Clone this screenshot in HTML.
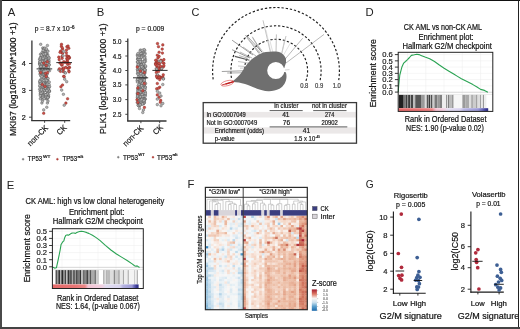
<!DOCTYPE html>
<html><head><meta charset="utf-8"><style>
html,body{margin:0;padding:0;background:#fff;}
svg{display:block;will-change:transform;}
text{font-family:"Liberation Sans", sans-serif;}
</style></head><body>
<svg width="520" height="329" viewBox="0 0 520 329">
<rect x="0" y="0" width="520" height="329" fill="#fff"/>
<text x="7.8" y="15.7" font-size="11.3" fill="#222">A</text>
<text x="96.8" y="15.8" font-size="11.3" fill="#222">B</text>
<text x="191.4" y="15.9" font-size="11.3" fill="#222" textLength="7.9" lengthAdjust="spacingAndGlyphs">C</text>
<text x="365.5" y="15.5" font-size="11.3" fill="#222">D</text>
<text x="6.7" y="188.6" font-size="11.3" fill="#222">E</text>
<text x="187.4" y="188.2" font-size="11.3" fill="#222">F</text>
<text x="365.7" y="188.2" font-size="11.3" fill="#222" textLength="7.9" lengthAdjust="spacingAndGlyphs">G</text>
<line x1="31.9" y1="40.5" x2="31.9" y2="120.8" stroke="#333" stroke-width="1.3" />
<line x1="31.2" y1="120.6" x2="70.2" y2="120.6" stroke="#333" stroke-width="1.3" />
<line x1="29" y1="63.5" x2="31.9" y2="63.5" stroke="#333" stroke-width="0.9" />
<text x="25.8" y="66.0" font-size="7.2" fill="#111" stroke="#111" stroke-width="0.2" text-anchor="end" >4</text>
<line x1="29" y1="90.4" x2="31.9" y2="90.4" stroke="#333" stroke-width="0.9" />
<text x="25.8" y="92.9" font-size="7.2" fill="#111" stroke="#111" stroke-width="0.2" text-anchor="end" >3</text>
<line x1="29" y1="117.2" x2="31.9" y2="117.2" stroke="#333" stroke-width="0.9" />
<text x="25.8" y="119.7" font-size="7.2" fill="#111" stroke="#111" stroke-width="0.2" text-anchor="end" >2</text>
<line x1="44.6" y1="120.6" x2="44.6" y2="122.8" stroke="#333" stroke-width="0.9" />
<line x1="64.7" y1="120.6" x2="64.7" y2="122.8" stroke="#333" stroke-width="0.9" />
<text transform="translate(16.2,79.2) rotate(-90)" font-size="9.6" fill="#111" stroke="#111" stroke-width="0.2" text-anchor="middle" textLength="113.7" lengthAdjust="spacingAndGlyphs">MKI67 (log10RPKM*1000 +1)</text>
<text x="34.8" y="31.1" font-size="6.8" fill="#222" stroke="#222" stroke-width="0.2" text-anchor="start" textLength="34.8" lengthAdjust="spacingAndGlyphs" >p = 8.7 x 10</text>
<text x="70.2" y="28.9" font-size="4.6" fill="#222" stroke="#222" stroke-width="0.2" text-anchor="start" textLength="4.5" lengthAdjust="spacingAndGlyphs" >-6</text>
<circle cx="46.40" cy="98.89" r="1.3" fill="#b4b4b4" stroke="#4a4a4a" stroke-width="0.4"/>
<circle cx="40.02" cy="67.43" r="1.3" fill="#b4b4b4" stroke="#4a4a4a" stroke-width="0.4"/>
<circle cx="45.90" cy="82.23" r="1.3" fill="#b4b4b4" stroke="#4a4a4a" stroke-width="0.4"/>
<circle cx="41.14" cy="94.82" r="1.3" fill="#b4b4b4" stroke="#4a4a4a" stroke-width="0.4"/>
<circle cx="41.64" cy="57.43" r="1.3" fill="#b4b4b4" stroke="#4a4a4a" stroke-width="0.4"/>
<circle cx="49.55" cy="70.75" r="1.3" fill="#b4b4b4" stroke="#4a4a4a" stroke-width="0.4"/>
<circle cx="47.40" cy="45.50" r="1.3" fill="#b4b4b4" stroke="#4a4a4a" stroke-width="0.4"/>
<circle cx="40.29" cy="79.93" r="1.3" fill="#b4b4b4" stroke="#4a4a4a" stroke-width="0.4"/>
<circle cx="44.03" cy="83.45" r="1.3" fill="#b4b4b4" stroke="#4a4a4a" stroke-width="0.4"/>
<circle cx="49.39" cy="91.41" r="1.3" fill="#b4b4b4" stroke="#4a4a4a" stroke-width="0.4"/>
<circle cx="46.36" cy="84.43" r="1.3" fill="#b4b4b4" stroke="#4a4a4a" stroke-width="0.4"/>
<circle cx="44.36" cy="58.63" r="1.3" fill="#b4b4b4" stroke="#4a4a4a" stroke-width="0.4"/>
<circle cx="39.88" cy="86.52" r="1.3" fill="#b4b4b4" stroke="#4a4a4a" stroke-width="0.4"/>
<circle cx="46.50" cy="60.59" r="1.3" fill="#b4b4b4" stroke="#4a4a4a" stroke-width="0.4"/>
<circle cx="42.81" cy="47.93" r="1.3" fill="#b4b4b4" stroke="#4a4a4a" stroke-width="0.4"/>
<circle cx="40.29" cy="63.35" r="1.3" fill="#b4b4b4" stroke="#4a4a4a" stroke-width="0.4"/>
<circle cx="40.25" cy="93.95" r="1.3" fill="#b4b4b4" stroke="#4a4a4a" stroke-width="0.4"/>
<circle cx="48.22" cy="96.32" r="1.3" fill="#b4b4b4" stroke="#4a4a4a" stroke-width="0.4"/>
<circle cx="47.91" cy="59.72" r="1.3" fill="#b4b4b4" stroke="#4a4a4a" stroke-width="0.4"/>
<circle cx="41.05" cy="71.00" r="1.3" fill="#b4b4b4" stroke="#4a4a4a" stroke-width="0.4"/>
<circle cx="40.53" cy="54.23" r="1.3" fill="#b4b4b4" stroke="#4a4a4a" stroke-width="0.4"/>
<circle cx="41.29" cy="81.60" r="1.3" fill="#b4b4b4" stroke="#4a4a4a" stroke-width="0.4"/>
<circle cx="39.80" cy="81.58" r="1.3" fill="#b4b4b4" stroke="#4a4a4a" stroke-width="0.4"/>
<circle cx="47.40" cy="103.00" r="1.3" fill="#b4b4b4" stroke="#4a4a4a" stroke-width="0.4"/>
<circle cx="46.77" cy="93.96" r="1.3" fill="#b4b4b4" stroke="#4a4a4a" stroke-width="0.4"/>
<circle cx="43.90" cy="64.64" r="1.3" fill="#b4b4b4" stroke="#4a4a4a" stroke-width="0.4"/>
<circle cx="44.97" cy="51.60" r="1.3" fill="#b4b4b4" stroke="#4a4a4a" stroke-width="0.4"/>
<circle cx="45.96" cy="87.73" r="1.3" fill="#b4b4b4" stroke="#4a4a4a" stroke-width="0.4"/>
<circle cx="39.68" cy="89.37" r="1.3" fill="#b4b4b4" stroke="#4a4a4a" stroke-width="0.4"/>
<circle cx="43.45" cy="63.88" r="1.3" fill="#b4b4b4" stroke="#4a4a4a" stroke-width="0.4"/>
<circle cx="42.04" cy="86.55" r="1.3" fill="#b4b4b4" stroke="#4a4a4a" stroke-width="0.4"/>
<circle cx="41.74" cy="91.05" r="1.3" fill="#b4b4b4" stroke="#4a4a4a" stroke-width="0.4"/>
<circle cx="47.24" cy="55.92" r="1.3" fill="#b4b4b4" stroke="#4a4a4a" stroke-width="0.4"/>
<circle cx="41.90" cy="103.00" r="1.3" fill="#b4b4b4" stroke="#4a4a4a" stroke-width="0.4"/>
<circle cx="40.12" cy="91.50" r="1.3" fill="#b4b4b4" stroke="#4a4a4a" stroke-width="0.4"/>
<circle cx="43.49" cy="74.23" r="1.3" fill="#b4b4b4" stroke="#4a4a4a" stroke-width="0.4"/>
<circle cx="41.76" cy="75.04" r="1.3" fill="#b4b4b4" stroke="#4a4a4a" stroke-width="0.4"/>
<circle cx="40.54" cy="57.36" r="1.3" fill="#b4b4b4" stroke="#4a4a4a" stroke-width="0.4"/>
<circle cx="46.60" cy="62.35" r="1.3" fill="#b4b4b4" stroke="#4a4a4a" stroke-width="0.4"/>
<circle cx="45.16" cy="81.01" r="1.3" fill="#b4b4b4" stroke="#4a4a4a" stroke-width="0.4"/>
<circle cx="46.43" cy="85.16" r="1.3" fill="#b4b4b4" stroke="#4a4a4a" stroke-width="0.4"/>
<circle cx="41.60" cy="84.33" r="1.3" fill="#b4b4b4" stroke="#4a4a4a" stroke-width="0.4"/>
<circle cx="47.37" cy="90.43" r="1.3" fill="#b4b4b4" stroke="#4a4a4a" stroke-width="0.4"/>
<circle cx="42.07" cy="72.96" r="1.3" fill="#b4b4b4" stroke="#4a4a4a" stroke-width="0.4"/>
<circle cx="43.36" cy="75.58" r="1.3" fill="#b4b4b4" stroke="#4a4a4a" stroke-width="0.4"/>
<circle cx="44.58" cy="62.52" r="1.3" fill="#b4b4b4" stroke="#4a4a4a" stroke-width="0.4"/>
<circle cx="42.93" cy="93.61" r="1.3" fill="#b4b4b4" stroke="#4a4a4a" stroke-width="0.4"/>
<circle cx="44.22" cy="87.15" r="1.3" fill="#b4b4b4" stroke="#4a4a4a" stroke-width="0.4"/>
<circle cx="43.39" cy="65.76" r="1.3" fill="#b4b4b4" stroke="#4a4a4a" stroke-width="0.4"/>
<circle cx="41.14" cy="97.91" r="1.3" fill="#b4b4b4" stroke="#4a4a4a" stroke-width="0.4"/>
<circle cx="42.50" cy="101.10" r="1.3" fill="#b4b4b4" stroke="#4a4a4a" stroke-width="0.4"/>
<circle cx="44.52" cy="75.07" r="1.3" fill="#b4b4b4" stroke="#4a4a4a" stroke-width="0.4"/>
<circle cx="47.36" cy="78.52" r="1.3" fill="#b4b4b4" stroke="#4a4a4a" stroke-width="0.4"/>
<circle cx="44.58" cy="51.12" r="1.3" fill="#b4b4b4" stroke="#4a4a4a" stroke-width="0.4"/>
<circle cx="41.50" cy="93.56" r="1.3" fill="#b4b4b4" stroke="#4a4a4a" stroke-width="0.4"/>
<circle cx="39.97" cy="61.60" r="1.3" fill="#b4b4b4" stroke="#4a4a4a" stroke-width="0.4"/>
<circle cx="40.70" cy="44.30" r="1.3" fill="#b4b4b4" stroke="#4a4a4a" stroke-width="0.4"/>
<circle cx="45.73" cy="89.53" r="1.3" fill="#b4b4b4" stroke="#4a4a4a" stroke-width="0.4"/>
<circle cx="43.00" cy="94.14" r="1.3" fill="#b4b4b4" stroke="#4a4a4a" stroke-width="0.4"/>
<circle cx="39.81" cy="83.12" r="1.3" fill="#b4b4b4" stroke="#4a4a4a" stroke-width="0.4"/>
<circle cx="49.19" cy="64.60" r="1.3" fill="#b4b4b4" stroke="#4a4a4a" stroke-width="0.4"/>
<circle cx="48.73" cy="61.58" r="1.3" fill="#b4b4b4" stroke="#4a4a4a" stroke-width="0.4"/>
<circle cx="42.98" cy="89.81" r="1.3" fill="#b4b4b4" stroke="#4a4a4a" stroke-width="0.4"/>
<circle cx="44.04" cy="80.35" r="1.3" fill="#b4b4b4" stroke="#4a4a4a" stroke-width="0.4"/>
<circle cx="46.46" cy="63.02" r="1.3" fill="#b4b4b4" stroke="#4a4a4a" stroke-width="0.4"/>
<circle cx="44.72" cy="90.16" r="1.3" fill="#b4b4b4" stroke="#4a4a4a" stroke-width="0.4"/>
<circle cx="40.71" cy="82.29" r="1.3" fill="#b4b4b4" stroke="#4a4a4a" stroke-width="0.4"/>
<circle cx="39.96" cy="74.10" r="1.3" fill="#b4b4b4" stroke="#4a4a4a" stroke-width="0.4"/>
<circle cx="48.05" cy="64.69" r="1.3" fill="#b4b4b4" stroke="#4a4a4a" stroke-width="0.4"/>
<circle cx="47.70" cy="54.58" r="1.3" fill="#b4b4b4" stroke="#4a4a4a" stroke-width="0.4"/>
<circle cx="45.10" cy="85.66" r="1.3" fill="#b4b4b4" stroke="#4a4a4a" stroke-width="0.4"/>
<circle cx="46.70" cy="61.01" r="1.3" fill="#b4b4b4" stroke="#4a4a4a" stroke-width="0.4"/>
<circle cx="39.64" cy="71.11" r="1.3" fill="#b4b4b4" stroke="#4a4a4a" stroke-width="0.4"/>
<circle cx="43.15" cy="95.17" r="1.3" fill="#b4b4b4" stroke="#4a4a4a" stroke-width="0.4"/>
<circle cx="44.17" cy="48.38" r="1.3" fill="#b4b4b4" stroke="#4a4a4a" stroke-width="0.4"/>
<circle cx="43.25" cy="71.84" r="1.3" fill="#b4b4b4" stroke="#4a4a4a" stroke-width="0.4"/>
<circle cx="48.48" cy="96.74" r="1.3" fill="#b4b4b4" stroke="#4a4a4a" stroke-width="0.4"/>
<circle cx="44.33" cy="94.17" r="1.3" fill="#b4b4b4" stroke="#4a4a4a" stroke-width="0.4"/>
<circle cx="43.84" cy="64.04" r="1.3" fill="#b4b4b4" stroke="#4a4a4a" stroke-width="0.4"/>
<circle cx="42.70" cy="92.95" r="1.3" fill="#b4b4b4" stroke="#4a4a4a" stroke-width="0.4"/>
<circle cx="42.78" cy="69.34" r="1.3" fill="#b4b4b4" stroke="#4a4a4a" stroke-width="0.4"/>
<circle cx="41.85" cy="71.47" r="1.3" fill="#b4b4b4" stroke="#4a4a4a" stroke-width="0.4"/>
<circle cx="41.48" cy="65.53" r="1.3" fill="#b4b4b4" stroke="#4a4a4a" stroke-width="0.4"/>
<circle cx="44.54" cy="67.92" r="1.3" fill="#b4b4b4" stroke="#4a4a4a" stroke-width="0.4"/>
<circle cx="49.38" cy="90.88" r="1.3" fill="#b4b4b4" stroke="#4a4a4a" stroke-width="0.4"/>
<circle cx="43.01" cy="60.54" r="1.3" fill="#b4b4b4" stroke="#4a4a4a" stroke-width="0.4"/>
<circle cx="41.87" cy="62.06" r="1.3" fill="#b4b4b4" stroke="#4a4a4a" stroke-width="0.4"/>
<circle cx="43.35" cy="87.56" r="1.3" fill="#b4b4b4" stroke="#4a4a4a" stroke-width="0.4"/>
<circle cx="40.72" cy="63.17" r="1.3" fill="#b4b4b4" stroke="#4a4a4a" stroke-width="0.4"/>
<circle cx="48.32" cy="89.34" r="1.3" fill="#b4b4b4" stroke="#4a4a4a" stroke-width="0.4"/>
<circle cx="48.83" cy="62.25" r="1.3" fill="#b4b4b4" stroke="#4a4a4a" stroke-width="0.4"/>
<circle cx="41.15" cy="69.95" r="1.3" fill="#b4b4b4" stroke="#4a4a4a" stroke-width="0.4"/>
<circle cx="47.34" cy="90.04" r="1.3" fill="#b4b4b4" stroke="#4a4a4a" stroke-width="0.4"/>
<circle cx="46.80" cy="88.71" r="1.3" fill="#b4b4b4" stroke="#4a4a4a" stroke-width="0.4"/>
<circle cx="43.26" cy="82.24" r="1.3" fill="#b4b4b4" stroke="#4a4a4a" stroke-width="0.4"/>
<circle cx="41.01" cy="73.56" r="1.3" fill="#b4b4b4" stroke="#4a4a4a" stroke-width="0.4"/>
<circle cx="42.63" cy="53.42" r="1.3" fill="#b4b4b4" stroke="#4a4a4a" stroke-width="0.4"/>
<circle cx="48.34" cy="85.70" r="1.3" fill="#b4b4b4" stroke="#4a4a4a" stroke-width="0.4"/>
<circle cx="42.68" cy="59.87" r="1.3" fill="#b4b4b4" stroke="#4a4a4a" stroke-width="0.4"/>
<circle cx="45.09" cy="76.14" r="1.3" fill="#b4b4b4" stroke="#4a4a4a" stroke-width="0.4"/>
<circle cx="42.63" cy="56.66" r="1.3" fill="#b4b4b4" stroke="#4a4a4a" stroke-width="0.4"/>
<circle cx="44.86" cy="85.17" r="1.3" fill="#b4b4b4" stroke="#4a4a4a" stroke-width="0.4"/>
<circle cx="41.77" cy="64.63" r="1.3" fill="#b4b4b4" stroke="#4a4a4a" stroke-width="0.4"/>
<circle cx="47.23" cy="73.90" r="1.3" fill="#b4b4b4" stroke="#4a4a4a" stroke-width="0.4"/>
<circle cx="45.54" cy="65.88" r="1.3" fill="#b4b4b4" stroke="#4a4a4a" stroke-width="0.4"/>
<circle cx="43.80" cy="66.33" r="1.3" fill="#b4b4b4" stroke="#4a4a4a" stroke-width="0.4"/>
<circle cx="43.03" cy="78.39" r="1.3" fill="#b4b4b4" stroke="#4a4a4a" stroke-width="0.4"/>
<circle cx="42.33" cy="81.79" r="1.3" fill="#b4b4b4" stroke="#4a4a4a" stroke-width="0.4"/>
<circle cx="39.63" cy="63.86" r="1.3" fill="#b4b4b4" stroke="#4a4a4a" stroke-width="0.4"/>
<circle cx="43.91" cy="83.13" r="1.3" fill="#b4b4b4" stroke="#4a4a4a" stroke-width="0.4"/>
<circle cx="42.03" cy="56.91" r="1.3" fill="#b4b4b4" stroke="#4a4a4a" stroke-width="0.4"/>
<circle cx="47.16" cy="80.93" r="1.3" fill="#b4b4b4" stroke="#4a4a4a" stroke-width="0.4"/>
<circle cx="47.11" cy="88.46" r="1.3" fill="#b4b4b4" stroke="#4a4a4a" stroke-width="0.4"/>
<circle cx="48.25" cy="70.21" r="1.3" fill="#b4b4b4" stroke="#4a4a4a" stroke-width="0.4"/>
<circle cx="42.98" cy="56.19" r="1.3" fill="#b4b4b4" stroke="#4a4a4a" stroke-width="0.4"/>
<circle cx="47.82" cy="89.42" r="1.3" fill="#b4b4b4" stroke="#4a4a4a" stroke-width="0.4"/>
<circle cx="45.80" cy="80.90" r="1.3" fill="#b4b4b4" stroke="#4a4a4a" stroke-width="0.4"/>
<circle cx="42.65" cy="75.74" r="1.3" fill="#b4b4b4" stroke="#4a4a4a" stroke-width="0.4"/>
<circle cx="47.55" cy="91.56" r="1.3" fill="#b4b4b4" stroke="#4a4a4a" stroke-width="0.4"/>
<circle cx="41.30" cy="61.31" r="1.3" fill="#b4b4b4" stroke="#4a4a4a" stroke-width="0.4"/>
<circle cx="44.80" cy="90.63" r="1.3" fill="#b4b4b4" stroke="#4a4a4a" stroke-width="0.4"/>
<circle cx="47.63" cy="79.98" r="1.3" fill="#b4b4b4" stroke="#4a4a4a" stroke-width="0.4"/>
<circle cx="40.19" cy="65.41" r="1.3" fill="#b4b4b4" stroke="#4a4a4a" stroke-width="0.4"/>
<circle cx="45.68" cy="52.26" r="1.3" fill="#b4b4b4" stroke="#4a4a4a" stroke-width="0.4"/>
<circle cx="46.41" cy="75.77" r="1.3" fill="#b4b4b4" stroke="#4a4a4a" stroke-width="0.4"/>
<circle cx="43.24" cy="78.59" r="1.3" fill="#b4b4b4" stroke="#4a4a4a" stroke-width="0.4"/>
<circle cx="42.89" cy="95.02" r="1.3" fill="#b4b4b4" stroke="#4a4a4a" stroke-width="0.4"/>
<circle cx="43.65" cy="58.32" r="1.3" fill="#b4b4b4" stroke="#4a4a4a" stroke-width="0.4"/>
<circle cx="46.38" cy="76.54" r="1.3" fill="#b4b4b4" stroke="#4a4a4a" stroke-width="0.4"/>
<circle cx="46.75" cy="56.90" r="1.3" fill="#b4b4b4" stroke="#4a4a4a" stroke-width="0.4"/>
<circle cx="42.39" cy="90.65" r="1.3" fill="#b4b4b4" stroke="#4a4a4a" stroke-width="0.4"/>
<circle cx="43.28" cy="82.87" r="1.3" fill="#b4b4b4" stroke="#4a4a4a" stroke-width="0.4"/>
<circle cx="43.00" cy="53.17" r="1.3" fill="#b4b4b4" stroke="#4a4a4a" stroke-width="0.4"/>
<circle cx="48.11" cy="60.45" r="1.3" fill="#b4b4b4" stroke="#4a4a4a" stroke-width="0.4"/>
<circle cx="45.61" cy="57.53" r="1.3" fill="#b4b4b4" stroke="#4a4a4a" stroke-width="0.4"/>
<circle cx="42.73" cy="81.76" r="1.3" fill="#b4b4b4" stroke="#4a4a4a" stroke-width="0.4"/>
<circle cx="42.56" cy="84.39" r="1.3" fill="#b4b4b4" stroke="#4a4a4a" stroke-width="0.4"/>
<circle cx="49.27" cy="86.79" r="1.3" fill="#b4b4b4" stroke="#4a4a4a" stroke-width="0.4"/>
<circle cx="49.53" cy="86.62" r="1.3" fill="#b4b4b4" stroke="#4a4a4a" stroke-width="0.4"/>
<circle cx="40.95" cy="91.92" r="1.3" fill="#b4b4b4" stroke="#4a4a4a" stroke-width="0.4"/>
<circle cx="43.84" cy="95.24" r="1.3" fill="#b4b4b4" stroke="#4a4a4a" stroke-width="0.4"/>
<circle cx="43.39" cy="49.38" r="1.3" fill="#b4b4b4" stroke="#4a4a4a" stroke-width="0.4"/>
<circle cx="43.68" cy="77.77" r="1.3" fill="#b4b4b4" stroke="#4a4a4a" stroke-width="0.4"/>
<circle cx="46.47" cy="94.39" r="1.3" fill="#b4b4b4" stroke="#4a4a4a" stroke-width="0.4"/>
<circle cx="45.88" cy="84.78" r="1.3" fill="#b4b4b4" stroke="#4a4a4a" stroke-width="0.4"/>
<circle cx="44.85" cy="86.48" r="1.3" fill="#b4b4b4" stroke="#4a4a4a" stroke-width="0.4"/>
<circle cx="45.47" cy="63.18" r="1.3" fill="#b4b4b4" stroke="#4a4a4a" stroke-width="0.4"/>
<circle cx="42.73" cy="53.29" r="1.3" fill="#b4b4b4" stroke="#4a4a4a" stroke-width="0.4"/>
<circle cx="47.08" cy="78.32" r="1.3" fill="#b4b4b4" stroke="#4a4a4a" stroke-width="0.4"/>
<circle cx="48.91" cy="60.43" r="1.3" fill="#b4b4b4" stroke="#4a4a4a" stroke-width="0.4"/>
<circle cx="43.22" cy="90.49" r="1.3" fill="#b4b4b4" stroke="#4a4a4a" stroke-width="0.4"/>
<circle cx="43.97" cy="74.48" r="1.3" fill="#b4b4b4" stroke="#4a4a4a" stroke-width="0.4"/>
<circle cx="43.93" cy="66.99" r="1.3" fill="#b4b4b4" stroke="#4a4a4a" stroke-width="0.4"/>
<circle cx="48.09" cy="78.49" r="1.3" fill="#b4b4b4" stroke="#4a4a4a" stroke-width="0.4"/>
<circle cx="44.43" cy="90.37" r="1.3" fill="#b4b4b4" stroke="#4a4a4a" stroke-width="0.4"/>
<circle cx="42.61" cy="98.85" r="1.3" fill="#b4b4b4" stroke="#4a4a4a" stroke-width="0.4"/>
<circle cx="44.88" cy="86.87" r="1.3" fill="#b4b4b4" stroke="#4a4a4a" stroke-width="0.4"/>
<circle cx="47.64" cy="58.55" r="1.3" fill="#b4b4b4" stroke="#4a4a4a" stroke-width="0.4"/>
<circle cx="44.40" cy="84.81" r="1.3" fill="#b4b4b4" stroke="#4a4a4a" stroke-width="0.4"/>
<circle cx="44.77" cy="73.36" r="1.3" fill="#b4b4b4" stroke="#4a4a4a" stroke-width="0.4"/>
<circle cx="48.63" cy="88.77" r="1.3" fill="#b4b4b4" stroke="#4a4a4a" stroke-width="0.4"/>
<circle cx="41.85" cy="78.39" r="1.3" fill="#b4b4b4" stroke="#4a4a4a" stroke-width="0.4"/>
<circle cx="42.25" cy="75.52" r="1.3" fill="#b4b4b4" stroke="#4a4a4a" stroke-width="0.4"/>
<circle cx="39.64" cy="59.30" r="1.3" fill="#b4b4b4" stroke="#4a4a4a" stroke-width="0.4"/>
<circle cx="47.69" cy="97.36" r="1.3" fill="#b4b4b4" stroke="#4a4a4a" stroke-width="0.4"/>
<circle cx="43.23" cy="79.41" r="1.3" fill="#b4b4b4" stroke="#4a4a4a" stroke-width="0.4"/>
<circle cx="47.53" cy="67.94" r="1.3" fill="#b4b4b4" stroke="#4a4a4a" stroke-width="0.4"/>
<circle cx="46.02" cy="68.42" r="1.3" fill="#b4b4b4" stroke="#4a4a4a" stroke-width="0.4"/>
<circle cx="43.34" cy="97.08" r="1.3" fill="#b4b4b4" stroke="#4a4a4a" stroke-width="0.4"/>
<circle cx="42.79" cy="95.65" r="1.3" fill="#b4b4b4" stroke="#4a4a4a" stroke-width="0.4"/>
<circle cx="46.04" cy="80.31" r="1.3" fill="#b4b4b4" stroke="#4a4a4a" stroke-width="0.4"/>
<circle cx="42.84" cy="96.07" r="1.3" fill="#b4b4b4" stroke="#4a4a4a" stroke-width="0.4"/>
<circle cx="45.40" cy="88.48" r="1.3" fill="#b4b4b4" stroke="#4a4a4a" stroke-width="0.4"/>
<circle cx="41.44" cy="60.64" r="1.3" fill="#b4b4b4" stroke="#4a4a4a" stroke-width="0.4"/>
<circle cx="48.89" cy="57.49" r="1.3" fill="#b4b4b4" stroke="#4a4a4a" stroke-width="0.4"/>
<circle cx="46.11" cy="63.60" r="1.3" fill="#b4b4b4" stroke="#4a4a4a" stroke-width="0.4"/>
<circle cx="45.03" cy="97.23" r="1.3" fill="#b4b4b4" stroke="#4a4a4a" stroke-width="0.4"/>
<circle cx="41.73" cy="68.91" r="1.3" fill="#b4b4b4" stroke="#4a4a4a" stroke-width="0.4"/>
<circle cx="43.55" cy="51.27" r="1.3" fill="#b4b4b4" stroke="#4a4a4a" stroke-width="0.4"/>
<circle cx="48.85" cy="91.80" r="1.3" fill="#b4b4b4" stroke="#4a4a4a" stroke-width="0.4"/>
<circle cx="42.47" cy="55.46" r="1.3" fill="#b4b4b4" stroke="#4a4a4a" stroke-width="0.4"/>
<circle cx="40.64" cy="60.28" r="1.3" fill="#b4b4b4" stroke="#4a4a4a" stroke-width="0.4"/>
<circle cx="40.18" cy="59.49" r="1.3" fill="#b4b4b4" stroke="#4a4a4a" stroke-width="0.4"/>
<circle cx="43.04" cy="97.26" r="1.3" fill="#b4b4b4" stroke="#4a4a4a" stroke-width="0.4"/>
<circle cx="39.68" cy="64.05" r="1.3" fill="#b4b4b4" stroke="#4a4a4a" stroke-width="0.4"/>
<circle cx="40.37" cy="98.81" r="1.3" fill="#b4b4b4" stroke="#4a4a4a" stroke-width="0.4"/>
<circle cx="44.06" cy="66.61" r="1.3" fill="#b4b4b4" stroke="#4a4a4a" stroke-width="0.4"/>
<circle cx="46.46" cy="98.24" r="1.3" fill="#b4b4b4" stroke="#4a4a4a" stroke-width="0.4"/>
<circle cx="42.43" cy="92.07" r="1.3" fill="#b4b4b4" stroke="#4a4a4a" stroke-width="0.4"/>
<circle cx="48.88" cy="58.74" r="1.3" fill="#b4b4b4" stroke="#4a4a4a" stroke-width="0.4"/>
<circle cx="44.93" cy="69.20" r="1.3" fill="#b4b4b4" stroke="#4a4a4a" stroke-width="0.4"/>
<circle cx="46.28" cy="87.89" r="1.3" fill="#b4b4b4" stroke="#4a4a4a" stroke-width="0.4"/>
<circle cx="43.79" cy="48.94" r="1.3" fill="#b4b4b4" stroke="#4a4a4a" stroke-width="0.4"/>
<circle cx="47.70" cy="98.16" r="1.3" fill="#b4b4b4" stroke="#4a4a4a" stroke-width="0.4"/>
<circle cx="44.74" cy="85.27" r="1.3" fill="#b4b4b4" stroke="#4a4a4a" stroke-width="0.4"/>
<circle cx="42.17" cy="79.88" r="1.3" fill="#b4b4b4" stroke="#4a4a4a" stroke-width="0.4"/>
<circle cx="48.08" cy="62.14" r="1.3" fill="#b4b4b4" stroke="#4a4a4a" stroke-width="0.4"/>
<circle cx="45.36" cy="79.75" r="1.3" fill="#b4b4b4" stroke="#4a4a4a" stroke-width="0.4"/>
<circle cx="48.53" cy="94.79" r="1.3" fill="#b4b4b4" stroke="#4a4a4a" stroke-width="0.4"/>
<circle cx="47.32" cy="84.25" r="1.3" fill="#b4b4b4" stroke="#4a4a4a" stroke-width="0.4"/>
<circle cx="47.40" cy="63.80" r="1.3" fill="#b4b4b4" stroke="#4a4a4a" stroke-width="0.4"/>
<circle cx="40.76" cy="75.89" r="1.3" fill="#b4b4b4" stroke="#4a4a4a" stroke-width="0.4"/>
<circle cx="44.16" cy="98.67" r="1.3" fill="#b4b4b4" stroke="#4a4a4a" stroke-width="0.4"/>
<circle cx="42.68" cy="56.55" r="1.3" fill="#b4b4b4" stroke="#4a4a4a" stroke-width="0.4"/>
<circle cx="40.08" cy="62.91" r="1.3" fill="#b4b4b4" stroke="#4a4a4a" stroke-width="0.4"/>
<circle cx="42.70" cy="54.43" r="1.3" fill="#b4b4b4" stroke="#4a4a4a" stroke-width="0.4"/>
<circle cx="46.25" cy="54.21" r="1.3" fill="#b4b4b4" stroke="#4a4a4a" stroke-width="0.4"/>
<circle cx="47.53" cy="88.97" r="1.3" fill="#b4b4b4" stroke="#4a4a4a" stroke-width="0.4"/>
<circle cx="49.24" cy="90.94" r="1.3" fill="#b4b4b4" stroke="#4a4a4a" stroke-width="0.4"/>
<circle cx="49.14" cy="84.52" r="1.3" fill="#b4b4b4" stroke="#4a4a4a" stroke-width="0.4"/>
<circle cx="47.86" cy="70.04" r="1.3" fill="#b4b4b4" stroke="#4a4a4a" stroke-width="0.4"/>
<circle cx="39.92" cy="62.21" r="1.3" fill="#b4b4b4" stroke="#4a4a4a" stroke-width="0.4"/>
<circle cx="47.28" cy="65.70" r="1.3" fill="#b4b4b4" stroke="#4a4a4a" stroke-width="0.4"/>
<circle cx="42.13" cy="85.73" r="1.3" fill="#b4b4b4" stroke="#4a4a4a" stroke-width="0.4"/>
<circle cx="42.12" cy="52.48" r="1.3" fill="#b4b4b4" stroke="#4a4a4a" stroke-width="0.4"/>
<circle cx="41.84" cy="76.63" r="1.3" fill="#b4b4b4" stroke="#4a4a4a" stroke-width="0.4"/>
<circle cx="46.08" cy="96.98" r="1.3" fill="#b4b4b4" stroke="#4a4a4a" stroke-width="0.4"/>
<circle cx="40.63" cy="67.10" r="1.3" fill="#b4b4b4" stroke="#4a4a4a" stroke-width="0.4"/>
<circle cx="47.93" cy="97.10" r="1.3" fill="#b4b4b4" stroke="#4a4a4a" stroke-width="0.4"/>
<circle cx="48.15" cy="89.41" r="1.3" fill="#b4b4b4" stroke="#4a4a4a" stroke-width="0.4"/>
<circle cx="43.86" cy="80.66" r="1.3" fill="#b4b4b4" stroke="#4a4a4a" stroke-width="0.4"/>
<circle cx="45.84" cy="59.98" r="1.3" fill="#b4b4b4" stroke="#4a4a4a" stroke-width="0.4"/>
<circle cx="47.20" cy="90.46" r="1.3" fill="#b4b4b4" stroke="#4a4a4a" stroke-width="0.4"/>
<circle cx="47.82" cy="97.56" r="1.3" fill="#b4b4b4" stroke="#4a4a4a" stroke-width="0.4"/>
<circle cx="41.38" cy="71.66" r="1.3" fill="#b4b4b4" stroke="#4a4a4a" stroke-width="0.4"/>
<circle cx="42.58" cy="69.24" r="1.3" fill="#b4b4b4" stroke="#4a4a4a" stroke-width="0.4"/>
<circle cx="48.88" cy="57.92" r="1.3" fill="#b4b4b4" stroke="#4a4a4a" stroke-width="0.4"/>
<circle cx="48.00" cy="101.10" r="1.3" fill="#b4b4b4" stroke="#4a4a4a" stroke-width="0.4"/>
<circle cx="39.79" cy="85.41" r="1.3" fill="#b4b4b4" stroke="#4a4a4a" stroke-width="0.4"/>
<circle cx="47.75" cy="55.93" r="1.3" fill="#b4b4b4" stroke="#4a4a4a" stroke-width="0.4"/>
<circle cx="47.53" cy="50.98" r="1.3" fill="#b4b4b4" stroke="#4a4a4a" stroke-width="0.4"/>
<circle cx="44.97" cy="48.14" r="1.3" fill="#b4b4b4" stroke="#4a4a4a" stroke-width="0.4"/>
<circle cx="45.41" cy="88.09" r="1.3" fill="#b4b4b4" stroke="#4a4a4a" stroke-width="0.4"/>
<circle cx="43.70" cy="109.90" r="1.3" fill="#b4b4b4" stroke="#4a4a4a" stroke-width="0.4"/>
<circle cx="42.58" cy="61.58" r="1.3" fill="#b4b4b4" stroke="#4a4a4a" stroke-width="0.4"/>
<circle cx="43.49" cy="83.18" r="1.3" fill="#b4b4b4" stroke="#4a4a4a" stroke-width="0.4"/>
<circle cx="46.80" cy="107.20" r="1.3" fill="#b4b4b4" stroke="#4a4a4a" stroke-width="0.4"/>
<circle cx="46.84" cy="90.60" r="1.3" fill="#b4b4b4" stroke="#4a4a4a" stroke-width="0.4"/>
<circle cx="43.12" cy="53.52" r="1.3" fill="#b4b4b4" stroke="#4a4a4a" stroke-width="0.4"/>
<circle cx="41.48" cy="55.26" r="1.3" fill="#b4b4b4" stroke="#4a4a4a" stroke-width="0.4"/>
<circle cx="43.52" cy="72.02" r="1.3" fill="#b4b4b4" stroke="#4a4a4a" stroke-width="0.4"/>
<circle cx="44.50" cy="56.99" r="1.3" fill="#b4b4b4" stroke="#4a4a4a" stroke-width="0.4"/>
<circle cx="40.83" cy="72.03" r="1.3" fill="#b4b4b4" stroke="#4a4a4a" stroke-width="0.4"/>
<circle cx="40.33" cy="95.61" r="1.3" fill="#b4b4b4" stroke="#4a4a4a" stroke-width="0.4"/>
<circle cx="41.47" cy="89.09" r="1.3" fill="#b4b4b4" stroke="#4a4a4a" stroke-width="0.4"/>
<circle cx="40.36" cy="57.95" r="1.3" fill="#b4b4b4" stroke="#4a4a4a" stroke-width="0.4"/>
<circle cx="46.03" cy="53.91" r="1.3" fill="#b4b4b4" stroke="#4a4a4a" stroke-width="0.4"/>
<circle cx="42.87" cy="89.76" r="1.3" fill="#b4b4b4" stroke="#4a4a4a" stroke-width="0.4"/>
<circle cx="41.33" cy="89.94" r="1.3" fill="#b4b4b4" stroke="#4a4a4a" stroke-width="0.4"/>
<circle cx="40.87" cy="83.14" r="1.3" fill="#b4b4b4" stroke="#4a4a4a" stroke-width="0.4"/>
<circle cx="40.20" cy="61.66" r="1.3" fill="#b4b4b4" stroke="#4a4a4a" stroke-width="0.4"/>
<circle cx="45.68" cy="54.81" r="1.3" fill="#b4b4b4" stroke="#4a4a4a" stroke-width="0.4"/>
<circle cx="44.01" cy="71.33" r="1.3" fill="#b4b4b4" stroke="#4a4a4a" stroke-width="0.4"/>
<circle cx="49.23" cy="82.06" r="1.3" fill="#b4b4b4" stroke="#4a4a4a" stroke-width="0.4"/>
<circle cx="44.58" cy="54.58" r="1.3" fill="#b4b4b4" stroke="#4a4a4a" stroke-width="0.4"/>
<circle cx="39.94" cy="81.33" r="1.3" fill="#b4b4b4" stroke="#4a4a4a" stroke-width="0.4"/>
<circle cx="42.69" cy="57.35" r="1.3" fill="#b4b4b4" stroke="#4a4a4a" stroke-width="0.4"/>
<circle cx="43.12" cy="50.44" r="1.3" fill="#b4b4b4" stroke="#4a4a4a" stroke-width="0.4"/>
<circle cx="41.34" cy="65.91" r="1.3" fill="#b4b4b4" stroke="#4a4a4a" stroke-width="0.4"/>
<circle cx="43.83" cy="54.24" r="1.3" fill="#b4b4b4" stroke="#4a4a4a" stroke-width="0.4"/>
<circle cx="47.39" cy="94.01" r="1.3" fill="#b4b4b4" stroke="#4a4a4a" stroke-width="0.4"/>
<circle cx="40.89" cy="66.56" r="1.3" fill="#b4b4b4" stroke="#4a4a4a" stroke-width="0.4"/>
<circle cx="43.09" cy="58.33" r="1.3" fill="#b4b4b4" stroke="#4a4a4a" stroke-width="0.4"/>
<circle cx="45.85" cy="94.69" r="1.3" fill="#b4b4b4" stroke="#4a4a4a" stroke-width="0.4"/>
<circle cx="47.85" cy="51.19" r="1.3" fill="#b4b4b4" stroke="#4a4a4a" stroke-width="0.4"/>
<circle cx="46.38" cy="48.96" r="1.3" fill="#b4b4b4" stroke="#4a4a4a" stroke-width="0.4"/>
<circle cx="41.93" cy="63.68" r="1.3" fill="#b4b4b4" stroke="#4a4a4a" stroke-width="0.4"/>
<circle cx="49.11" cy="65.00" r="1.3" fill="#b4b4b4" stroke="#4a4a4a" stroke-width="0.4"/>
<circle cx="45.42" cy="53.81" r="1.3" fill="#b4b4b4" stroke="#4a4a4a" stroke-width="0.4"/>
<circle cx="41.09" cy="93.30" r="1.3" fill="#b4b4b4" stroke="#4a4a4a" stroke-width="0.4"/>
<circle cx="46.53" cy="80.53" r="1.3" fill="#b4b4b4" stroke="#4a4a4a" stroke-width="0.4"/>
<circle cx="48.61" cy="67.23" r="1.3" fill="#b4b4b4" stroke="#4a4a4a" stroke-width="0.4"/>
<circle cx="43.70" cy="63.10" r="1.3" fill="#cc5048" stroke="#7c2620" stroke-width="0.4"/>
<circle cx="47.40" cy="61.70" r="1.3" fill="#cc5048" stroke="#7c2620" stroke-width="0.4"/>
<circle cx="46.20" cy="65.50" r="1.3" fill="#cc5048" stroke="#7c2620" stroke-width="0.4"/>
<circle cx="40.70" cy="72.60" r="1.3" fill="#cc5048" stroke="#7c2620" stroke-width="0.4"/>
<circle cx="45.60" cy="73.50" r="1.3" fill="#cc5048" stroke="#7c2620" stroke-width="0.4"/>
<circle cx="47.40" cy="72.60" r="1.3" fill="#cc5048" stroke="#7c2620" stroke-width="0.4"/>
<circle cx="46.20" cy="76.50" r="1.3" fill="#cc5048" stroke="#7c2620" stroke-width="0.4"/>
<circle cx="45.00" cy="86.50" r="1.3" fill="#cc5048" stroke="#7c2620" stroke-width="0.4"/>
<circle cx="43.70" cy="113.30" r="1.3" fill="#cc5048" stroke="#7c2620" stroke-width="0.4"/>
<circle cx="42.30" cy="84.50" r="1.3" fill="#cc5048" stroke="#7c2620" stroke-width="0.4"/>
<circle cx="61.50" cy="44.30" r="1.3" fill="#cc5048" stroke="#7c2620" stroke-width="0.4"/>
<circle cx="62.08" cy="52.85" r="1.3" fill="#cc5048" stroke="#7c2620" stroke-width="0.4"/>
<circle cx="62.07" cy="56.37" r="1.3" fill="#cc5048" stroke="#7c2620" stroke-width="0.4"/>
<circle cx="61.30" cy="46.32" r="1.3" fill="#cc5048" stroke="#7c2620" stroke-width="0.4"/>
<circle cx="62.52" cy="53.14" r="1.3" fill="#cc5048" stroke="#7c2620" stroke-width="0.4"/>
<circle cx="60.69" cy="51.16" r="1.3" fill="#cc5048" stroke="#7c2620" stroke-width="0.4"/>
<circle cx="60.04" cy="52.31" r="1.3" fill="#cc5048" stroke="#7c2620" stroke-width="0.4"/>
<circle cx="62.57" cy="49.07" r="1.3" fill="#cc5048" stroke="#7c2620" stroke-width="0.4"/>
<circle cx="62.23" cy="47.76" r="1.3" fill="#cc5048" stroke="#7c2620" stroke-width="0.4"/>
<circle cx="66.38" cy="52.79" r="1.3" fill="#cc5048" stroke="#7c2620" stroke-width="0.4"/>
<circle cx="66.63" cy="55.59" r="1.3" fill="#cc5048" stroke="#7c2620" stroke-width="0.4"/>
<circle cx="68.62" cy="56.81" r="1.3" fill="#cc5048" stroke="#7c2620" stroke-width="0.4"/>
<circle cx="67.62" cy="56.58" r="1.3" fill="#cc5048" stroke="#7c2620" stroke-width="0.4"/>
<circle cx="68.82" cy="48.25" r="1.3" fill="#cc5048" stroke="#7c2620" stroke-width="0.4"/>
<circle cx="68.68" cy="56.63" r="1.3" fill="#cc5048" stroke="#7c2620" stroke-width="0.4"/>
<circle cx="66.50" cy="49.97" r="1.3" fill="#cc5048" stroke="#7c2620" stroke-width="0.4"/>
<circle cx="66.90" cy="46.72" r="1.3" fill="#cc5048" stroke="#7c2620" stroke-width="0.4"/>
<circle cx="68.03" cy="46.04" r="1.3" fill="#cc5048" stroke="#7c2620" stroke-width="0.4"/>
<circle cx="67.47" cy="61.65" r="1.3" fill="#cc5048" stroke="#7c2620" stroke-width="0.4"/>
<circle cx="63.69" cy="61.74" r="1.3" fill="#cc5048" stroke="#7c2620" stroke-width="0.4"/>
<circle cx="69.22" cy="57.86" r="1.3" fill="#cc5048" stroke="#7c2620" stroke-width="0.4"/>
<circle cx="67.76" cy="68.25" r="1.3" fill="#cc5048" stroke="#7c2620" stroke-width="0.4"/>
<circle cx="62.40" cy="68.82" r="1.3" fill="#cc5048" stroke="#7c2620" stroke-width="0.4"/>
<circle cx="58.82" cy="57.14" r="1.3" fill="#cc5048" stroke="#7c2620" stroke-width="0.4"/>
<circle cx="60.50" cy="71.33" r="1.3" fill="#cc5048" stroke="#7c2620" stroke-width="0.4"/>
<circle cx="68.85" cy="70.94" r="1.3" fill="#cc5048" stroke="#7c2620" stroke-width="0.4"/>
<circle cx="64.18" cy="62.32" r="1.3" fill="#cc5048" stroke="#7c2620" stroke-width="0.4"/>
<circle cx="66.68" cy="58.62" r="1.3" fill="#cc5048" stroke="#7c2620" stroke-width="0.4"/>
<circle cx="58.71" cy="69.90" r="1.3" fill="#b4b4b4" stroke="#4a4a4a" stroke-width="0.4"/>
<circle cx="62.12" cy="58.37" r="1.3" fill="#cc5048" stroke="#7c2620" stroke-width="0.4"/>
<circle cx="62.11" cy="70.77" r="1.3" fill="#b4b4b4" stroke="#4a4a4a" stroke-width="0.4"/>
<circle cx="61.80" cy="65.18" r="1.3" fill="#cc5048" stroke="#7c2620" stroke-width="0.4"/>
<circle cx="59.18" cy="59.66" r="1.3" fill="#cc5048" stroke="#7c2620" stroke-width="0.4"/>
<circle cx="69.46" cy="67.34" r="1.3" fill="#cc5048" stroke="#7c2620" stroke-width="0.4"/>
<circle cx="69.35" cy="57.73" r="1.3" fill="#cc5048" stroke="#7c2620" stroke-width="0.4"/>
<circle cx="60.96" cy="63.09" r="1.3" fill="#cc5048" stroke="#7c2620" stroke-width="0.4"/>
<circle cx="63.40" cy="69.39" r="1.3" fill="#cc5048" stroke="#7c2620" stroke-width="0.4"/>
<circle cx="68.56" cy="57.84" r="1.3" fill="#cc5048" stroke="#7c2620" stroke-width="0.4"/>
<circle cx="67.69" cy="64.40" r="1.3" fill="#cc5048" stroke="#7c2620" stroke-width="0.4"/>
<circle cx="68.94" cy="67.97" r="1.3" fill="#cc5048" stroke="#7c2620" stroke-width="0.4"/>
<circle cx="59.49" cy="68.82" r="1.3" fill="#cc5048" stroke="#7c2620" stroke-width="0.4"/>
<circle cx="67.76" cy="59.24" r="1.3" fill="#cc5048" stroke="#7c2620" stroke-width="0.4"/>
<circle cx="69.49" cy="63.80" r="1.3" fill="#cc5048" stroke="#7c2620" stroke-width="0.4"/>
<circle cx="63.38" cy="71.64" r="1.3" fill="#cc5048" stroke="#7c2620" stroke-width="0.4"/>
<circle cx="63.67" cy="67.94" r="1.3" fill="#cc5048" stroke="#7c2620" stroke-width="0.4"/>
<circle cx="59.94" cy="63.06" r="1.3" fill="#cc5048" stroke="#7c2620" stroke-width="0.4"/>
<circle cx="69.05" cy="71.83" r="1.3" fill="#cc5048" stroke="#7c2620" stroke-width="0.4"/>
<circle cx="62.09" cy="64.49" r="1.3" fill="#cc5048" stroke="#7c2620" stroke-width="0.4"/>
<circle cx="67.06" cy="61.08" r="1.3" fill="#cc5048" stroke="#7c2620" stroke-width="0.4"/>
<circle cx="67.10" cy="62.42" r="1.3" fill="#cc5048" stroke="#7c2620" stroke-width="0.4"/>
<circle cx="65.74" cy="67.42" r="1.3" fill="#cc5048" stroke="#7c2620" stroke-width="0.4"/>
<circle cx="66.19" cy="62.45" r="1.3" fill="#cc5048" stroke="#7c2620" stroke-width="0.4"/>
<circle cx="63.70" cy="51.60" r="1.3" fill="#b4b4b4" stroke="#4a4a4a" stroke-width="0.4"/>
<circle cx="63.10" cy="55.80" r="1.3" fill="#b4b4b4" stroke="#4a4a4a" stroke-width="0.4"/>
<circle cx="65.00" cy="72.60" r="1.3" fill="#b4b4b4" stroke="#4a4a4a" stroke-width="0.4"/>
<circle cx="63.70" cy="76.30" r="1.3" fill="#cc5048" stroke="#7c2620" stroke-width="0.4"/>
<circle cx="65.50" cy="73.00" r="1.3" fill="#b4b4b4" stroke="#4a4a4a" stroke-width="0.4"/>
<circle cx="64.20" cy="76.70" r="1.3" fill="#cc5048" stroke="#7c2620" stroke-width="0.4"/>
<circle cx="64.70" cy="79.20" r="1.3" fill="#b4b4b4" stroke="#4a4a4a" stroke-width="0.4"/>
<circle cx="66.70" cy="81.70" r="1.3" fill="#b4b4b4" stroke="#4a4a4a" stroke-width="0.4"/>
<circle cx="62.50" cy="85.00" r="1.3" fill="#cc5048" stroke="#7c2620" stroke-width="0.4"/>
<circle cx="60.90" cy="86.80" r="1.3" fill="#cc5048" stroke="#7c2620" stroke-width="0.4"/>
<circle cx="61.70" cy="90.10" r="1.3" fill="#b4b4b4" stroke="#4a4a4a" stroke-width="0.4"/>
<circle cx="63.40" cy="94.30" r="1.3" fill="#b4b4b4" stroke="#4a4a4a" stroke-width="0.4"/>
<circle cx="67.60" cy="98.80" r="1.3" fill="#cc5048" stroke="#7c2620" stroke-width="0.4"/>
<circle cx="65.90" cy="103.10" r="1.3" fill="#cc5048" stroke="#7c2620" stroke-width="0.4"/>
<circle cx="64.20" cy="105.20" r="1.3" fill="#b4b4b4" stroke="#4a4a4a" stroke-width="0.4"/>
<line x1="36.6" y1="68.9" x2="52.2" y2="68.9" stroke="#1a1a1a" stroke-width="0.9" />
<line x1="56.3" y1="62.6" x2="72.0" y2="62.6" stroke="#1a1a1a" stroke-width="0.9" />
<text transform="translate(48.6,128.4) rotate(-45)" font-size="8" fill="#111" stroke="#111" stroke-width="0.2" text-anchor="end" textLength="25.5" lengthAdjust="spacingAndGlyphs">non-CK</text>
<text transform="translate(67.2,128.2) rotate(-45)" font-size="8" fill="#111" stroke="#111" stroke-width="0.2" text-anchor="end" textLength="10.5" lengthAdjust="spacingAndGlyphs">CK</text>
<circle cx="23.10" cy="159.20" r="0.95" fill="#8a8a8a" stroke="#666" stroke-width="0.3"/>
<text x="27.7" y="160.7" font-size="7.4" fill="#111" stroke="#111" stroke-width="0.2" text-anchor="start" textLength="14.5" lengthAdjust="spacingAndGlyphs" >TP53</text>
<text x="42.9" y="157.5" font-size="4.3" fill="#111" stroke="#111" stroke-width="0.2" text-anchor="start" textLength="7.4" lengthAdjust="spacingAndGlyphs" >WT</text>
<circle cx="57.40" cy="159.20" r="0.95" fill="#c04038" stroke="#902a24" stroke-width="0.3"/>
<text x="62.4" y="160.7" font-size="7.4" fill="#111" stroke="#111" stroke-width="0.2" text-anchor="start" textLength="14.8" lengthAdjust="spacingAndGlyphs" >TP53</text>
<text x="77.6" y="157.5" font-size="4.3" fill="#111" stroke="#111" stroke-width="0.2" text-anchor="start" textLength="5.7" lengthAdjust="spacingAndGlyphs" >alt</text>
<line x1="127.8" y1="38.5" x2="127.8" y2="121.2" stroke="#333" stroke-width="1.3" />
<line x1="127.2" y1="121.0" x2="166.5" y2="121.0" stroke="#333" stroke-width="1.3" />
<line x1="125.3" y1="41.4" x2="127.8" y2="41.4" stroke="#333" stroke-width="0.9" />
<text x="121.4" y="43.9" font-size="7.2" fill="#111" stroke="#111" stroke-width="0.2" text-anchor="end" textLength="8.6" lengthAdjust="spacingAndGlyphs" >5.0</text>
<line x1="125.3" y1="56.0" x2="127.8" y2="56.0" stroke="#333" stroke-width="0.9" />
<text x="121.4" y="58.5" font-size="7.2" fill="#111" stroke="#111" stroke-width="0.2" text-anchor="end" textLength="8.6" lengthAdjust="spacingAndGlyphs" >4.5</text>
<line x1="125.3" y1="70.5" x2="127.8" y2="70.5" stroke="#333" stroke-width="0.9" />
<text x="121.4" y="73.0" font-size="7.2" fill="#111" stroke="#111" stroke-width="0.2" text-anchor="end" textLength="8.6" lengthAdjust="spacingAndGlyphs" >4.0</text>
<line x1="125.3" y1="84.9" x2="127.8" y2="84.9" stroke="#333" stroke-width="0.9" />
<text x="121.4" y="87.4" font-size="7.2" fill="#111" stroke="#111" stroke-width="0.2" text-anchor="end" textLength="8.6" lengthAdjust="spacingAndGlyphs" >3.5</text>
<line x1="125.3" y1="99.6" x2="127.8" y2="99.6" stroke="#333" stroke-width="0.9" />
<text x="121.4" y="102.1" font-size="7.2" fill="#111" stroke="#111" stroke-width="0.2" text-anchor="end" textLength="8.6" lengthAdjust="spacingAndGlyphs" >3.0</text>
<line x1="125.3" y1="114.3" x2="127.8" y2="114.3" stroke="#333" stroke-width="0.9" />
<text x="121.4" y="116.8" font-size="7.2" fill="#111" stroke="#111" stroke-width="0.2" text-anchor="end" textLength="8.6" lengthAdjust="spacingAndGlyphs" >2.5</text>
<line x1="140.9" y1="121" x2="140.9" y2="123.2" stroke="#333" stroke-width="0.9" />
<line x1="159.7" y1="121" x2="159.7" y2="123.2" stroke="#333" stroke-width="0.9" />
<text transform="translate(106.2,78.7) rotate(-90)" font-size="9.9" fill="#111" stroke="#111" stroke-width="0.2" text-anchor="middle" textLength="110.5" lengthAdjust="spacingAndGlyphs">PLK1 (log10RPKM*1000 +1)</text>
<text x="136.0" y="30.9" font-size="6.8" fill="#222" stroke="#222" stroke-width="0.2" text-anchor="start" textLength="28.2" lengthAdjust="spacingAndGlyphs" >p = 0.009</text>
<circle cx="139.76" cy="66.45" r="1.3" fill="#b4b4b4" stroke="#4a4a4a" stroke-width="0.4"/>
<circle cx="141.26" cy="62.23" r="1.3" fill="#b4b4b4" stroke="#4a4a4a" stroke-width="0.4"/>
<circle cx="137.30" cy="93.27" r="1.3" fill="#b4b4b4" stroke="#4a4a4a" stroke-width="0.4"/>
<circle cx="139.43" cy="69.60" r="1.3" fill="#b4b4b4" stroke="#4a4a4a" stroke-width="0.4"/>
<circle cx="144.87" cy="92.39" r="1.3" fill="#b4b4b4" stroke="#4a4a4a" stroke-width="0.4"/>
<circle cx="137.93" cy="54.78" r="1.3" fill="#b4b4b4" stroke="#4a4a4a" stroke-width="0.4"/>
<circle cx="140.66" cy="87.83" r="1.3" fill="#b4b4b4" stroke="#4a4a4a" stroke-width="0.4"/>
<circle cx="138.04" cy="97.83" r="1.3" fill="#b4b4b4" stroke="#4a4a4a" stroke-width="0.4"/>
<circle cx="143.50" cy="99.05" r="1.3" fill="#b4b4b4" stroke="#4a4a4a" stroke-width="0.4"/>
<circle cx="137.34" cy="97.29" r="1.3" fill="#b4b4b4" stroke="#4a4a4a" stroke-width="0.4"/>
<circle cx="138.45" cy="76.09" r="1.3" fill="#b4b4b4" stroke="#4a4a4a" stroke-width="0.4"/>
<circle cx="142.69" cy="65.39" r="1.3" fill="#b4b4b4" stroke="#4a4a4a" stroke-width="0.4"/>
<circle cx="142.86" cy="50.56" r="1.3" fill="#b4b4b4" stroke="#4a4a4a" stroke-width="0.4"/>
<circle cx="138.18" cy="71.33" r="1.3" fill="#b4b4b4" stroke="#4a4a4a" stroke-width="0.4"/>
<circle cx="138.81" cy="95.73" r="1.3" fill="#b4b4b4" stroke="#4a4a4a" stroke-width="0.4"/>
<circle cx="144.70" cy="86.87" r="1.3" fill="#b4b4b4" stroke="#4a4a4a" stroke-width="0.4"/>
<circle cx="138.76" cy="58.59" r="1.3" fill="#b4b4b4" stroke="#4a4a4a" stroke-width="0.4"/>
<circle cx="144.48" cy="84.49" r="1.3" fill="#b4b4b4" stroke="#4a4a4a" stroke-width="0.4"/>
<circle cx="142.33" cy="87.36" r="1.3" fill="#b4b4b4" stroke="#4a4a4a" stroke-width="0.4"/>
<circle cx="140.03" cy="63.15" r="1.3" fill="#b4b4b4" stroke="#4a4a4a" stroke-width="0.4"/>
<circle cx="139.37" cy="92.69" r="1.3" fill="#b4b4b4" stroke="#4a4a4a" stroke-width="0.4"/>
<circle cx="137.78" cy="59.07" r="1.3" fill="#b4b4b4" stroke="#4a4a4a" stroke-width="0.4"/>
<circle cx="138.58" cy="101.17" r="1.3" fill="#b4b4b4" stroke="#4a4a4a" stroke-width="0.4"/>
<circle cx="145.09" cy="53.36" r="1.3" fill="#b4b4b4" stroke="#4a4a4a" stroke-width="0.4"/>
<circle cx="144.19" cy="82.25" r="1.3" fill="#b4b4b4" stroke="#4a4a4a" stroke-width="0.4"/>
<circle cx="139.81" cy="90.29" r="1.3" fill="#b4b4b4" stroke="#4a4a4a" stroke-width="0.4"/>
<circle cx="140.19" cy="80.07" r="1.3" fill="#b4b4b4" stroke="#4a4a4a" stroke-width="0.4"/>
<circle cx="143.07" cy="103.51" r="1.3" fill="#b4b4b4" stroke="#4a4a4a" stroke-width="0.4"/>
<circle cx="140.03" cy="57.17" r="1.3" fill="#b4b4b4" stroke="#4a4a4a" stroke-width="0.4"/>
<circle cx="138.67" cy="95.67" r="1.3" fill="#b4b4b4" stroke="#4a4a4a" stroke-width="0.4"/>
<circle cx="141.06" cy="77.08" r="1.3" fill="#b4b4b4" stroke="#4a4a4a" stroke-width="0.4"/>
<circle cx="143.40" cy="82.16" r="1.3" fill="#b4b4b4" stroke="#4a4a4a" stroke-width="0.4"/>
<circle cx="139.49" cy="65.86" r="1.3" fill="#b4b4b4" stroke="#4a4a4a" stroke-width="0.4"/>
<circle cx="144.67" cy="69.71" r="1.3" fill="#b4b4b4" stroke="#4a4a4a" stroke-width="0.4"/>
<circle cx="143.55" cy="103.42" r="1.3" fill="#b4b4b4" stroke="#4a4a4a" stroke-width="0.4"/>
<circle cx="139.73" cy="86.69" r="1.3" fill="#b4b4b4" stroke="#4a4a4a" stroke-width="0.4"/>
<circle cx="143.73" cy="77.66" r="1.3" fill="#b4b4b4" stroke="#4a4a4a" stroke-width="0.4"/>
<circle cx="138.88" cy="81.22" r="1.3" fill="#b4b4b4" stroke="#4a4a4a" stroke-width="0.4"/>
<circle cx="144.00" cy="62.38" r="1.3" fill="#b4b4b4" stroke="#4a4a4a" stroke-width="0.4"/>
<circle cx="140.68" cy="58.31" r="1.3" fill="#b4b4b4" stroke="#4a4a4a" stroke-width="0.4"/>
<circle cx="139.04" cy="61.39" r="1.3" fill="#b4b4b4" stroke="#4a4a4a" stroke-width="0.4"/>
<circle cx="139.60" cy="85.97" r="1.3" fill="#b4b4b4" stroke="#4a4a4a" stroke-width="0.4"/>
<circle cx="144.13" cy="92.00" r="1.3" fill="#b4b4b4" stroke="#4a4a4a" stroke-width="0.4"/>
<circle cx="140.77" cy="103.97" r="1.3" fill="#b4b4b4" stroke="#4a4a4a" stroke-width="0.4"/>
<circle cx="144.76" cy="94.80" r="1.3" fill="#b4b4b4" stroke="#4a4a4a" stroke-width="0.4"/>
<circle cx="144.50" cy="90.80" r="1.3" fill="#b4b4b4" stroke="#4a4a4a" stroke-width="0.4"/>
<circle cx="138.18" cy="104.88" r="1.3" fill="#b4b4b4" stroke="#4a4a4a" stroke-width="0.4"/>
<circle cx="143.57" cy="81.98" r="1.3" fill="#b4b4b4" stroke="#4a4a4a" stroke-width="0.4"/>
<circle cx="144.61" cy="78.78" r="1.3" fill="#b4b4b4" stroke="#4a4a4a" stroke-width="0.4"/>
<circle cx="139.82" cy="84.21" r="1.3" fill="#b4b4b4" stroke="#4a4a4a" stroke-width="0.4"/>
<circle cx="138.76" cy="74.35" r="1.3" fill="#b4b4b4" stroke="#4a4a4a" stroke-width="0.4"/>
<circle cx="143.84" cy="84.11" r="1.3" fill="#b4b4b4" stroke="#4a4a4a" stroke-width="0.4"/>
<circle cx="138.99" cy="68.08" r="1.3" fill="#b4b4b4" stroke="#4a4a4a" stroke-width="0.4"/>
<circle cx="143.51" cy="98.34" r="1.3" fill="#b4b4b4" stroke="#4a4a4a" stroke-width="0.4"/>
<circle cx="141.77" cy="81.63" r="1.3" fill="#b4b4b4" stroke="#4a4a4a" stroke-width="0.4"/>
<circle cx="141.78" cy="95.40" r="1.3" fill="#b4b4b4" stroke="#4a4a4a" stroke-width="0.4"/>
<circle cx="141.08" cy="56.77" r="1.3" fill="#b4b4b4" stroke="#4a4a4a" stroke-width="0.4"/>
<circle cx="138.23" cy="92.74" r="1.3" fill="#b4b4b4" stroke="#4a4a4a" stroke-width="0.4"/>
<circle cx="145.37" cy="59.38" r="1.3" fill="#b4b4b4" stroke="#4a4a4a" stroke-width="0.4"/>
<circle cx="137.59" cy="94.93" r="1.3" fill="#b4b4b4" stroke="#4a4a4a" stroke-width="0.4"/>
<circle cx="139.17" cy="86.22" r="1.3" fill="#b4b4b4" stroke="#4a4a4a" stroke-width="0.4"/>
<circle cx="144.24" cy="66.94" r="1.3" fill="#b4b4b4" stroke="#4a4a4a" stroke-width="0.4"/>
<circle cx="139.74" cy="92.34" r="1.3" fill="#b4b4b4" stroke="#4a4a4a" stroke-width="0.4"/>
<circle cx="137.67" cy="59.21" r="1.3" fill="#b4b4b4" stroke="#4a4a4a" stroke-width="0.4"/>
<circle cx="145.33" cy="98.96" r="1.3" fill="#b4b4b4" stroke="#4a4a4a" stroke-width="0.4"/>
<circle cx="142.88" cy="55.17" r="1.3" fill="#b4b4b4" stroke="#4a4a4a" stroke-width="0.4"/>
<circle cx="145.23" cy="87.19" r="1.3" fill="#b4b4b4" stroke="#4a4a4a" stroke-width="0.4"/>
<circle cx="145.10" cy="71.38" r="1.3" fill="#b4b4b4" stroke="#4a4a4a" stroke-width="0.4"/>
<circle cx="141.36" cy="61.65" r="1.3" fill="#b4b4b4" stroke="#4a4a4a" stroke-width="0.4"/>
<circle cx="142.47" cy="93.29" r="1.3" fill="#b4b4b4" stroke="#4a4a4a" stroke-width="0.4"/>
<circle cx="138.34" cy="58.14" r="1.3" fill="#b4b4b4" stroke="#4a4a4a" stroke-width="0.4"/>
<circle cx="143.80" cy="81.57" r="1.3" fill="#b4b4b4" stroke="#4a4a4a" stroke-width="0.4"/>
<circle cx="140.06" cy="99.26" r="1.3" fill="#b4b4b4" stroke="#4a4a4a" stroke-width="0.4"/>
<circle cx="144.77" cy="50.40" r="1.3" fill="#b4b4b4" stroke="#4a4a4a" stroke-width="0.4"/>
<circle cx="141.75" cy="53.79" r="1.3" fill="#b4b4b4" stroke="#4a4a4a" stroke-width="0.4"/>
<circle cx="145.15" cy="95.30" r="1.3" fill="#b4b4b4" stroke="#4a4a4a" stroke-width="0.4"/>
<circle cx="139.26" cy="101.57" r="1.3" fill="#b4b4b4" stroke="#4a4a4a" stroke-width="0.4"/>
<circle cx="137.68" cy="69.78" r="1.3" fill="#b4b4b4" stroke="#4a4a4a" stroke-width="0.4"/>
<circle cx="144.85" cy="77.66" r="1.3" fill="#b4b4b4" stroke="#4a4a4a" stroke-width="0.4"/>
<circle cx="142.66" cy="96.66" r="1.3" fill="#b4b4b4" stroke="#4a4a4a" stroke-width="0.4"/>
<circle cx="145.02" cy="88.95" r="1.3" fill="#b4b4b4" stroke="#4a4a4a" stroke-width="0.4"/>
<circle cx="144.49" cy="69.95" r="1.3" fill="#b4b4b4" stroke="#4a4a4a" stroke-width="0.4"/>
<circle cx="138.12" cy="62.83" r="1.3" fill="#b4b4b4" stroke="#4a4a4a" stroke-width="0.4"/>
<circle cx="142.48" cy="72.61" r="1.3" fill="#b4b4b4" stroke="#4a4a4a" stroke-width="0.4"/>
<circle cx="139.52" cy="104.16" r="1.3" fill="#b4b4b4" stroke="#4a4a4a" stroke-width="0.4"/>
<circle cx="145.22" cy="77.21" r="1.3" fill="#b4b4b4" stroke="#4a4a4a" stroke-width="0.4"/>
<circle cx="143.40" cy="110.00" r="1.3" fill="#b4b4b4" stroke="#4a4a4a" stroke-width="0.4"/>
<circle cx="137.37" cy="55.10" r="1.3" fill="#b4b4b4" stroke="#4a4a4a" stroke-width="0.4"/>
<circle cx="142.32" cy="51.82" r="1.3" fill="#b4b4b4" stroke="#4a4a4a" stroke-width="0.4"/>
<circle cx="138.65" cy="91.61" r="1.3" fill="#b4b4b4" stroke="#4a4a4a" stroke-width="0.4"/>
<circle cx="140.00" cy="75.88" r="1.3" fill="#b4b4b4" stroke="#4a4a4a" stroke-width="0.4"/>
<circle cx="140.40" cy="94.01" r="1.3" fill="#b4b4b4" stroke="#4a4a4a" stroke-width="0.4"/>
<circle cx="141.09" cy="91.66" r="1.3" fill="#b4b4b4" stroke="#4a4a4a" stroke-width="0.4"/>
<circle cx="145.50" cy="66.74" r="1.3" fill="#b4b4b4" stroke="#4a4a4a" stroke-width="0.4"/>
<circle cx="137.52" cy="69.37" r="1.3" fill="#b4b4b4" stroke="#4a4a4a" stroke-width="0.4"/>
<circle cx="143.22" cy="101.58" r="1.3" fill="#b4b4b4" stroke="#4a4a4a" stroke-width="0.4"/>
<circle cx="143.56" cy="64.15" r="1.3" fill="#b4b4b4" stroke="#4a4a4a" stroke-width="0.4"/>
<circle cx="140.77" cy="62.29" r="1.3" fill="#b4b4b4" stroke="#4a4a4a" stroke-width="0.4"/>
<circle cx="144.30" cy="102.38" r="1.3" fill="#b4b4b4" stroke="#4a4a4a" stroke-width="0.4"/>
<circle cx="141.80" cy="69.78" r="1.3" fill="#b4b4b4" stroke="#4a4a4a" stroke-width="0.4"/>
<circle cx="143.42" cy="99.44" r="1.3" fill="#b4b4b4" stroke="#4a4a4a" stroke-width="0.4"/>
<circle cx="143.78" cy="101.62" r="1.3" fill="#b4b4b4" stroke="#4a4a4a" stroke-width="0.4"/>
<circle cx="137.72" cy="65.89" r="1.3" fill="#b4b4b4" stroke="#4a4a4a" stroke-width="0.4"/>
<circle cx="137.87" cy="79.12" r="1.3" fill="#b4b4b4" stroke="#4a4a4a" stroke-width="0.4"/>
<circle cx="141.23" cy="99.78" r="1.3" fill="#b4b4b4" stroke="#4a4a4a" stroke-width="0.4"/>
<circle cx="140.98" cy="79.27" r="1.3" fill="#b4b4b4" stroke="#4a4a4a" stroke-width="0.4"/>
<circle cx="138.93" cy="72.66" r="1.3" fill="#b4b4b4" stroke="#4a4a4a" stroke-width="0.4"/>
<circle cx="144.98" cy="56.79" r="1.3" fill="#b4b4b4" stroke="#4a4a4a" stroke-width="0.4"/>
<circle cx="141.46" cy="79.16" r="1.3" fill="#b4b4b4" stroke="#4a4a4a" stroke-width="0.4"/>
<circle cx="140.54" cy="79.31" r="1.3" fill="#b4b4b4" stroke="#4a4a4a" stroke-width="0.4"/>
<circle cx="141.53" cy="95.12" r="1.3" fill="#b4b4b4" stroke="#4a4a4a" stroke-width="0.4"/>
<circle cx="144.00" cy="76.00" r="1.3" fill="#b4b4b4" stroke="#4a4a4a" stroke-width="0.4"/>
<circle cx="139.17" cy="86.88" r="1.3" fill="#b4b4b4" stroke="#4a4a4a" stroke-width="0.4"/>
<circle cx="141.31" cy="102.18" r="1.3" fill="#b4b4b4" stroke="#4a4a4a" stroke-width="0.4"/>
<circle cx="139.39" cy="79.87" r="1.3" fill="#b4b4b4" stroke="#4a4a4a" stroke-width="0.4"/>
<circle cx="137.90" cy="89.30" r="1.3" fill="#b4b4b4" stroke="#4a4a4a" stroke-width="0.4"/>
<circle cx="140.80" cy="58.14" r="1.3" fill="#b4b4b4" stroke="#4a4a4a" stroke-width="0.4"/>
<circle cx="144.89" cy="77.29" r="1.3" fill="#b4b4b4" stroke="#4a4a4a" stroke-width="0.4"/>
<circle cx="139.21" cy="100.08" r="1.3" fill="#b4b4b4" stroke="#4a4a4a" stroke-width="0.4"/>
<circle cx="139.50" cy="108.50" r="1.3" fill="#b4b4b4" stroke="#4a4a4a" stroke-width="0.4"/>
<circle cx="139.12" cy="94.95" r="1.3" fill="#b4b4b4" stroke="#4a4a4a" stroke-width="0.4"/>
<circle cx="137.21" cy="102.47" r="1.3" fill="#b4b4b4" stroke="#4a4a4a" stroke-width="0.4"/>
<circle cx="138.82" cy="63.75" r="1.3" fill="#b4b4b4" stroke="#4a4a4a" stroke-width="0.4"/>
<circle cx="145.08" cy="94.64" r="1.3" fill="#b4b4b4" stroke="#4a4a4a" stroke-width="0.4"/>
<circle cx="139.53" cy="68.02" r="1.3" fill="#b4b4b4" stroke="#4a4a4a" stroke-width="0.4"/>
<circle cx="139.69" cy="68.98" r="1.3" fill="#b4b4b4" stroke="#4a4a4a" stroke-width="0.4"/>
<circle cx="137.56" cy="73.23" r="1.3" fill="#b4b4b4" stroke="#4a4a4a" stroke-width="0.4"/>
<circle cx="142.10" cy="99.36" r="1.3" fill="#b4b4b4" stroke="#4a4a4a" stroke-width="0.4"/>
<circle cx="143.78" cy="74.78" r="1.3" fill="#b4b4b4" stroke="#4a4a4a" stroke-width="0.4"/>
<circle cx="138.78" cy="86.05" r="1.3" fill="#b4b4b4" stroke="#4a4a4a" stroke-width="0.4"/>
<circle cx="137.72" cy="90.98" r="1.3" fill="#b4b4b4" stroke="#4a4a4a" stroke-width="0.4"/>
<circle cx="139.63" cy="71.59" r="1.3" fill="#b4b4b4" stroke="#4a4a4a" stroke-width="0.4"/>
<circle cx="138.86" cy="105.32" r="1.3" fill="#b4b4b4" stroke="#4a4a4a" stroke-width="0.4"/>
<circle cx="145.33" cy="61.49" r="1.3" fill="#b4b4b4" stroke="#4a4a4a" stroke-width="0.4"/>
<circle cx="138.45" cy="105.43" r="1.3" fill="#b4b4b4" stroke="#4a4a4a" stroke-width="0.4"/>
<circle cx="138.08" cy="70.87" r="1.3" fill="#b4b4b4" stroke="#4a4a4a" stroke-width="0.4"/>
<circle cx="142.15" cy="77.58" r="1.3" fill="#b4b4b4" stroke="#4a4a4a" stroke-width="0.4"/>
<circle cx="140.81" cy="99.81" r="1.3" fill="#b4b4b4" stroke="#4a4a4a" stroke-width="0.4"/>
<circle cx="141.61" cy="83.89" r="1.3" fill="#b4b4b4" stroke="#4a4a4a" stroke-width="0.4"/>
<circle cx="138.54" cy="55.24" r="1.3" fill="#b4b4b4" stroke="#4a4a4a" stroke-width="0.4"/>
<circle cx="143.95" cy="74.05" r="1.3" fill="#b4b4b4" stroke="#4a4a4a" stroke-width="0.4"/>
<circle cx="137.22" cy="80.60" r="1.3" fill="#b4b4b4" stroke="#4a4a4a" stroke-width="0.4"/>
<circle cx="143.48" cy="99.26" r="1.3" fill="#b4b4b4" stroke="#4a4a4a" stroke-width="0.4"/>
<circle cx="138.39" cy="105.54" r="1.3" fill="#b4b4b4" stroke="#4a4a4a" stroke-width="0.4"/>
<circle cx="137.92" cy="53.62" r="1.3" fill="#b4b4b4" stroke="#4a4a4a" stroke-width="0.4"/>
<circle cx="140.37" cy="50.10" r="1.3" fill="#b4b4b4" stroke="#4a4a4a" stroke-width="0.4"/>
<circle cx="140.78" cy="92.00" r="1.3" fill="#b4b4b4" stroke="#4a4a4a" stroke-width="0.4"/>
<circle cx="144.27" cy="102.89" r="1.3" fill="#b4b4b4" stroke="#4a4a4a" stroke-width="0.4"/>
<circle cx="141.13" cy="100.66" r="1.3" fill="#b4b4b4" stroke="#4a4a4a" stroke-width="0.4"/>
<circle cx="145.20" cy="87.22" r="1.3" fill="#b4b4b4" stroke="#4a4a4a" stroke-width="0.4"/>
<circle cx="145.52" cy="65.91" r="1.3" fill="#b4b4b4" stroke="#4a4a4a" stroke-width="0.4"/>
<circle cx="140.24" cy="82.78" r="1.3" fill="#b4b4b4" stroke="#4a4a4a" stroke-width="0.4"/>
<circle cx="143.73" cy="95.94" r="1.3" fill="#b4b4b4" stroke="#4a4a4a" stroke-width="0.4"/>
<circle cx="145.07" cy="92.50" r="1.3" fill="#b4b4b4" stroke="#4a4a4a" stroke-width="0.4"/>
<circle cx="143.71" cy="62.63" r="1.3" fill="#b4b4b4" stroke="#4a4a4a" stroke-width="0.4"/>
<circle cx="140.22" cy="89.45" r="1.3" fill="#b4b4b4" stroke="#4a4a4a" stroke-width="0.4"/>
<circle cx="139.76" cy="80.81" r="1.3" fill="#b4b4b4" stroke="#4a4a4a" stroke-width="0.4"/>
<circle cx="143.99" cy="100.91" r="1.3" fill="#b4b4b4" stroke="#4a4a4a" stroke-width="0.4"/>
<circle cx="144.73" cy="99.59" r="1.3" fill="#b4b4b4" stroke="#4a4a4a" stroke-width="0.4"/>
<circle cx="138.45" cy="59.56" r="1.3" fill="#b4b4b4" stroke="#4a4a4a" stroke-width="0.4"/>
<circle cx="144.99" cy="91.68" r="1.3" fill="#b4b4b4" stroke="#4a4a4a" stroke-width="0.4"/>
<circle cx="144.96" cy="96.37" r="1.3" fill="#b4b4b4" stroke="#4a4a4a" stroke-width="0.4"/>
<circle cx="139.99" cy="59.80" r="1.3" fill="#b4b4b4" stroke="#4a4a4a" stroke-width="0.4"/>
<circle cx="139.77" cy="66.39" r="1.3" fill="#b4b4b4" stroke="#4a4a4a" stroke-width="0.4"/>
<circle cx="144.46" cy="60.29" r="1.3" fill="#b4b4b4" stroke="#4a4a4a" stroke-width="0.4"/>
<circle cx="139.96" cy="96.82" r="1.3" fill="#b4b4b4" stroke="#4a4a4a" stroke-width="0.4"/>
<circle cx="144.19" cy="81.43" r="1.3" fill="#b4b4b4" stroke="#4a4a4a" stroke-width="0.4"/>
<circle cx="142.59" cy="52.83" r="1.3" fill="#b4b4b4" stroke="#4a4a4a" stroke-width="0.4"/>
<circle cx="139.80" cy="87.59" r="1.3" fill="#b4b4b4" stroke="#4a4a4a" stroke-width="0.4"/>
<circle cx="144.54" cy="57.86" r="1.3" fill="#b4b4b4" stroke="#4a4a4a" stroke-width="0.4"/>
<circle cx="143.96" cy="99.41" r="1.3" fill="#b4b4b4" stroke="#4a4a4a" stroke-width="0.4"/>
<circle cx="140.27" cy="95.53" r="1.3" fill="#b4b4b4" stroke="#4a4a4a" stroke-width="0.4"/>
<circle cx="137.93" cy="98.22" r="1.3" fill="#b4b4b4" stroke="#4a4a4a" stroke-width="0.4"/>
<circle cx="141.38" cy="89.70" r="1.3" fill="#b4b4b4" stroke="#4a4a4a" stroke-width="0.4"/>
<circle cx="144.34" cy="80.11" r="1.3" fill="#b4b4b4" stroke="#4a4a4a" stroke-width="0.4"/>
<circle cx="139.81" cy="70.11" r="1.3" fill="#b4b4b4" stroke="#4a4a4a" stroke-width="0.4"/>
<circle cx="144.23" cy="99.57" r="1.3" fill="#b4b4b4" stroke="#4a4a4a" stroke-width="0.4"/>
<circle cx="137.74" cy="56.64" r="1.3" fill="#b4b4b4" stroke="#4a4a4a" stroke-width="0.4"/>
<circle cx="141.24" cy="56.72" r="1.3" fill="#b4b4b4" stroke="#4a4a4a" stroke-width="0.4"/>
<circle cx="140.97" cy="53.46" r="1.3" fill="#b4b4b4" stroke="#4a4a4a" stroke-width="0.4"/>
<circle cx="139.11" cy="91.23" r="1.3" fill="#b4b4b4" stroke="#4a4a4a" stroke-width="0.4"/>
<circle cx="138.13" cy="94.37" r="1.3" fill="#b4b4b4" stroke="#4a4a4a" stroke-width="0.4"/>
<circle cx="138.03" cy="74.17" r="1.3" fill="#b4b4b4" stroke="#4a4a4a" stroke-width="0.4"/>
<circle cx="141.18" cy="77.26" r="1.3" fill="#b4b4b4" stroke="#4a4a4a" stroke-width="0.4"/>
<circle cx="143.31" cy="93.63" r="1.3" fill="#b4b4b4" stroke="#4a4a4a" stroke-width="0.4"/>
<circle cx="142.49" cy="103.94" r="1.3" fill="#b4b4b4" stroke="#4a4a4a" stroke-width="0.4"/>
<circle cx="142.80" cy="112.50" r="1.3" fill="#b4b4b4" stroke="#4a4a4a" stroke-width="0.4"/>
<circle cx="138.18" cy="101.55" r="1.3" fill="#b4b4b4" stroke="#4a4a4a" stroke-width="0.4"/>
<circle cx="141.12" cy="51.75" r="1.3" fill="#b4b4b4" stroke="#4a4a4a" stroke-width="0.4"/>
<circle cx="144.15" cy="69.07" r="1.3" fill="#b4b4b4" stroke="#4a4a4a" stroke-width="0.4"/>
<circle cx="142.59" cy="61.71" r="1.3" fill="#b4b4b4" stroke="#4a4a4a" stroke-width="0.4"/>
<circle cx="138.78" cy="63.53" r="1.3" fill="#b4b4b4" stroke="#4a4a4a" stroke-width="0.4"/>
<circle cx="139.62" cy="96.81" r="1.3" fill="#b4b4b4" stroke="#4a4a4a" stroke-width="0.4"/>
<circle cx="140.56" cy="82.13" r="1.3" fill="#b4b4b4" stroke="#4a4a4a" stroke-width="0.4"/>
<circle cx="140.95" cy="53.38" r="1.3" fill="#b4b4b4" stroke="#4a4a4a" stroke-width="0.4"/>
<circle cx="143.38" cy="93.06" r="1.3" fill="#b4b4b4" stroke="#4a4a4a" stroke-width="0.4"/>
<circle cx="143.13" cy="103.40" r="1.3" fill="#b4b4b4" stroke="#4a4a4a" stroke-width="0.4"/>
<circle cx="140.27" cy="66.57" r="1.3" fill="#b4b4b4" stroke="#4a4a4a" stroke-width="0.4"/>
<circle cx="142.40" cy="98.71" r="1.3" fill="#b4b4b4" stroke="#4a4a4a" stroke-width="0.4"/>
<circle cx="144.74" cy="54.32" r="1.3" fill="#b4b4b4" stroke="#4a4a4a" stroke-width="0.4"/>
<circle cx="142.26" cy="70.80" r="1.3" fill="#b4b4b4" stroke="#4a4a4a" stroke-width="0.4"/>
<circle cx="143.33" cy="68.05" r="1.3" fill="#b4b4b4" stroke="#4a4a4a" stroke-width="0.4"/>
<circle cx="138.31" cy="94.37" r="1.3" fill="#b4b4b4" stroke="#4a4a4a" stroke-width="0.4"/>
<circle cx="143.29" cy="67.95" r="1.3" fill="#b4b4b4" stroke="#4a4a4a" stroke-width="0.4"/>
<circle cx="141.70" cy="56.36" r="1.3" fill="#b4b4b4" stroke="#4a4a4a" stroke-width="0.4"/>
<circle cx="137.40" cy="61.97" r="1.3" fill="#b4b4b4" stroke="#4a4a4a" stroke-width="0.4"/>
<circle cx="140.23" cy="86.14" r="1.3" fill="#b4b4b4" stroke="#4a4a4a" stroke-width="0.4"/>
<circle cx="140.01" cy="105.35" r="1.3" fill="#b4b4b4" stroke="#4a4a4a" stroke-width="0.4"/>
<circle cx="141.89" cy="96.30" r="1.3" fill="#b4b4b4" stroke="#4a4a4a" stroke-width="0.4"/>
<circle cx="140.16" cy="51.24" r="1.3" fill="#b4b4b4" stroke="#4a4a4a" stroke-width="0.4"/>
<circle cx="138.37" cy="63.92" r="1.3" fill="#b4b4b4" stroke="#4a4a4a" stroke-width="0.4"/>
<circle cx="141.23" cy="57.22" r="1.3" fill="#b4b4b4" stroke="#4a4a4a" stroke-width="0.4"/>
<circle cx="138.91" cy="57.35" r="1.3" fill="#b4b4b4" stroke="#4a4a4a" stroke-width="0.4"/>
<circle cx="142.15" cy="83.37" r="1.3" fill="#b4b4b4" stroke="#4a4a4a" stroke-width="0.4"/>
<circle cx="142.40" cy="103.96" r="1.3" fill="#b4b4b4" stroke="#4a4a4a" stroke-width="0.4"/>
<circle cx="143.91" cy="72.42" r="1.3" fill="#b4b4b4" stroke="#4a4a4a" stroke-width="0.4"/>
<circle cx="144.78" cy="89.31" r="1.3" fill="#b4b4b4" stroke="#4a4a4a" stroke-width="0.4"/>
<circle cx="145.27" cy="69.92" r="1.3" fill="#b4b4b4" stroke="#4a4a4a" stroke-width="0.4"/>
<circle cx="137.74" cy="61.94" r="1.3" fill="#b4b4b4" stroke="#4a4a4a" stroke-width="0.4"/>
<circle cx="142.71" cy="71.60" r="1.3" fill="#b4b4b4" stroke="#4a4a4a" stroke-width="0.4"/>
<circle cx="144.84" cy="72.82" r="1.3" fill="#b4b4b4" stroke="#4a4a4a" stroke-width="0.4"/>
<circle cx="137.90" cy="88.24" r="1.3" fill="#b4b4b4" stroke="#4a4a4a" stroke-width="0.4"/>
<circle cx="142.49" cy="65.96" r="1.3" fill="#b4b4b4" stroke="#4a4a4a" stroke-width="0.4"/>
<circle cx="137.42" cy="82.03" r="1.3" fill="#b4b4b4" stroke="#4a4a4a" stroke-width="0.4"/>
<circle cx="139.63" cy="86.16" r="1.3" fill="#b4b4b4" stroke="#4a4a4a" stroke-width="0.4"/>
<circle cx="143.16" cy="100.77" r="1.3" fill="#b4b4b4" stroke="#4a4a4a" stroke-width="0.4"/>
<circle cx="141.43" cy="85.71" r="1.3" fill="#b4b4b4" stroke="#4a4a4a" stroke-width="0.4"/>
<circle cx="144.52" cy="84.89" r="1.3" fill="#b4b4b4" stroke="#4a4a4a" stroke-width="0.4"/>
<circle cx="140.14" cy="104.85" r="1.3" fill="#b4b4b4" stroke="#4a4a4a" stroke-width="0.4"/>
<circle cx="142.51" cy="83.23" r="1.3" fill="#b4b4b4" stroke="#4a4a4a" stroke-width="0.4"/>
<circle cx="142.10" cy="67.33" r="1.3" fill="#b4b4b4" stroke="#4a4a4a" stroke-width="0.4"/>
<circle cx="137.64" cy="79.29" r="1.3" fill="#b4b4b4" stroke="#4a4a4a" stroke-width="0.4"/>
<circle cx="140.63" cy="96.81" r="1.3" fill="#b4b4b4" stroke="#4a4a4a" stroke-width="0.4"/>
<circle cx="144.56" cy="73.45" r="1.3" fill="#b4b4b4" stroke="#4a4a4a" stroke-width="0.4"/>
<circle cx="140.42" cy="61.69" r="1.3" fill="#b4b4b4" stroke="#4a4a4a" stroke-width="0.4"/>
<circle cx="143.37" cy="74.99" r="1.3" fill="#b4b4b4" stroke="#4a4a4a" stroke-width="0.4"/>
<circle cx="142.84" cy="50.96" r="1.3" fill="#b4b4b4" stroke="#4a4a4a" stroke-width="0.4"/>
<circle cx="138.20" cy="71.58" r="1.3" fill="#b4b4b4" stroke="#4a4a4a" stroke-width="0.4"/>
<circle cx="141.60" cy="99.44" r="1.3" fill="#b4b4b4" stroke="#4a4a4a" stroke-width="0.4"/>
<circle cx="142.74" cy="96.55" r="1.3" fill="#b4b4b4" stroke="#4a4a4a" stroke-width="0.4"/>
<circle cx="144.20" cy="84.45" r="1.3" fill="#b4b4b4" stroke="#4a4a4a" stroke-width="0.4"/>
<circle cx="144.78" cy="69.78" r="1.3" fill="#b4b4b4" stroke="#4a4a4a" stroke-width="0.4"/>
<circle cx="139.20" cy="86.54" r="1.3" fill="#b4b4b4" stroke="#4a4a4a" stroke-width="0.4"/>
<circle cx="138.16" cy="64.80" r="1.3" fill="#b4b4b4" stroke="#4a4a4a" stroke-width="0.4"/>
<circle cx="142.11" cy="94.57" r="1.3" fill="#b4b4b4" stroke="#4a4a4a" stroke-width="0.4"/>
<circle cx="142.68" cy="67.70" r="1.3" fill="#b4b4b4" stroke="#4a4a4a" stroke-width="0.4"/>
<circle cx="144.15" cy="49.60" r="1.3" fill="#b4b4b4" stroke="#4a4a4a" stroke-width="0.4"/>
<circle cx="138.21" cy="85.79" r="1.3" fill="#b4b4b4" stroke="#4a4a4a" stroke-width="0.4"/>
<circle cx="144.11" cy="76.87" r="1.3" fill="#b4b4b4" stroke="#4a4a4a" stroke-width="0.4"/>
<circle cx="143.93" cy="100.58" r="1.3" fill="#b4b4b4" stroke="#4a4a4a" stroke-width="0.4"/>
<circle cx="141.75" cy="66.77" r="1.3" fill="#b4b4b4" stroke="#4a4a4a" stroke-width="0.4"/>
<circle cx="140.94" cy="81.00" r="1.3" fill="#b4b4b4" stroke="#4a4a4a" stroke-width="0.4"/>
<circle cx="139.07" cy="84.54" r="1.3" fill="#b4b4b4" stroke="#4a4a4a" stroke-width="0.4"/>
<circle cx="145.56" cy="83.40" r="1.3" fill="#b4b4b4" stroke="#4a4a4a" stroke-width="0.4"/>
<circle cx="143.07" cy="74.87" r="1.3" fill="#b4b4b4" stroke="#4a4a4a" stroke-width="0.4"/>
<circle cx="142.11" cy="50.27" r="1.3" fill="#b4b4b4" stroke="#4a4a4a" stroke-width="0.4"/>
<circle cx="140.68" cy="73.69" r="1.3" fill="#b4b4b4" stroke="#4a4a4a" stroke-width="0.4"/>
<circle cx="137.55" cy="95.93" r="1.3" fill="#b4b4b4" stroke="#4a4a4a" stroke-width="0.4"/>
<circle cx="145.32" cy="93.32" r="1.3" fill="#b4b4b4" stroke="#4a4a4a" stroke-width="0.4"/>
<circle cx="144.40" cy="61.62" r="1.3" fill="#b4b4b4" stroke="#4a4a4a" stroke-width="0.4"/>
<circle cx="143.70" cy="63.92" r="1.3" fill="#b4b4b4" stroke="#4a4a4a" stroke-width="0.4"/>
<circle cx="139.02" cy="67.66" r="1.3" fill="#b4b4b4" stroke="#4a4a4a" stroke-width="0.4"/>
<circle cx="141.11" cy="76.28" r="1.3" fill="#b4b4b4" stroke="#4a4a4a" stroke-width="0.4"/>
<circle cx="137.30" cy="67.00" r="1.3" fill="#cc5048" stroke="#7c2620" stroke-width="0.4"/>
<circle cx="140.30" cy="71.00" r="1.3" fill="#cc5048" stroke="#7c2620" stroke-width="0.4"/>
<circle cx="144.40" cy="72.60" r="1.3" fill="#cc5048" stroke="#7c2620" stroke-width="0.4"/>
<circle cx="144.40" cy="83.50" r="1.3" fill="#cc5048" stroke="#7c2620" stroke-width="0.4"/>
<circle cx="137.90" cy="87.90" r="1.3" fill="#cc5048" stroke="#7c2620" stroke-width="0.4"/>
<circle cx="142.80" cy="90.80" r="1.3" fill="#cc5048" stroke="#7c2620" stroke-width="0.4"/>
<circle cx="137.90" cy="93.60" r="1.3" fill="#cc5048" stroke="#7c2620" stroke-width="0.4"/>
<circle cx="137.00" cy="99.70" r="1.3" fill="#cc5048" stroke="#7c2620" stroke-width="0.4"/>
<circle cx="137.90" cy="102.50" r="1.3" fill="#cc5048" stroke="#7c2620" stroke-width="0.4"/>
<circle cx="144.40" cy="107.40" r="1.3" fill="#cc5048" stroke="#7c2620" stroke-width="0.4"/>
<circle cx="157.50" cy="43.60" r="1.3" fill="#cc5048" stroke="#7c2620" stroke-width="0.4"/>
<circle cx="162.80" cy="44.90" r="1.3" fill="#cc5048" stroke="#7c2620" stroke-width="0.4"/>
<circle cx="158.50" cy="46.70" r="1.3" fill="#cc5048" stroke="#7c2620" stroke-width="0.4"/>
<circle cx="162.20" cy="49.10" r="1.3" fill="#cc5048" stroke="#7c2620" stroke-width="0.4"/>
<circle cx="159.10" cy="52.20" r="1.3" fill="#cc5048" stroke="#7c2620" stroke-width="0.4"/>
<circle cx="162.40" cy="53.10" r="1.3" fill="#cc5048" stroke="#7c2620" stroke-width="0.4"/>
<circle cx="157.30" cy="55.20" r="1.3" fill="#cc5048" stroke="#7c2620" stroke-width="0.4"/>
<circle cx="159.10" cy="56.40" r="1.3" fill="#cc5048" stroke="#7c2620" stroke-width="0.4"/>
<circle cx="157.90" cy="58.00" r="1.3" fill="#cc5048" stroke="#7c2620" stroke-width="0.4"/>
<circle cx="163.88" cy="63.31" r="1.3" fill="#cc5048" stroke="#7c2620" stroke-width="0.4"/>
<circle cx="156.33" cy="72.39" r="1.3" fill="#cc5048" stroke="#7c2620" stroke-width="0.4"/>
<circle cx="157.40" cy="77.98" r="1.3" fill="#cc5048" stroke="#7c2620" stroke-width="0.4"/>
<circle cx="159.50" cy="67.72" r="1.3" fill="#cc5048" stroke="#7c2620" stroke-width="0.4"/>
<circle cx="162.74" cy="62.65" r="1.3" fill="#cc5048" stroke="#7c2620" stroke-width="0.4"/>
<circle cx="155.77" cy="63.45" r="1.3" fill="#cc5048" stroke="#7c2620" stroke-width="0.4"/>
<circle cx="163.36" cy="66.75" r="1.3" fill="#cc5048" stroke="#7c2620" stroke-width="0.4"/>
<circle cx="157.82" cy="61.16" r="1.3" fill="#b4b4b4" stroke="#4a4a4a" stroke-width="0.4"/>
<circle cx="160.93" cy="60.20" r="1.3" fill="#cc5048" stroke="#7c2620" stroke-width="0.4"/>
<circle cx="158.51" cy="71.56" r="1.3" fill="#cc5048" stroke="#7c2620" stroke-width="0.4"/>
<circle cx="161.19" cy="68.45" r="1.3" fill="#b4b4b4" stroke="#4a4a4a" stroke-width="0.4"/>
<circle cx="156.82" cy="70.05" r="1.3" fill="#cc5048" stroke="#7c2620" stroke-width="0.4"/>
<circle cx="159.80" cy="76.97" r="1.3" fill="#cc5048" stroke="#7c2620" stroke-width="0.4"/>
<circle cx="160.58" cy="76.97" r="1.3" fill="#cc5048" stroke="#7c2620" stroke-width="0.4"/>
<circle cx="158.06" cy="75.74" r="1.3" fill="#cc5048" stroke="#7c2620" stroke-width="0.4"/>
<circle cx="156.76" cy="75.68" r="1.3" fill="#cc5048" stroke="#7c2620" stroke-width="0.4"/>
<circle cx="161.54" cy="60.85" r="1.3" fill="#cc5048" stroke="#7c2620" stroke-width="0.4"/>
<circle cx="162.85" cy="77.05" r="1.3" fill="#cc5048" stroke="#7c2620" stroke-width="0.4"/>
<circle cx="156.89" cy="62.76" r="1.3" fill="#cc5048" stroke="#7c2620" stroke-width="0.4"/>
<circle cx="156.21" cy="68.69" r="1.3" fill="#b4b4b4" stroke="#4a4a4a" stroke-width="0.4"/>
<circle cx="161.63" cy="68.64" r="1.3" fill="#cc5048" stroke="#7c2620" stroke-width="0.4"/>
<circle cx="155.70" cy="63.63" r="1.3" fill="#cc5048" stroke="#7c2620" stroke-width="0.4"/>
<circle cx="159.24" cy="64.07" r="1.3" fill="#cc5048" stroke="#7c2620" stroke-width="0.4"/>
<circle cx="163.27" cy="74.85" r="1.3" fill="#cc5048" stroke="#7c2620" stroke-width="0.4"/>
<circle cx="157.03" cy="66.53" r="1.3" fill="#cc5048" stroke="#7c2620" stroke-width="0.4"/>
<circle cx="157.34" cy="77.52" r="1.3" fill="#cc5048" stroke="#7c2620" stroke-width="0.4"/>
<circle cx="155.71" cy="64.70" r="1.3" fill="#cc5048" stroke="#7c2620" stroke-width="0.4"/>
<circle cx="157.06" cy="65.49" r="1.3" fill="#cc5048" stroke="#7c2620" stroke-width="0.4"/>
<circle cx="159.13" cy="63.40" r="1.3" fill="#cc5048" stroke="#7c2620" stroke-width="0.4"/>
<circle cx="160.66" cy="66.94" r="1.3" fill="#cc5048" stroke="#7c2620" stroke-width="0.4"/>
<circle cx="156.33" cy="60.81" r="1.3" fill="#cc5048" stroke="#7c2620" stroke-width="0.4"/>
<circle cx="158.70" cy="68.90" r="1.3" fill="#cc5048" stroke="#7c2620" stroke-width="0.4"/>
<circle cx="161.69" cy="68.59" r="1.3" fill="#b4b4b4" stroke="#4a4a4a" stroke-width="0.4"/>
<circle cx="155.75" cy="60.20" r="1.3" fill="#cc5048" stroke="#7c2620" stroke-width="0.4"/>
<circle cx="160.53" cy="66.34" r="1.3" fill="#cc5048" stroke="#7c2620" stroke-width="0.4"/>
<circle cx="163.90" cy="65.68" r="1.3" fill="#cc5048" stroke="#7c2620" stroke-width="0.4"/>
<circle cx="157.41" cy="74.88" r="1.3" fill="#b4b4b4" stroke="#4a4a4a" stroke-width="0.4"/>
<circle cx="163.90" cy="59.63" r="1.3" fill="#cc5048" stroke="#7c2620" stroke-width="0.4"/>
<circle cx="160.59" cy="77.82" r="1.3" fill="#cc5048" stroke="#7c2620" stroke-width="0.4"/>
<circle cx="159.40" cy="77.43" r="1.3" fill="#cc5048" stroke="#7c2620" stroke-width="0.4"/>
<circle cx="160.70" cy="61.30" r="1.3" fill="#b4b4b4" stroke="#4a4a4a" stroke-width="0.4"/>
<circle cx="156.70" cy="69.20" r="1.3" fill="#b4b4b4" stroke="#4a4a4a" stroke-width="0.4"/>
<circle cx="163.40" cy="78.70" r="1.3" fill="#b4b4b4" stroke="#4a4a4a" stroke-width="0.4"/>
<circle cx="156.70" cy="76.60" r="1.3" fill="#cc5048" stroke="#7c2620" stroke-width="0.4"/>
<circle cx="159.10" cy="77.20" r="1.3" fill="#cc5048" stroke="#7c2620" stroke-width="0.4"/>
<circle cx="159.70" cy="79.60" r="1.3" fill="#cc5048" stroke="#7c2620" stroke-width="0.4"/>
<circle cx="163.40" cy="79.00" r="1.3" fill="#b4b4b4" stroke="#4a4a4a" stroke-width="0.4"/>
<circle cx="157.30" cy="83.50" r="1.3" fill="#cc5048" stroke="#7c2620" stroke-width="0.4"/>
<circle cx="162.80" cy="84.50" r="1.3" fill="#b4b4b4" stroke="#4a4a4a" stroke-width="0.4"/>
<circle cx="159.70" cy="87.20" r="1.3" fill="#cc5048" stroke="#7c2620" stroke-width="0.4"/>
<circle cx="156.70" cy="88.80" r="1.3" fill="#cc5048" stroke="#7c2620" stroke-width="0.4"/>
<circle cx="158.50" cy="88.20" r="1.3" fill="#cc5048" stroke="#7c2620" stroke-width="0.4"/>
<circle cx="157.30" cy="91.20" r="1.3" fill="#b4b4b4" stroke="#4a4a4a" stroke-width="0.4"/>
<circle cx="159.70" cy="93.00" r="1.3" fill="#b4b4b4" stroke="#4a4a4a" stroke-width="0.4"/>
<circle cx="157.30" cy="94.90" r="1.3" fill="#cc5048" stroke="#7c2620" stroke-width="0.4"/>
<circle cx="159.10" cy="97.30" r="1.3" fill="#cc5048" stroke="#7c2620" stroke-width="0.4"/>
<circle cx="161.00" cy="96.00" r="1.3" fill="#b4b4b4" stroke="#4a4a4a" stroke-width="0.4"/>
<circle cx="157.30" cy="99.10" r="1.3" fill="#b4b4b4" stroke="#4a4a4a" stroke-width="0.4"/>
<circle cx="160.70" cy="100.30" r="1.3" fill="#cc5048" stroke="#7c2620" stroke-width="0.4"/>
<circle cx="160.30" cy="102.20" r="1.3" fill="#cc5048" stroke="#7c2620" stroke-width="0.4"/>
<circle cx="162.80" cy="103.40" r="1.3" fill="#b4b4b4" stroke="#4a4a4a" stroke-width="0.4"/>
<circle cx="157.30" cy="104.60" r="1.3" fill="#b4b4b4" stroke="#4a4a4a" stroke-width="0.4"/>
<circle cx="161.00" cy="105.80" r="1.3" fill="#b4b4b4" stroke="#4a4a4a" stroke-width="0.4"/>
<line x1="133.0" y1="77.8" x2="148.2" y2="77.8" stroke="#1a1a1a" stroke-width="0.9" />
<line x1="152.4" y1="70.4" x2="167.6" y2="70.4" stroke="#1a1a1a" stroke-width="0.9" />
<text transform="translate(144.0,128.6) rotate(-45)" font-size="8" fill="#111" stroke="#111" stroke-width="0.2" text-anchor="end" textLength="25.5" lengthAdjust="spacingAndGlyphs">non-CK</text>
<text transform="translate(163.5,127.9) rotate(-45)" font-size="8" fill="#111" stroke="#111" stroke-width="0.2" text-anchor="end" textLength="10.5" lengthAdjust="spacingAndGlyphs">CK</text>
<circle cx="118.30" cy="157.20" r="0.95" fill="#8a8a8a" stroke="#666" stroke-width="0.3"/>
<text x="122.9" y="159.5" font-size="7.4" fill="#111" stroke="#111" stroke-width="0.2" text-anchor="start" textLength="15.1" lengthAdjust="spacingAndGlyphs" >TP53</text>
<text x="138.3" y="156.3" font-size="4.3" fill="#111" stroke="#111" stroke-width="0.2" text-anchor="start" textLength="6.6" lengthAdjust="spacingAndGlyphs" >WT</text>
<circle cx="153.00" cy="157.20" r="0.95" fill="#c04038" stroke="#902a24" stroke-width="0.3"/>
<text x="157.0" y="159.5" font-size="7.4" fill="#111" stroke="#111" stroke-width="0.2" text-anchor="start" textLength="15.2" lengthAdjust="spacingAndGlyphs" >TP53</text>
<text x="172.4" y="156.3" font-size="4.3" fill="#111" stroke="#111" stroke-width="0.2" text-anchor="start" textLength="5.1" lengthAdjust="spacingAndGlyphs" >alt</text>
<path d="M306.00,80.82 A31.6,31.6 0 1 0 244.88,76.39" fill="none" stroke="#1e1e1e" stroke-width="1.15" stroke-dasharray="2.3 1.9"/>
<path d="M320.15,80.12 A45.1,45.1 0 1 0 231.59,78.73" fill="none" stroke="#1e1e1e" stroke-width="1.15" stroke-dasharray="2.3 1.9"/>
<path d="M338.72,80.16 A63.4,63.4 0 1 0 213.28,80.16" fill="none" stroke="#1e1e1e" stroke-width="1.15" stroke-dasharray="2.3 1.9"/>
<text x="304.3" y="87.6" font-size="6.3" fill="#444" stroke="#444" stroke-width="0.2" text-anchor="middle" textLength="8.2" lengthAdjust="spacingAndGlyphs" >0.8</text>
<text x="319.2" y="87.6" font-size="6.3" fill="#444" stroke="#444" stroke-width="0.2" text-anchor="middle" textLength="8.2" lengthAdjust="spacingAndGlyphs" >0.9</text>
<text x="336.8" y="87.6" font-size="6.3" fill="#444" stroke="#444" stroke-width="0.2" text-anchor="middle" textLength="8.2" lengthAdjust="spacingAndGlyphs" >1.0</text>
<line x1="263.0" y1="20.3" x2="270.6" y2="53.0" stroke="#b4b4b4" stroke-width="0.8" />
<line x1="276.4" y1="34.4" x2="276.0" y2="53.0" stroke="#b8b8b8" stroke-width="0.9" />
<line x1="286.0" y1="36.0" x2="281.4" y2="54.5" stroke="#bdbdbd" stroke-width="0.9" />
<line x1="284.3" y1="40.8" x2="282.0" y2="53.0" stroke="#c8c8c8" stroke-width="0.7" />
<line x1="302.7" y1="38.2" x2="284.4" y2="60.0" stroke="#8a8a8a" stroke-width="0.6" />
<line x1="324.0" y1="34.4" x2="286.0" y2="63.0" stroke="#8a8a8a" stroke-width="0.6" />
<line x1="245.6" y1="35.2" x2="259.0" y2="53.5" stroke="#707070" stroke-width="0.7" />
<line x1="247.1" y1="37.8" x2="260.0" y2="53.0" stroke="#c0c0c0" stroke-width="1.3" />
<line x1="252.3" y1="36.8" x2="262.1" y2="52.5" stroke="#858585" stroke-width="0.7" />
<line x1="252.8" y1="38.3" x2="260.5" y2="51.0" stroke="#aaaaaa" stroke-width="0.6" />
<line x1="232.1" y1="40.2" x2="253.0" y2="55.0" stroke="#6e6e6e" stroke-width="0.7" />
<line x1="232.1" y1="49.7" x2="250.0" y2="58.0" stroke="#6e6e6e" stroke-width="0.7" />
<line x1="234.8" y1="56.4" x2="249.5" y2="60.2" stroke="#5a5a5a" stroke-width="1.1" />
<line x1="239.0" y1="55.6" x2="248.0" y2="58.3" stroke="#a8a8a8" stroke-width="0.8" />
<line x1="221.8" y1="71.5" x2="244.0" y2="70.8" stroke="#7a7a7a" stroke-width="0.7" />
<line x1="227.2" y1="73.0" x2="243.0" y2="72.8" stroke="#8a8a8a" stroke-width="0.7" />
<line x1="238.0" y1="66.0" x2="246.0" y2="66.5" stroke="#c8c8c8" stroke-width="1.0" />
<line x1="240.0" y1="68.2" x2="245.0" y2="68.0" stroke="#d0d0d0" stroke-width="1.0" />
<line x1="266.0" y1="30.0" x2="271.0" y2="53.0" stroke="#cfcfcf" stroke-width="0.6" />
<line x1="270.0" y1="41.0" x2="273.0" y2="53.0" stroke="#c8c8c8" stroke-width="0.6" />
<line x1="291.0" y1="42.0" x2="283.0" y2="56.0" stroke="#d0d0d0" stroke-width="0.6" />
<line x1="257.0" y1="44.0" x2="264.0" y2="53.0" stroke="#bbbbbb" stroke-width="0.6" />
<line x1="248.4" y1="37.3" x2="262.0" y2="52.2" stroke="#6a6a6a" stroke-width="0.6" />
<line x1="243.0" y1="47.0" x2="256.0" y2="56.0" stroke="#b0b0b0" stroke-width="0.9" />
<line x1="240.0" y1="52.0" x2="252.0" y2="58.0" stroke="#9a9a9a" stroke-width="0.7" />
<line x1="238.0" y1="61.5" x2="248.0" y2="63.0" stroke="#c4c4c4" stroke-width="1.0" />
<path d="M232.9,81.1 C236,78.7 238.8,75.7 241.0,73.3 C243.4,69.9 245.8,65.7 248.0,63.1 C250.3,60.4 253.3,57.4 256.5,55.9 C259.5,54.1 262.5,52.6 265.8,52.0 C270,51.3 275,51.3 278,51.7 C281.5,52.4 284.3,54.6 285.9,58.4 L286.1,62.5 C285.5,64.5 284.6,66.5 284.3,68.3 L284.6,70.6 C286,72 286.6,74 286.5,77 C286.3,82 283.5,86.5 279.5,88.8 C276,90.6 272,91.3 268.5,91.2 C264,90.9 260,89.9 257,88.7 C252,86.8 248,85 245,84 C241,82.8 236.5,82.2 232.9,82.0 Z M275.8,61.9 A8.6,8.6 0 1 0 275.8,79.1 A8.6,8.6 0 1 0 275.8,61.9 Z" fill="#6f6f6f" fill-rule="evenodd"/>
<path d="M282.6,68.6 L287.6,67.2 L287.6,72.2 L283.0,72.0 Z" fill="#fff"/>
<line x1="285.0" y1="70.0" x2="289.5" y2="69.6" stroke="#c8c8c8" stroke-width="0.8" />
<line x1="222.0" y1="85.0" x2="233.4" y2="81.7" stroke="#c82424" stroke-width="0.9" />
<line x1="225.5" y1="84.1" x2="233.6" y2="81.7" stroke="#c01c1c" stroke-width="1.4" />
<ellipse cx="227.3" cy="83.2" rx="6.6" ry="2.5" transform="rotate(-14 227.3 83.2)" fill="none" stroke="#d84040" stroke-width="0.55"/>
<rect x="203.4" y="111.9" width="153" height="5.6" fill="#ebe8e8" />
<rect x="203.4" y="127.3" width="153" height="6.3" fill="#ebe8e8" />
<rect x="203.2" y="102.6" width="153.3" height="40.6" fill="none" stroke="#3a3a3a" stroke-width="1.3"/>
<text x="274.2" y="108.0" font-size="6.6" fill="#1a1a1a" stroke="#1a1a1a" stroke-width="0.2" text-anchor="start" textLength="24.3" lengthAdjust="spacingAndGlyphs" >in cluster</text>
<text x="311.9" y="108.0" font-size="6.6" fill="#1a1a1a" stroke="#1a1a1a" stroke-width="0.2" text-anchor="start" textLength="35.1" lengthAdjust="spacingAndGlyphs" >not in cluster</text>
<line x1="269.6" y1="110.6" x2="302.7" y2="110.6" stroke="#333" stroke-width="0.8" />
<line x1="313.2" y1="110.6" x2="346.5" y2="110.6" stroke="#333" stroke-width="0.8" />
<text x="206.4" y="116.7" font-size="6.6" fill="#1a1a1a" stroke="#1a1a1a" stroke-width="0.2" text-anchor="start" textLength="39.4" lengthAdjust="spacingAndGlyphs" >In GO:0007049</text>
<text x="285.8" y="116.7" font-size="6.6" fill="#1a1a1a" stroke="#1a1a1a" stroke-width="0.2" text-anchor="middle" >41</text>
<text x="329.6" y="116.7" font-size="6.6" fill="#1a1a1a" stroke="#1a1a1a" stroke-width="0.2" text-anchor="middle" textLength="9.2" lengthAdjust="spacingAndGlyphs" >274</text>
<text x="206.4" y="124.6" font-size="6.6" fill="#1a1a1a" stroke="#1a1a1a" stroke-width="0.2" text-anchor="start" textLength="50.8" lengthAdjust="spacingAndGlyphs" >Not in GO:0007049</text>
<text x="286.5" y="124.6" font-size="6.6" fill="#1a1a1a" stroke="#1a1a1a" stroke-width="0.2" text-anchor="middle" >76</text>
<text x="329.6" y="124.6" font-size="6.6" fill="#1a1a1a" stroke="#1a1a1a" stroke-width="0.2" text-anchor="middle" textLength="16.3" lengthAdjust="spacingAndGlyphs" >20902</text>
<line x1="269.6" y1="126.9" x2="347.3" y2="126.9" stroke="#333" stroke-width="0.8" />
<text x="214.7" y="132.9" font-size="6.6" fill="#1a1a1a" stroke="#1a1a1a" stroke-width="0.2" text-anchor="start" textLength="49.3" lengthAdjust="spacingAndGlyphs" >Enrichment (odds)</text>
<text x="306.5" y="132.9" font-size="6.6" fill="#1a1a1a" stroke="#1a1a1a" stroke-width="0.2" text-anchor="middle" >41</text>
<text x="214.7" y="140.7" font-size="6.6" fill="#1a1a1a" stroke="#1a1a1a" stroke-width="0.2" text-anchor="start" textLength="20.1" lengthAdjust="spacingAndGlyphs" >p-value</text>
<text x="294.2" y="140.9" font-size="6.6" fill="#1a1a1a" stroke="#1a1a1a" stroke-width="0.2" text-anchor="start" textLength="21.0" lengthAdjust="spacingAndGlyphs" >1.5 x 10</text>
<text x="315.4" y="137.6" font-size="3.9" fill="#1a1a1a" stroke="#1a1a1a" stroke-width="0.2" text-anchor="start" textLength="4.6" lengthAdjust="spacingAndGlyphs" >-45</text>
<line x1="407.5" y1="52.3" x2="407.5" y2="94.4" stroke="#ececec" stroke-width="0.5" />
<line x1="425.8" y1="52.3" x2="425.8" y2="94.4" stroke="#ececec" stroke-width="0.5" />
<line x1="444" y1="52.3" x2="444" y2="94.4" stroke="#ececec" stroke-width="0.5" />
<line x1="462.3" y1="52.3" x2="462.3" y2="94.4" stroke="#ececec" stroke-width="0.5" />
<line x1="480.6" y1="52.3" x2="480.6" y2="94.4" stroke="#ececec" stroke-width="0.5" />
<line x1="398.2" y1="54.6" x2="492.8" y2="54.6" stroke="#ececec" stroke-width="0.5" />
<line x1="398.2" y1="60.85" x2="492.8" y2="60.85" stroke="#ececec" stroke-width="0.5" />
<line x1="398.2" y1="67.1" x2="492.8" y2="67.1" stroke="#ececec" stroke-width="0.5" />
<line x1="398.2" y1="73.35" x2="492.8" y2="73.35" stroke="#ececec" stroke-width="0.5" />
<line x1="398.2" y1="79.6" x2="492.8" y2="79.6" stroke="#ececec" stroke-width="0.5" />
<line x1="398.2" y1="85.85" x2="492.8" y2="85.85" stroke="#ececec" stroke-width="0.5" />
<line x1="398.2" y1="92.1" x2="492.8" y2="92.1" stroke="#ececec" stroke-width="0.5" />
<line x1="398.2" y1="92.3" x2="492.8" y2="92.3" stroke="#c8c8c8" stroke-width="0.6" />
<line x1="398.2" y1="94.4" x2="492.8" y2="94.4" stroke="#d8d8d8" stroke-width="0.6" />
<rect x="398.88461538461536" y="94.9" width="4.807692307692321" height="13.099999999999994" fill="#202020" />
<rect x="403.6923076923077" y="94.9" width="1.9230769230769624" height="13.099999999999994" fill="#777" />
<rect x="405.61538461538464" y="94.9" width="1.9230769230769056" height="13.099999999999994" fill="#404040" />
<rect x="407.53846153846155" y="94.9" width="0.5769230769230944" height="13.099999999999994" fill="#888" />
<rect x="408.11538461538464" y="94.9" width="2.307692307692264" height="13.099999999999994" fill="#3a3a3a" />
<rect x="410.4230769230769" y="94.9" width="0.5769230769230944" height="13.099999999999994" fill="#999" />
<rect x="411.0" y="94.9" width="2.307692307692321" height="13.099999999999994" fill="#454545" />
<rect x="413.3076923076923" y="94.9" width="1.9230769230769056" height="13.099999999999994" fill="#bbb" />
<rect x="415.2307692307692" y="94.9" width="5.769230769230774" height="13.099999999999994" fill="#565656" />
<rect x="421.0" y="94.9" width="3.846153846153868" height="13.099999999999994" fill="#9a9a9a" />
<rect x="424.84615384615387" y="94.9" width="1.9230769230769056" height="13.099999999999994" fill="#ddd" />
<rect x="426.7692307692308" y="94.9" width="1.153846153846132" height="13.099999999999994" fill="#444" />
<rect x="427.9230769230769" y="94.9" width="0.7692307692307736" height="13.099999999999994" fill="#999" />
<rect x="428.6923076923077" y="94.9" width="1.5384615384615472" height="13.099999999999994" fill="#3a3a3a" />
<rect x="430.2307692307692" y="94.9" width="0.7692307692307736" height="13.099999999999994" fill="#aaa" />
<rect x="431.0" y="94.9" width="1.5384615384615472" height="13.099999999999994" fill="#505050" />
<rect x="432.53846153846155" y="94.9" width="1.9230769230769056" height="13.099999999999994" fill="#ccc" />
<rect x="434.46153846153845" y="94.9" width="2.8846153846154152" height="13.099999999999994" fill="#7a7a7a" />
<rect x="437.34615384615387" y="94.9" width="1.9230769230769056" height="13.099999999999994" fill="#999" />
<rect x="439.2692307692308" y="94.9" width="2.8846153846153584" height="13.099999999999994" fill="#808080" />
<rect x="442.15384615384613" y="94.9" width="3.846153846153868" height="13.099999999999994" fill="#eee" />
<rect x="446.38461538461536" y="94.9" width="0.7692307692307736" height="13.099999999999994" fill="#555" />
<rect x="447.9230769230769" y="94.9" width="0.9615384615384528" height="13.099999999999994" fill="#666" />
<rect x="448.88461538461536" y="94.9" width="2.8846153846154152" height="13.099999999999994" fill="#bbb" />
<rect x="451.7692307692308" y="94.9" width="1.9230769230769056" height="13.099999999999994" fill="#999" />
<rect x="453.6923076923077" y="94.9" width="8.653846153846132" height="13.099999999999994" fill="#f6f6f6" />
<rect x="462.3461538461538" y="94.9" width="3.2692307692308304" height="13.099999999999994" fill="#9a9a9a" />
<rect x="465.61538461538464" y="94.9" width="3.461538461538453" height="13.099999999999994" fill="#aaa" />
<rect x="469.0769230769231" y="94.9" width="2.307692307692264" height="13.099999999999994" fill="#ddd" />
<rect x="471.5769230769231" y="94.9" width="0.9615384615384528" height="13.099999999999994" fill="#666" />
<rect x="472.9230769230769" y="94.9" width="3.461538461538453" height="13.099999999999994" fill="#ccc" />
<rect x="476.38461538461536" y="94.9" width="0.9615384615384528" height="13.099999999999994" fill="#777" />
<rect x="477.7307692307692" y="94.9" width="2.5" height="13.099999999999994" fill="#ddd" />
<rect x="480.2307692307692" y="94.9" width="0.9615384615384528" height="13.099999999999994" fill="#888" />
<rect x="481.1923076923077" y="94.9" width="1.7307692307692264" height="13.099999999999994" fill="#e8e8e8" />
<rect x="482.9230769230769" y="94.9" width="1.1538461538461888" height="13.099999999999994" fill="#999" />
<rect x="484.0769230769231" y="94.9" width="2.307692307692264" height="13.099999999999994" fill="#eee" />
<defs><linearGradient id="cbD" x1="0" x2="1" y1="0" y2="0"><stop offset="0.0" stop-color="#e46a6a"/><stop offset="0.2422" stop-color="#e87474"/><stop offset="0.3756" stop-color="#ec8484"/><stop offset="0.42" stop-color="#f3bfd0"/><stop offset="0.5089" stop-color="#f0d0e0"/><stop offset="0.5533" stop-color="#e2dcf0"/><stop offset="0.6867" stop-color="#d8d2ee"/><stop offset="0.7311" stop-color="#b8b6e2"/><stop offset="0.8867" stop-color="#9a98d6"/><stop offset="0.9311" stop-color="#6c6cbc"/><stop offset="0.9756" stop-color="#3a3a96"/><stop offset="1.0" stop-color="#2a2a80"/></linearGradient></defs>
<rect x="398.2" y="108.2" width="90.0" height="3.200000000000003" fill="url(#cbD)" />
<polyline points="398.3,92.0 398.6,86.5 399.8,75 401.8,67.3 403.7,63.1 405.5,61.5 407.5,59.6 409.5,57.5 411.4,55.4 414.3,54.8 416.8,54.2 419,54.6 421,55.4 425,57 429.7,58.7 434.5,61.5 439,64.8 444.1,68.3 449,71.2 453.7,74 457.5,76.4 461.4,78.8 467,81.6 472.9,84.6 477,87 480.6,89.4 484.5,90.4 487.9,92.3" fill="none" stroke="#2aa353" stroke-width="1.1" stroke-linejoin="round"/>
<rect x="398.2" y="52.3" width="94.60000000000002" height="59.10000000000001" fill="none" stroke="#222" stroke-width="1"/>
<line x1="394.9" y1="54.6" x2="398.2" y2="54.6" stroke="#222" stroke-width="0.9" />
<text x="392.8" y="57.4" font-size="7.9" fill="#1a1a1a" stroke="#1a1a1a" stroke-width="0.2" text-anchor="end" textLength="10.6" lengthAdjust="spacingAndGlyphs" >0.6</text>
<line x1="394.9" y1="60.85" x2="398.2" y2="60.85" stroke="#222" stroke-width="0.9" />
<text x="392.8" y="63.65" font-size="7.9" fill="#1a1a1a" stroke="#1a1a1a" stroke-width="0.2" text-anchor="end" textLength="10.6" lengthAdjust="spacingAndGlyphs" >0.5</text>
<line x1="394.9" y1="67.1" x2="398.2" y2="67.1" stroke="#222" stroke-width="0.9" />
<text x="392.8" y="69.89999999999999" font-size="7.9" fill="#1a1a1a" stroke="#1a1a1a" stroke-width="0.2" text-anchor="end" textLength="10.6" lengthAdjust="spacingAndGlyphs" >0.4</text>
<line x1="394.9" y1="73.35" x2="398.2" y2="73.35" stroke="#222" stroke-width="0.9" />
<text x="392.8" y="76.14999999999999" font-size="7.9" fill="#1a1a1a" stroke="#1a1a1a" stroke-width="0.2" text-anchor="end" textLength="10.6" lengthAdjust="spacingAndGlyphs" >0.3</text>
<line x1="394.9" y1="79.6" x2="398.2" y2="79.6" stroke="#222" stroke-width="0.9" />
<text x="392.8" y="82.39999999999999" font-size="7.9" fill="#1a1a1a" stroke="#1a1a1a" stroke-width="0.2" text-anchor="end" textLength="10.6" lengthAdjust="spacingAndGlyphs" >0.2</text>
<line x1="394.9" y1="85.85" x2="398.2" y2="85.85" stroke="#222" stroke-width="0.9" />
<text x="392.8" y="88.64999999999999" font-size="7.9" fill="#1a1a1a" stroke="#1a1a1a" stroke-width="0.2" text-anchor="end" textLength="10.6" lengthAdjust="spacingAndGlyphs" >0.1</text>
<line x1="394.9" y1="92.1" x2="398.2" y2="92.1" stroke="#222" stroke-width="0.9" />
<text x="392.8" y="94.89999999999999" font-size="7.9" fill="#1a1a1a" stroke="#1a1a1a" stroke-width="0.2" text-anchor="end" textLength="10.6" lengthAdjust="spacingAndGlyphs" >0.0</text>
<text x="403.8" y="30.0" font-size="8.4" fill="#111" stroke="#111" stroke-width="0.2" text-anchor="start" textLength="78.1" lengthAdjust="spacingAndGlyphs" >CK AML vs non-CK AML</text>
<text x="418.4" y="39.7" font-size="8.4" fill="#111" stroke="#111" stroke-width="0.2" text-anchor="start" textLength="55.3" lengthAdjust="spacingAndGlyphs" >Enrichment plot:</text>
<text x="402.4" y="49.2" font-size="8.4" fill="#111" stroke="#111" stroke-width="0.2" text-anchor="start" textLength="89.5" lengthAdjust="spacingAndGlyphs" >Hallmark G2/M checkpoint</text>
<text transform="translate(376.4,73.25) rotate(-90)" font-size="9.8" fill="#111" stroke="#111" stroke-width="0.2" text-anchor="middle" textLength="68.5" lengthAdjust="spacingAndGlyphs">Enrichment score</text>
<text x="404.7" y="121.9" font-size="8.4" fill="#111" stroke="#111" stroke-width="0.2" text-anchor="start" textLength="81.8" lengthAdjust="spacingAndGlyphs" >Rank in Ordered Dataset</text>
<text x="406.1" y="130.9" font-size="8.4" fill="#111" stroke="#111" stroke-width="0.2" text-anchor="start" textLength="77.8" lengthAdjust="spacingAndGlyphs" >NES: 1.90 (p-value 0.02)</text>
<line x1="62" y1="228.7" x2="62" y2="269.6" stroke="#ececec" stroke-width="0.5" />
<line x1="80" y1="228.7" x2="80" y2="269.6" stroke="#ececec" stroke-width="0.5" />
<line x1="98" y1="228.7" x2="98" y2="269.6" stroke="#ececec" stroke-width="0.5" />
<line x1="116" y1="228.7" x2="116" y2="269.6" stroke="#ececec" stroke-width="0.5" />
<line x1="134" y1="228.7" x2="134" y2="269.6" stroke="#ececec" stroke-width="0.5" />
<line x1="52.4" y1="231.3" x2="143.3" y2="231.3" stroke="#ececec" stroke-width="0.5" />
<line x1="52.4" y1="238.4" x2="143.3" y2="238.4" stroke="#ececec" stroke-width="0.5" />
<line x1="52.4" y1="245.5" x2="143.3" y2="245.5" stroke="#ececec" stroke-width="0.5" />
<line x1="52.4" y1="252.60000000000002" x2="143.3" y2="252.60000000000002" stroke="#ececec" stroke-width="0.5" />
<line x1="52.4" y1="259.7" x2="143.3" y2="259.7" stroke="#ececec" stroke-width="0.5" />
<line x1="52.4" y1="266.8" x2="143.3" y2="266.8" stroke="#ececec" stroke-width="0.5" />
<line x1="52.4" y1="267.5" x2="143.3" y2="267.5" stroke="#c8c8c8" stroke-width="0.6" />
<line x1="52.4" y1="269.6" x2="143.3" y2="269.6" stroke="#d8d8d8" stroke-width="0.6" />
<rect x="55.53812073103194" y="270.1" width="1.4768321949418493" height="14.099999999999966" fill="#555" />
<rect x="57.01495292597379" y="270.1" width="1.2922281705741199" height="14.099999999999966" fill="#999" />
<rect x="58.30718109654791" y="270.1" width="1.846040243677308" height="14.099999999999966" fill="#333" />
<rect x="60.153221340225215" y="270.1" width="1.2922281705741199" height="14.099999999999966" fill="#aaa" />
<rect x="61.445449510799335" y="270.1" width="1.4768321949418493" height="14.099999999999966" fill="#111" />
<rect x="62.922281705741185" y="270.1" width="1.846040243677308" height="14.099999999999966" fill="#888" />
<rect x="64.76832194941849" y="270.1" width="1.4768321949418635" height="14.099999999999966" fill="#444" />
<rect x="66.24515414436036" y="270.1" width="1.2922281705741057" height="14.099999999999966" fill="#bbb" />
<rect x="67.53738231493446" y="270.1" width="1.4768321949418493" height="14.099999999999966" fill="#333" />
<rect x="69.01421450987631" y="270.1" width="1.2922281705741199" height="14.099999999999966" fill="#777" />
<rect x="70.30644268045043" y="270.1" width="1.4768321949418493" height="14.099999999999966" fill="#222" />
<rect x="71.78327487539228" y="270.1" width="1.2922281705741199" height="14.099999999999966" fill="#aaa" />
<rect x="73.0755030459664" y="270.1" width="1.8460402436773222" height="14.099999999999966" fill="#555" />
<rect x="74.92154328964372" y="270.1" width="1.2922281705741057" height="14.099999999999966" fill="#999" />
<rect x="76.21377146021783" y="270.1" width="1.4768321949418635" height="14.099999999999966" fill="#222" />
<rect x="77.69060365515969" y="270.1" width="1.846040243677308" height="14.099999999999966" fill="#777" />
<rect x="79.536643898837" y="270.1" width="1.4768321949418493" height="14.099999999999966" fill="#333" />
<rect x="81.01347609377885" y="270.1" width="2.215248292412781" height="14.099999999999966" fill="#bbb" />
<rect x="83.22872438619163" y="270.1" width="1.476832194941835" height="14.099999999999966" fill="#444" />
<rect x="84.70555658113346" y="270.1" width="1.8460402436773222" height="14.099999999999966" fill="#888" />
<rect x="86.55159682481079" y="270.1" width="1.2922281705741057" height="14.099999999999966" fill="#111" />
<rect x="87.84382499538489" y="270.1" width="1.8460402436773222" height="14.099999999999966" fill="#999" />
<rect x="89.68986523906221" y="270.1" width="1.846040243677308" height="14.099999999999966" fill="#555" />
<rect x="91.53590548273952" y="270.1" width="2.769060365515969" height="14.099999999999966" fill="#aaa" />
<rect x="94.30496584825549" y="270.1" width="1.846040243677308" height="14.099999999999966" fill="#777" />
<rect x="96.1510060919328" y="270.1" width="2.769060365515969" height="14.099999999999966" fill="#ccc" />
<rect x="103.53516706664206" y="270.1" width="0.9230201218386469" height="14.099999999999966" fill="#666" />
<rect x="104.45818718848071" y="270.1" width="1.8460402436773222" height="14.099999999999966" fill="#ddd" />
<rect x="106.30422743215803" y="270.1" width="1.2922281705741057" height="14.099999999999966" fill="#999" />
<rect x="107.59645560273214" y="270.1" width="2.3998523167805104" height="14.099999999999966" fill="#bbb" />
<rect x="109.99630791951265" y="270.1" width="3.692080487354616" height="14.099999999999966" fill="#ddd" />
<rect x="113.68838840686726" y="270.1" width="1.292228170574134" height="14.099999999999966" fill="#888" />
<rect x="114.9806165774414" y="270.1" width="3.3228724386191573" height="14.099999999999966" fill="#ccc" />
<rect x="118.30348901606055" y="270.1" width="1.4768321949418493" height="14.099999999999966" fill="#999" />
<rect x="119.7803212110024" y="270.1" width="3.138268414251428" height="14.099999999999966" fill="#e8e8e8" />
<rect x="122.91858962525383" y="270.1" width="1.2922281705741199" height="14.099999999999966" fill="#aaa" />
<rect x="124.21081779582795" y="270.1" width="3.3228724386191573" height="14.099999999999966" fill="#eee" />
<rect x="127.5336902344471" y="270.1" width="1.4768321949418635" height="14.099999999999966" fill="#bbb" />
<rect x="129.01052242938897" y="270.1" width="4.98430865792875" height="14.099999999999966" fill="#f4f4f4" />
<rect x="133.99483108731772" y="270.1" width="1.2922281705741057" height="14.099999999999966" fill="#ccc" />
<rect x="135.28705925789183" y="270.1" width="1.476832194941835" height="14.099999999999966" fill="#eee" />
<rect x="136.76389145283366" y="270.1" width="1.1076241462064047" height="14.099999999999966" fill="#aaa" />
<defs><linearGradient id="cbE" x1="0" x2="1" y1="0" y2="0"><stop offset="0.0" stop-color="#e46a6a"/><stop offset="0.2622" stop-color="#e87676"/><stop offset="0.3782" stop-color="#ec8888"/><stop offset="0.413" stop-color="#f2c4d4"/><stop offset="0.5754" stop-color="#f0d0e0"/><stop offset="0.6218" stop-color="#e0dcf0"/><stop offset="0.7842" stop-color="#d8d4ee"/><stop offset="0.819" stop-color="#b4b2e0"/><stop offset="0.9234" stop-color="#9c9ad6"/><stop offset="0.9466" stop-color="#6a6aba"/><stop offset="0.9756" stop-color="#3a3a96"/><stop offset="1.0" stop-color="#2a2a80"/></linearGradient></defs>
<rect x="52.4" y="284.4" width="86.19999999999999" height="4.100000000000023" fill="url(#cbE)" />
<polyline points="52.22,266.98 54.62,268.09 56.46,267.72 58.31,259.23 60.15,250.0 61.08,244.46 62.0,242.98 62.92,241.69 63.85,240.77 64.77,237.45 65.69,235.6 66.98,234.86 68.46,235.23 69.94,234.31 71.23,233.38 72.52,233.01 74.0,233.01 75.48,233.38 76.77,232.46 78.06,231.91 79.54,231.54 81.38,231.17 83.23,231.54 85.07,232.09 86.92,232.65 88.77,233.38 92.46,235.23 96.15,237.63 99.84,240.4 105.38,245.38 110.92,250.0 116.46,254.06 122.0,257.38 127.53,260.71 132.15,263.84 134.55,265.69 135.84,266.24 137.13,265.87 138.24,266.61 139.53,267.54" fill="none" stroke="#2aa353" stroke-width="1.1" stroke-linejoin="round"/>
<rect x="52.4" y="228.7" width="90.9" height="59.80000000000001" fill="none" stroke="#222" stroke-width="1"/>
<line x1="49.1" y1="231.3" x2="52.4" y2="231.3" stroke="#222" stroke-width="0.9" />
<text x="47.0" y="234.10000000000002" font-size="7.9" fill="#1a1a1a" stroke="#1a1a1a" stroke-width="0.2" text-anchor="end" textLength="10.6" lengthAdjust="spacingAndGlyphs" >0.5</text>
<line x1="49.1" y1="238.4" x2="52.4" y2="238.4" stroke="#222" stroke-width="0.9" />
<text x="47.0" y="241.20000000000002" font-size="7.9" fill="#1a1a1a" stroke="#1a1a1a" stroke-width="0.2" text-anchor="end" textLength="10.6" lengthAdjust="spacingAndGlyphs" >0.4</text>
<line x1="49.1" y1="245.5" x2="52.4" y2="245.5" stroke="#222" stroke-width="0.9" />
<text x="47.0" y="248.3" font-size="7.9" fill="#1a1a1a" stroke="#1a1a1a" stroke-width="0.2" text-anchor="end" textLength="10.6" lengthAdjust="spacingAndGlyphs" >0.3</text>
<line x1="49.1" y1="252.60000000000002" x2="52.4" y2="252.60000000000002" stroke="#222" stroke-width="0.9" />
<text x="47.0" y="255.40000000000003" font-size="7.9" fill="#1a1a1a" stroke="#1a1a1a" stroke-width="0.2" text-anchor="end" textLength="10.6" lengthAdjust="spacingAndGlyphs" >0.2</text>
<line x1="49.1" y1="259.7" x2="52.4" y2="259.7" stroke="#222" stroke-width="0.9" />
<text x="47.0" y="262.5" font-size="7.9" fill="#1a1a1a" stroke="#1a1a1a" stroke-width="0.2" text-anchor="end" textLength="10.6" lengthAdjust="spacingAndGlyphs" >0.1</text>
<line x1="49.1" y1="266.8" x2="52.4" y2="266.8" stroke="#222" stroke-width="0.9" />
<text x="47.0" y="269.6" font-size="7.9" fill="#1a1a1a" stroke="#1a1a1a" stroke-width="0.2" text-anchor="end" textLength="10.6" lengthAdjust="spacingAndGlyphs" >0.0</text>
<text x="25.5" y="203.7" font-size="8.4" fill="#111" stroke="#111" stroke-width="0.2" text-anchor="start" textLength="138.7" lengthAdjust="spacingAndGlyphs" >CK AML: high vs low clonal heterogeneity</text>
<text x="68.9" y="214.6" font-size="8.4" fill="#111" stroke="#111" stroke-width="0.2" text-anchor="start" textLength="55.7" lengthAdjust="spacingAndGlyphs" >Enrichment plot:</text>
<text x="52.8" y="224.3" font-size="8.4" fill="#111" stroke="#111" stroke-width="0.2" text-anchor="start" textLength="90.0" lengthAdjust="spacingAndGlyphs" >Hallmark G2/M checkpoint</text>
<text transform="translate(30.4,248.3) rotate(-90)" font-size="9.8" fill="#111" stroke="#111" stroke-width="0.2" text-anchor="middle" textLength="68.5" lengthAdjust="spacingAndGlyphs">Enrichment score</text>
<text x="56.9" y="300.5" font-size="8.4" fill="#111" stroke="#111" stroke-width="0.2" text-anchor="start" textLength="81.4" lengthAdjust="spacingAndGlyphs" >Rank in Ordered Dataset</text>
<text x="55.9" y="309.0" font-size="8.4" fill="#111" stroke="#111" stroke-width="0.2" text-anchor="start" textLength="83.9" lengthAdjust="spacingAndGlyphs" >NES: 1.64, (p-value 0.067)</text>
<rect x="205.60" y="215.60" width="2.99" height="2.65" fill="#f7f7f6"/>
<rect x="208.29" y="215.60" width="2.99" height="2.65" fill="#f2cfbe"/>
<rect x="210.97" y="215.60" width="2.99" height="2.65" fill="#f5f6f6"/>
<rect x="213.66" y="215.60" width="2.99" height="2.65" fill="#edbfa7"/>
<rect x="216.34" y="215.60" width="2.99" height="2.65" fill="#f7e0d4"/>
<rect x="219.03" y="215.60" width="2.99" height="2.65" fill="#f8ede6"/>
<rect x="221.71" y="215.60" width="2.99" height="2.65" fill="#e9b299"/>
<rect x="224.40" y="215.60" width="2.99" height="2.65" fill="#f4d6c6"/>
<rect x="227.09" y="215.60" width="2.99" height="2.65" fill="#f8f4f2"/>
<rect x="229.77" y="215.60" width="2.99" height="2.65" fill="#f8f1ec"/>
<rect x="232.46" y="215.60" width="2.99" height="2.65" fill="#f7e6dd"/>
<rect x="235.14" y="215.60" width="2.99" height="2.65" fill="#f3f5f6"/>
<rect x="237.83" y="215.60" width="2.99" height="2.65" fill="#f3f5f6"/>
<rect x="240.51" y="215.60" width="2.99" height="2.65" fill="#d1e4ef"/>
<rect x="243.20" y="215.60" width="2.96" height="2.65" fill="#b84141"/>
<rect x="245.86" y="215.60" width="2.96" height="2.65" fill="#f5f6f6"/>
<rect x="248.52" y="215.60" width="2.96" height="2.65" fill="#f1f4f6"/>
<rect x="251.17" y="215.60" width="2.96" height="2.65" fill="#abcee6"/>
<rect x="253.83" y="215.60" width="2.96" height="2.65" fill="#e3eef4"/>
<rect x="256.49" y="215.60" width="2.96" height="2.65" fill="#f8f0ec"/>
<rect x="259.15" y="215.60" width="2.96" height="2.65" fill="#f7e0d3"/>
<rect x="261.81" y="215.60" width="2.96" height="2.65" fill="#edf3f6"/>
<rect x="264.47" y="215.60" width="2.96" height="2.65" fill="#f2cfbd"/>
<rect x="267.12" y="215.60" width="2.96" height="2.65" fill="#da8d73"/>
<rect x="269.78" y="215.60" width="2.96" height="2.65" fill="#f8efea"/>
<rect x="272.44" y="215.60" width="2.96" height="2.65" fill="#f1cdbb"/>
<rect x="275.10" y="215.60" width="2.96" height="2.65" fill="#e9b299"/>
<rect x="277.76" y="215.60" width="2.96" height="2.65" fill="#f8eee9"/>
<rect x="280.42" y="215.60" width="2.96" height="2.65" fill="#e4a48a"/>
<rect x="283.07" y="215.60" width="2.96" height="2.65" fill="#f7e1d5"/>
<rect x="285.73" y="215.60" width="2.96" height="2.65" fill="#f8ece6"/>
<rect x="288.39" y="215.60" width="2.96" height="2.65" fill="#f4d8ca"/>
<rect x="291.05" y="215.60" width="2.96" height="2.65" fill="#efc7b3"/>
<rect x="293.71" y="215.60" width="2.96" height="2.65" fill="#f7e5db"/>
<rect x="296.37" y="215.60" width="2.96" height="2.65" fill="#ebb89f"/>
<rect x="299.02" y="215.60" width="2.96" height="2.65" fill="#e6ab91"/>
<rect x="301.68" y="215.60" width="2.96" height="2.65" fill="#da8c73"/>
<rect x="304.34" y="215.60" width="2.96" height="2.65" fill="#e8b198"/>
<rect x="205.60" y="217.95" width="2.99" height="2.65" fill="#f7ebe4"/>
<rect x="208.29" y="217.95" width="2.99" height="2.65" fill="#f8ece6"/>
<rect x="210.97" y="217.95" width="2.99" height="2.65" fill="#f2f5f6"/>
<rect x="213.66" y="217.95" width="2.99" height="2.65" fill="#efc5b0"/>
<rect x="216.34" y="217.95" width="2.99" height="2.65" fill="#f3d4c4"/>
<rect x="219.03" y="217.95" width="2.99" height="2.65" fill="#f7e1d5"/>
<rect x="221.71" y="217.95" width="2.99" height="2.65" fill="#f4d6c6"/>
<rect x="224.40" y="217.95" width="2.99" height="2.65" fill="#f7eae3"/>
<rect x="227.09" y="217.95" width="2.99" height="2.65" fill="#ecbda6"/>
<rect x="229.77" y="217.95" width="2.99" height="2.65" fill="#e8f0f5"/>
<rect x="232.46" y="217.95" width="2.99" height="2.65" fill="#e3edf4"/>
<rect x="235.14" y="217.95" width="2.99" height="2.65" fill="#f8ede8"/>
<rect x="237.83" y="217.95" width="2.99" height="2.65" fill="#c8dfed"/>
<rect x="240.51" y="217.95" width="2.99" height="2.65" fill="#e3edf4"/>
<rect x="243.20" y="217.95" width="2.96" height="2.65" fill="#f8ede7"/>
<rect x="245.86" y="217.95" width="2.96" height="2.65" fill="#f1f4f6"/>
<rect x="248.52" y="217.95" width="2.96" height="2.65" fill="#f2f5f6"/>
<rect x="251.17" y="217.95" width="2.96" height="2.65" fill="#f0f4f6"/>
<rect x="253.83" y="217.95" width="2.96" height="2.65" fill="#dceaf2"/>
<rect x="256.49" y="217.95" width="2.96" height="2.65" fill="#f8f5f3"/>
<rect x="259.15" y="217.95" width="2.96" height="2.65" fill="#f6f6f6"/>
<rect x="261.81" y="217.95" width="2.96" height="2.65" fill="#f1f4f6"/>
<rect x="264.47" y="217.95" width="2.96" height="2.65" fill="#f3d4c4"/>
<rect x="267.12" y="217.95" width="2.96" height="2.65" fill="#f1cfbd"/>
<rect x="269.78" y="217.95" width="2.96" height="2.65" fill="#f8f0eb"/>
<rect x="272.44" y="217.95" width="2.96" height="2.65" fill="#f7eae3"/>
<rect x="275.10" y="217.95" width="2.96" height="2.65" fill="#cae0ee"/>
<rect x="277.76" y="217.95" width="2.96" height="2.65" fill="#edbfa8"/>
<rect x="280.42" y="217.95" width="2.96" height="2.65" fill="#f3d3c2"/>
<rect x="283.07" y="217.95" width="2.96" height="2.65" fill="#e4a58b"/>
<rect x="285.73" y="217.95" width="2.96" height="2.65" fill="#efc6b1"/>
<rect x="288.39" y="217.95" width="2.96" height="2.65" fill="#edbfa8"/>
<rect x="291.05" y="217.95" width="2.96" height="2.65" fill="#eec4af"/>
<rect x="293.71" y="217.95" width="2.96" height="2.65" fill="#eab59c"/>
<rect x="296.37" y="217.95" width="2.96" height="2.65" fill="#eec4af"/>
<rect x="299.02" y="217.95" width="2.96" height="2.65" fill="#e2a085"/>
<rect x="301.68" y="217.95" width="2.96" height="2.65" fill="#e9b39a"/>
<rect x="304.34" y="217.95" width="2.96" height="2.65" fill="#d27962"/>
<rect x="205.60" y="220.30" width="2.99" height="2.65" fill="#f0f4f6"/>
<rect x="208.29" y="220.30" width="2.99" height="2.65" fill="#eec2ac"/>
<rect x="210.97" y="220.30" width="2.99" height="2.65" fill="#f7e9e1"/>
<rect x="213.66" y="220.30" width="2.99" height="2.65" fill="#edc1aa"/>
<rect x="216.34" y="220.30" width="2.99" height="2.65" fill="#f8efea"/>
<rect x="219.03" y="220.30" width="2.99" height="2.65" fill="#f5d9cb"/>
<rect x="221.71" y="220.30" width="2.99" height="2.65" fill="#e4eef4"/>
<rect x="224.40" y="220.30" width="2.99" height="2.65" fill="#ebb89f"/>
<rect x="227.09" y="220.30" width="2.99" height="2.65" fill="#f8f2ee"/>
<rect x="229.77" y="220.30" width="2.99" height="2.65" fill="#f3f5f6"/>
<rect x="232.46" y="220.30" width="2.99" height="2.65" fill="#f2d1c0"/>
<rect x="235.14" y="220.30" width="2.99" height="2.65" fill="#e6eff4"/>
<rect x="237.83" y="220.30" width="2.99" height="2.65" fill="#f8f4f1"/>
<rect x="240.51" y="220.30" width="2.99" height="2.65" fill="#e5eef4"/>
<rect x="243.20" y="220.30" width="2.96" height="2.65" fill="#e09a7f"/>
<rect x="245.86" y="220.30" width="2.96" height="2.65" fill="#f1f4f6"/>
<rect x="248.52" y="220.30" width="2.96" height="2.65" fill="#e5eef4"/>
<rect x="251.17" y="220.30" width="2.96" height="2.65" fill="#f8f5f3"/>
<rect x="253.83" y="220.30" width="2.96" height="2.65" fill="#f8f7f6"/>
<rect x="256.49" y="220.30" width="2.96" height="2.65" fill="#f0c9b6"/>
<rect x="259.15" y="220.30" width="2.96" height="2.65" fill="#ecf2f6"/>
<rect x="261.81" y="220.30" width="2.96" height="2.65" fill="#e7f0f5"/>
<rect x="264.47" y="220.30" width="2.96" height="2.65" fill="#f8ede7"/>
<rect x="267.12" y="220.30" width="2.96" height="2.65" fill="#f7ebe4"/>
<rect x="269.78" y="220.30" width="2.96" height="2.65" fill="#f6dfd3"/>
<rect x="272.44" y="220.30" width="2.96" height="2.65" fill="#e6aa90"/>
<rect x="275.10" y="220.30" width="2.96" height="2.65" fill="#eaf1f5"/>
<rect x="277.76" y="220.30" width="2.96" height="2.65" fill="#f7e4d9"/>
<rect x="280.42" y="220.30" width="2.96" height="2.65" fill="#f5dacb"/>
<rect x="283.07" y="220.30" width="2.96" height="2.65" fill="#f4d7c7"/>
<rect x="285.73" y="220.30" width="2.96" height="2.65" fill="#f6ded1"/>
<rect x="288.39" y="220.30" width="2.96" height="2.65" fill="#f7e3d9"/>
<rect x="291.05" y="220.30" width="2.96" height="2.65" fill="#efc6b2"/>
<rect x="293.71" y="220.30" width="2.96" height="2.65" fill="#edc0aa"/>
<rect x="296.37" y="220.30" width="2.96" height="2.65" fill="#f8f2ee"/>
<rect x="299.02" y="220.30" width="2.96" height="2.65" fill="#e9b49b"/>
<rect x="301.68" y="220.30" width="2.96" height="2.65" fill="#eab69c"/>
<rect x="304.34" y="220.30" width="2.96" height="2.65" fill="#e3a287"/>
<rect x="205.60" y="222.65" width="2.99" height="2.65" fill="#f2f5f6"/>
<rect x="208.29" y="222.65" width="2.99" height="2.65" fill="#f7e9e1"/>
<rect x="210.97" y="222.65" width="2.99" height="2.65" fill="#f5dcce"/>
<rect x="213.66" y="222.65" width="2.99" height="2.65" fill="#eec2ac"/>
<rect x="216.34" y="222.65" width="2.99" height="2.65" fill="#f6f6f6"/>
<rect x="219.03" y="222.65" width="2.99" height="2.65" fill="#f3f5f6"/>
<rect x="221.71" y="222.65" width="2.99" height="2.65" fill="#f0f4f6"/>
<rect x="224.40" y="222.65" width="2.99" height="2.65" fill="#ebb89f"/>
<rect x="227.09" y="222.65" width="2.99" height="2.65" fill="#f0f4f6"/>
<rect x="229.77" y="222.65" width="2.99" height="2.65" fill="#e3edf4"/>
<rect x="232.46" y="222.65" width="2.99" height="2.65" fill="#e3edf3"/>
<rect x="235.14" y="222.65" width="2.99" height="2.65" fill="#f7ece5"/>
<rect x="237.83" y="222.65" width="2.99" height="2.65" fill="#e2edf3"/>
<rect x="240.51" y="222.65" width="2.99" height="2.65" fill="#d0e3ef"/>
<rect x="243.20" y="222.65" width="2.96" height="2.65" fill="#f6dccf"/>
<rect x="245.86" y="222.65" width="2.96" height="2.65" fill="#ebf2f5"/>
<rect x="248.52" y="222.65" width="2.96" height="2.65" fill="#e2edf3"/>
<rect x="251.17" y="222.65" width="2.96" height="2.65" fill="#f7e8df"/>
<rect x="253.83" y="222.65" width="2.96" height="2.65" fill="#f7e9e2"/>
<rect x="256.49" y="222.65" width="2.96" height="2.65" fill="#eef3f6"/>
<rect x="259.15" y="222.65" width="2.96" height="2.65" fill="#eec4ae"/>
<rect x="261.81" y="222.65" width="2.96" height="2.65" fill="#ebf1f5"/>
<rect x="264.47" y="222.65" width="2.96" height="2.65" fill="#f7e0d4"/>
<rect x="267.12" y="222.65" width="2.96" height="2.65" fill="#f2d1c0"/>
<rect x="269.78" y="222.65" width="2.96" height="2.65" fill="#f0f4f6"/>
<rect x="272.44" y="222.65" width="2.96" height="2.65" fill="#ecbda5"/>
<rect x="275.10" y="222.65" width="2.96" height="2.65" fill="#f8f7f6"/>
<rect x="277.76" y="222.65" width="2.96" height="2.65" fill="#a7cce4"/>
<rect x="280.42" y="222.65" width="2.96" height="2.65" fill="#f2f5f6"/>
<rect x="283.07" y="222.65" width="2.96" height="2.65" fill="#f4d7c7"/>
<rect x="285.73" y="222.65" width="2.96" height="2.65" fill="#f7e8e0"/>
<rect x="288.39" y="222.65" width="2.96" height="2.65" fill="#e8b096"/>
<rect x="291.05" y="222.65" width="2.96" height="2.65" fill="#f8f0ec"/>
<rect x="293.71" y="222.65" width="2.96" height="2.65" fill="#f7e8e0"/>
<rect x="296.37" y="222.65" width="2.96" height="2.65" fill="#f7e6dc"/>
<rect x="299.02" y="222.65" width="2.96" height="2.65" fill="#e8af96"/>
<rect x="301.68" y="222.65" width="2.96" height="2.65" fill="#df987d"/>
<rect x="304.34" y="222.65" width="2.96" height="2.65" fill="#d98b71"/>
<rect x="205.60" y="225.00" width="2.99" height="2.65" fill="#ddeaf2"/>
<rect x="208.29" y="225.00" width="2.99" height="2.65" fill="#e0ecf3"/>
<rect x="210.97" y="225.00" width="2.99" height="2.65" fill="#f7e0d4"/>
<rect x="213.66" y="225.00" width="2.99" height="2.65" fill="#f2d0bf"/>
<rect x="216.34" y="225.00" width="2.99" height="2.65" fill="#f5dacb"/>
<rect x="219.03" y="225.00" width="2.99" height="2.65" fill="#dceaf2"/>
<rect x="221.71" y="225.00" width="2.99" height="2.65" fill="#f4f5f6"/>
<rect x="224.40" y="225.00" width="2.99" height="2.65" fill="#f6ded1"/>
<rect x="227.09" y="225.00" width="2.99" height="2.65" fill="#f8f6f5"/>
<rect x="229.77" y="225.00" width="2.99" height="2.65" fill="#e6eff4"/>
<rect x="232.46" y="225.00" width="2.99" height="2.65" fill="#f1f4f6"/>
<rect x="235.14" y="225.00" width="2.99" height="2.65" fill="#f8f0eb"/>
<rect x="237.83" y="225.00" width="2.99" height="2.65" fill="#d8e8f1"/>
<rect x="240.51" y="225.00" width="2.99" height="2.65" fill="#ddeaf2"/>
<rect x="243.20" y="225.00" width="2.96" height="2.65" fill="#f1cdba"/>
<rect x="245.86" y="225.00" width="2.96" height="2.65" fill="#f0cbb8"/>
<rect x="248.52" y="225.00" width="2.96" height="2.65" fill="#f7ebe5"/>
<rect x="251.17" y="225.00" width="2.96" height="2.65" fill="#ebb89f"/>
<rect x="253.83" y="225.00" width="2.96" height="2.65" fill="#f7e4d9"/>
<rect x="256.49" y="225.00" width="2.96" height="2.65" fill="#f7e3d8"/>
<rect x="259.15" y="225.00" width="2.96" height="2.65" fill="#eef3f6"/>
<rect x="261.81" y="225.00" width="2.96" height="2.65" fill="#f8ece6"/>
<rect x="264.47" y="225.00" width="2.96" height="2.65" fill="#f1f4f6"/>
<rect x="267.12" y="225.00" width="2.96" height="2.65" fill="#f0cbb8"/>
<rect x="269.78" y="225.00" width="2.96" height="2.65" fill="#f8efea"/>
<rect x="272.44" y="225.00" width="2.96" height="2.65" fill="#f5dacc"/>
<rect x="275.10" y="225.00" width="2.96" height="2.65" fill="#f4d6c7"/>
<rect x="277.76" y="225.00" width="2.96" height="2.65" fill="#f7e8e0"/>
<rect x="280.42" y="225.00" width="2.96" height="2.65" fill="#eab69d"/>
<rect x="283.07" y="225.00" width="2.96" height="2.65" fill="#f5f6f6"/>
<rect x="285.73" y="225.00" width="2.96" height="2.65" fill="#f5dbce"/>
<rect x="288.39" y="225.00" width="2.96" height="2.65" fill="#f5dacc"/>
<rect x="291.05" y="225.00" width="2.96" height="2.65" fill="#e4a48a"/>
<rect x="293.71" y="225.00" width="2.96" height="2.65" fill="#f6dfd2"/>
<rect x="296.37" y="225.00" width="2.96" height="2.65" fill="#e6eff4"/>
<rect x="299.02" y="225.00" width="2.96" height="2.65" fill="#e29f85"/>
<rect x="301.68" y="225.00" width="2.96" height="2.65" fill="#cf725c"/>
<rect x="304.34" y="225.00" width="2.96" height="2.65" fill="#ebb89f"/>
<rect x="205.60" y="227.35" width="2.99" height="2.65" fill="#e0ebf3"/>
<rect x="208.29" y="227.35" width="2.99" height="2.65" fill="#f2d0bf"/>
<rect x="210.97" y="227.35" width="2.99" height="2.65" fill="#f7e6dc"/>
<rect x="213.66" y="227.35" width="2.99" height="2.65" fill="#f8efea"/>
<rect x="216.34" y="227.35" width="2.99" height="2.65" fill="#f7eae2"/>
<rect x="219.03" y="227.35" width="2.99" height="2.65" fill="#f0f4f6"/>
<rect x="221.71" y="227.35" width="2.99" height="2.65" fill="#f6dfd2"/>
<rect x="224.40" y="227.35" width="2.99" height="2.65" fill="#f8ede6"/>
<rect x="227.09" y="227.35" width="2.99" height="2.65" fill="#f8f2ee"/>
<rect x="229.77" y="227.35" width="2.99" height="2.65" fill="#b7d5e9"/>
<rect x="232.46" y="227.35" width="2.99" height="2.65" fill="#e8f0f5"/>
<rect x="235.14" y="227.35" width="2.99" height="2.65" fill="#ddeaf2"/>
<rect x="237.83" y="227.35" width="2.99" height="2.65" fill="#f7f7f6"/>
<rect x="240.51" y="227.35" width="2.99" height="2.65" fill="#f4f6f6"/>
<rect x="243.20" y="227.35" width="2.96" height="2.65" fill="#f7eae3"/>
<rect x="245.86" y="227.35" width="2.96" height="2.65" fill="#f3d2c1"/>
<rect x="248.52" y="227.35" width="2.96" height="2.65" fill="#eef3f6"/>
<rect x="251.17" y="227.35" width="2.96" height="2.65" fill="#f4f5f6"/>
<rect x="253.83" y="227.35" width="2.96" height="2.65" fill="#f7e1d5"/>
<rect x="256.49" y="227.35" width="2.96" height="2.65" fill="#f7e6dd"/>
<rect x="259.15" y="227.35" width="2.96" height="2.65" fill="#f6f6f6"/>
<rect x="261.81" y="227.35" width="2.96" height="2.65" fill="#f7ebe4"/>
<rect x="264.47" y="227.35" width="2.96" height="2.65" fill="#f1f4f6"/>
<rect x="267.12" y="227.35" width="2.96" height="2.65" fill="#f6dccf"/>
<rect x="269.78" y="227.35" width="2.96" height="2.65" fill="#edbea7"/>
<rect x="272.44" y="227.35" width="2.96" height="2.65" fill="#f4d6c6"/>
<rect x="275.10" y="227.35" width="2.96" height="2.65" fill="#f6f6f6"/>
<rect x="277.76" y="227.35" width="2.96" height="2.65" fill="#efc5b0"/>
<rect x="280.42" y="227.35" width="2.96" height="2.65" fill="#f6ddd0"/>
<rect x="283.07" y="227.35" width="2.96" height="2.65" fill="#efc7b2"/>
<rect x="285.73" y="227.35" width="2.96" height="2.65" fill="#f2cfbd"/>
<rect x="288.39" y="227.35" width="2.96" height="2.65" fill="#e9b49b"/>
<rect x="291.05" y="227.35" width="2.96" height="2.65" fill="#edbfa8"/>
<rect x="293.71" y="227.35" width="2.96" height="2.65" fill="#eab59c"/>
<rect x="296.37" y="227.35" width="2.96" height="2.65" fill="#cc6c57"/>
<rect x="299.02" y="227.35" width="2.96" height="2.65" fill="#b3363c"/>
<rect x="301.68" y="227.35" width="2.96" height="2.65" fill="#df967b"/>
<rect x="304.34" y="227.35" width="2.96" height="2.65" fill="#ebb89f"/>
<rect x="205.60" y="229.70" width="2.99" height="2.65" fill="#f7e9e2"/>
<rect x="208.29" y="229.70" width="2.99" height="2.65" fill="#f0f4f6"/>
<rect x="210.97" y="229.70" width="2.99" height="2.65" fill="#f0f4f6"/>
<rect x="213.66" y="229.70" width="2.99" height="2.65" fill="#f8f2ee"/>
<rect x="216.34" y="229.70" width="2.99" height="2.65" fill="#e6ab92"/>
<rect x="219.03" y="229.70" width="2.99" height="2.65" fill="#f7e6dc"/>
<rect x="221.71" y="229.70" width="2.99" height="2.65" fill="#f8f4f1"/>
<rect x="224.40" y="229.70" width="2.99" height="2.65" fill="#f8f2ef"/>
<rect x="227.09" y="229.70" width="2.99" height="2.65" fill="#e9f0f5"/>
<rect x="229.77" y="229.70" width="2.99" height="2.65" fill="#eff4f6"/>
<rect x="232.46" y="229.70" width="2.99" height="2.65" fill="#f8f6f5"/>
<rect x="235.14" y="229.70" width="2.99" height="2.65" fill="#f7e5da"/>
<rect x="237.83" y="229.70" width="2.99" height="2.65" fill="#f8f2ee"/>
<rect x="240.51" y="229.70" width="2.99" height="2.65" fill="#edf3f6"/>
<rect x="243.20" y="229.70" width="2.96" height="2.65" fill="#f7e4d9"/>
<rect x="245.86" y="229.70" width="2.96" height="2.65" fill="#eff3f6"/>
<rect x="248.52" y="229.70" width="2.96" height="2.65" fill="#f8f6f4"/>
<rect x="251.17" y="229.70" width="2.96" height="2.65" fill="#e4eef4"/>
<rect x="253.83" y="229.70" width="2.96" height="2.65" fill="#d4e6f0"/>
<rect x="256.49" y="229.70" width="2.96" height="2.65" fill="#f1f4f6"/>
<rect x="259.15" y="229.70" width="2.96" height="2.65" fill="#f2d1c0"/>
<rect x="261.81" y="229.70" width="2.96" height="2.65" fill="#edf2f6"/>
<rect x="264.47" y="229.70" width="2.96" height="2.65" fill="#efc7b3"/>
<rect x="267.12" y="229.70" width="2.96" height="2.65" fill="#eff4f6"/>
<rect x="269.78" y="229.70" width="2.96" height="2.65" fill="#f4d8c9"/>
<rect x="272.44" y="229.70" width="2.96" height="2.65" fill="#f5d9cb"/>
<rect x="275.10" y="229.70" width="2.96" height="2.65" fill="#f7ebe5"/>
<rect x="277.76" y="229.70" width="2.96" height="2.65" fill="#f8f6f4"/>
<rect x="280.42" y="229.70" width="2.96" height="2.65" fill="#f5dacc"/>
<rect x="283.07" y="229.70" width="2.96" height="2.65" fill="#f8ede7"/>
<rect x="285.73" y="229.70" width="2.96" height="2.65" fill="#f8efe9"/>
<rect x="288.39" y="229.70" width="2.96" height="2.65" fill="#c7624f"/>
<rect x="291.05" y="229.70" width="2.96" height="2.65" fill="#ecbda5"/>
<rect x="293.71" y="229.70" width="2.96" height="2.65" fill="#e9b39a"/>
<rect x="296.37" y="229.70" width="2.96" height="2.65" fill="#f5dacb"/>
<rect x="299.02" y="229.70" width="2.96" height="2.65" fill="#cd6f59"/>
<rect x="301.68" y="229.70" width="2.96" height="2.65" fill="#b94241"/>
<rect x="304.34" y="229.70" width="2.96" height="2.65" fill="#e6aa90"/>
<rect x="205.60" y="232.05" width="2.99" height="2.65" fill="#f3f5f6"/>
<rect x="208.29" y="232.05" width="2.99" height="2.65" fill="#f8ece6"/>
<rect x="210.97" y="232.05" width="2.99" height="2.65" fill="#f3d4c4"/>
<rect x="213.66" y="232.05" width="2.99" height="2.65" fill="#f6dfd2"/>
<rect x="216.34" y="232.05" width="2.99" height="2.65" fill="#edbfa7"/>
<rect x="219.03" y="232.05" width="2.99" height="2.65" fill="#f4d6c6"/>
<rect x="221.71" y="232.05" width="2.99" height="2.65" fill="#f3d2c2"/>
<rect x="224.40" y="232.05" width="2.99" height="2.65" fill="#ebb9a0"/>
<rect x="227.09" y="232.05" width="2.99" height="2.65" fill="#f6f6f6"/>
<rect x="229.77" y="232.05" width="2.99" height="2.65" fill="#f8f7f6"/>
<rect x="232.46" y="232.05" width="2.99" height="2.65" fill="#f6dccf"/>
<rect x="235.14" y="232.05" width="2.99" height="2.65" fill="#f8f3f0"/>
<rect x="237.83" y="232.05" width="2.99" height="2.65" fill="#e3edf4"/>
<rect x="240.51" y="232.05" width="2.99" height="2.65" fill="#f7e6dd"/>
<rect x="243.20" y="232.05" width="2.96" height="2.65" fill="#edf2f6"/>
<rect x="245.86" y="232.05" width="2.96" height="2.65" fill="#f7e7de"/>
<rect x="248.52" y="232.05" width="2.96" height="2.65" fill="#e9f0f5"/>
<rect x="251.17" y="232.05" width="2.96" height="2.65" fill="#f1f4f6"/>
<rect x="253.83" y="232.05" width="2.96" height="2.65" fill="#f7e8e0"/>
<rect x="256.49" y="232.05" width="2.96" height="2.65" fill="#eab69d"/>
<rect x="259.15" y="232.05" width="2.96" height="2.65" fill="#f5dacc"/>
<rect x="261.81" y="232.05" width="2.96" height="2.65" fill="#f7f6f6"/>
<rect x="264.47" y="232.05" width="2.96" height="2.65" fill="#f4d7c8"/>
<rect x="267.12" y="232.05" width="2.96" height="2.65" fill="#f3d3c2"/>
<rect x="269.78" y="232.05" width="2.96" height="2.65" fill="#f7ebe4"/>
<rect x="272.44" y="232.05" width="2.96" height="2.65" fill="#e7ac93"/>
<rect x="275.10" y="232.05" width="2.96" height="2.65" fill="#f3d3c3"/>
<rect x="277.76" y="232.05" width="2.96" height="2.65" fill="#f7e1d4"/>
<rect x="280.42" y="232.05" width="2.96" height="2.65" fill="#eec4ae"/>
<rect x="283.07" y="232.05" width="2.96" height="2.65" fill="#f7e0d4"/>
<rect x="285.73" y="232.05" width="2.96" height="2.65" fill="#f5dcce"/>
<rect x="288.39" y="232.05" width="2.96" height="2.65" fill="#ecbda5"/>
<rect x="291.05" y="232.05" width="2.96" height="2.65" fill="#d7e7f1"/>
<rect x="293.71" y="232.05" width="2.96" height="2.65" fill="#f0c9b6"/>
<rect x="296.37" y="232.05" width="2.96" height="2.65" fill="#f1ccb9"/>
<rect x="299.02" y="232.05" width="2.96" height="2.65" fill="#c96753"/>
<rect x="301.68" y="232.05" width="2.96" height="2.65" fill="#e5a98f"/>
<rect x="304.34" y="232.05" width="2.96" height="2.65" fill="#e19e83"/>
<rect x="205.60" y="234.40" width="2.99" height="2.65" fill="#cde1ee"/>
<rect x="208.29" y="234.40" width="2.99" height="2.65" fill="#f0c9b5"/>
<rect x="210.97" y="234.40" width="2.99" height="2.65" fill="#f0cbb8"/>
<rect x="213.66" y="234.40" width="2.99" height="2.65" fill="#eec4af"/>
<rect x="216.34" y="234.40" width="2.99" height="2.65" fill="#f2d0bf"/>
<rect x="219.03" y="234.40" width="2.99" height="2.65" fill="#f7e0d4"/>
<rect x="221.71" y="234.40" width="2.99" height="2.65" fill="#f8f0eb"/>
<rect x="224.40" y="234.40" width="2.99" height="2.65" fill="#f7e9e1"/>
<rect x="227.09" y="234.40" width="2.99" height="2.65" fill="#f7e6dd"/>
<rect x="229.77" y="234.40" width="2.99" height="2.65" fill="#f4f5f6"/>
<rect x="232.46" y="234.40" width="2.99" height="2.65" fill="#e3edf3"/>
<rect x="235.14" y="234.40" width="2.99" height="2.65" fill="#deebf3"/>
<rect x="237.83" y="234.40" width="2.99" height="2.65" fill="#f5f6f6"/>
<rect x="240.51" y="234.40" width="2.99" height="2.65" fill="#e8f0f5"/>
<rect x="243.20" y="234.40" width="2.96" height="2.65" fill="#edbea7"/>
<rect x="245.86" y="234.40" width="2.96" height="2.65" fill="#f8f6f4"/>
<rect x="248.52" y="234.40" width="2.96" height="2.65" fill="#f8f7f6"/>
<rect x="251.17" y="234.40" width="2.96" height="2.65" fill="#e7eff4"/>
<rect x="253.83" y="234.40" width="2.96" height="2.65" fill="#f7eae3"/>
<rect x="256.49" y="234.40" width="2.96" height="2.65" fill="#f8f3f0"/>
<rect x="259.15" y="234.40" width="2.96" height="2.65" fill="#f8f7f6"/>
<rect x="261.81" y="234.40" width="2.96" height="2.65" fill="#f8ede7"/>
<rect x="264.47" y="234.40" width="2.96" height="2.65" fill="#f1ccb9"/>
<rect x="267.12" y="234.40" width="2.96" height="2.65" fill="#f7e2d7"/>
<rect x="269.78" y="234.40" width="2.96" height="2.65" fill="#f1f4f6"/>
<rect x="272.44" y="234.40" width="2.96" height="2.65" fill="#f8f7f6"/>
<rect x="275.10" y="234.40" width="2.96" height="2.65" fill="#f1ccb9"/>
<rect x="277.76" y="234.40" width="2.96" height="2.65" fill="#f1cdbb"/>
<rect x="280.42" y="234.40" width="2.96" height="2.65" fill="#f6f6f6"/>
<rect x="283.07" y="234.40" width="2.96" height="2.65" fill="#edc1aa"/>
<rect x="285.73" y="234.40" width="2.96" height="2.65" fill="#f7e8df"/>
<rect x="288.39" y="234.40" width="2.96" height="2.65" fill="#eab59c"/>
<rect x="291.05" y="234.40" width="2.96" height="2.65" fill="#f5d9ca"/>
<rect x="293.71" y="234.40" width="2.96" height="2.65" fill="#f4f6f6"/>
<rect x="296.37" y="234.40" width="2.96" height="2.65" fill="#e7eff4"/>
<rect x="299.02" y="234.40" width="2.96" height="2.65" fill="#bd4b45"/>
<rect x="301.68" y="234.40" width="2.96" height="2.65" fill="#ecbea6"/>
<rect x="304.34" y="234.40" width="2.96" height="2.65" fill="#d0755f"/>
<rect x="205.60" y="236.75" width="2.99" height="2.65" fill="#f8f5f2"/>
<rect x="208.29" y="236.75" width="2.99" height="2.65" fill="#f8f3f0"/>
<rect x="210.97" y="236.75" width="2.99" height="2.65" fill="#eef3f6"/>
<rect x="213.66" y="236.75" width="2.99" height="2.65" fill="#f4d8c9"/>
<rect x="216.34" y="236.75" width="2.99" height="2.65" fill="#f8f7f6"/>
<rect x="219.03" y="236.75" width="2.99" height="2.65" fill="#f0f4f6"/>
<rect x="221.71" y="236.75" width="2.99" height="2.65" fill="#f3f5f6"/>
<rect x="224.40" y="236.75" width="2.99" height="2.65" fill="#eef3f6"/>
<rect x="227.09" y="236.75" width="2.99" height="2.65" fill="#eff3f6"/>
<rect x="229.77" y="236.75" width="2.99" height="2.65" fill="#f7f7f6"/>
<rect x="232.46" y="236.75" width="2.99" height="2.65" fill="#f1f4f6"/>
<rect x="235.14" y="236.75" width="2.99" height="2.65" fill="#d0e3ef"/>
<rect x="237.83" y="236.75" width="2.99" height="2.65" fill="#e7eff4"/>
<rect x="240.51" y="236.75" width="2.99" height="2.65" fill="#f0f4f6"/>
<rect x="243.20" y="236.75" width="2.96" height="2.65" fill="#f5dacc"/>
<rect x="245.86" y="236.75" width="2.96" height="2.65" fill="#f5dacc"/>
<rect x="248.52" y="236.75" width="2.96" height="2.65" fill="#eab79e"/>
<rect x="251.17" y="236.75" width="2.96" height="2.65" fill="#f5f6f6"/>
<rect x="253.83" y="236.75" width="2.96" height="2.65" fill="#ecf2f6"/>
<rect x="256.49" y="236.75" width="2.96" height="2.65" fill="#f8f0eb"/>
<rect x="259.15" y="236.75" width="2.96" height="2.65" fill="#dfebf3"/>
<rect x="261.81" y="236.75" width="2.96" height="2.65" fill="#f7e5db"/>
<rect x="264.47" y="236.75" width="2.96" height="2.65" fill="#f2cfbd"/>
<rect x="267.12" y="236.75" width="2.96" height="2.65" fill="#f2cfbd"/>
<rect x="269.78" y="236.75" width="2.96" height="2.65" fill="#f2d1bf"/>
<rect x="272.44" y="236.75" width="2.96" height="2.65" fill="#e8b298"/>
<rect x="275.10" y="236.75" width="2.96" height="2.65" fill="#d07760"/>
<rect x="277.76" y="236.75" width="2.96" height="2.65" fill="#f3d5c5"/>
<rect x="280.42" y="236.75" width="2.96" height="2.65" fill="#efc7b3"/>
<rect x="283.07" y="236.75" width="2.96" height="2.65" fill="#efc6b1"/>
<rect x="285.73" y="236.75" width="2.96" height="2.65" fill="#ecbda6"/>
<rect x="288.39" y="236.75" width="2.96" height="2.65" fill="#efc6b1"/>
<rect x="291.05" y="236.75" width="2.96" height="2.65" fill="#f2d0bf"/>
<rect x="293.71" y="236.75" width="2.96" height="2.65" fill="#ecbca3"/>
<rect x="296.37" y="236.75" width="2.96" height="2.65" fill="#c0daeb"/>
<rect x="299.02" y="236.75" width="2.96" height="2.65" fill="#d47f68"/>
<rect x="301.68" y="236.75" width="2.96" height="2.65" fill="#e09b80"/>
<rect x="304.34" y="236.75" width="2.96" height="2.65" fill="#e4a78c"/>
<rect x="205.60" y="239.10" width="2.99" height="2.65" fill="#d5e6f0"/>
<rect x="208.29" y="239.10" width="2.99" height="2.65" fill="#ecf2f6"/>
<rect x="210.97" y="239.10" width="2.99" height="2.65" fill="#f8f1ed"/>
<rect x="213.66" y="239.10" width="2.99" height="2.65" fill="#f2d2c1"/>
<rect x="216.34" y="239.10" width="2.99" height="2.65" fill="#f3d4c4"/>
<rect x="219.03" y="239.10" width="2.99" height="2.65" fill="#f2f5f6"/>
<rect x="221.71" y="239.10" width="2.99" height="2.65" fill="#e5eff4"/>
<rect x="224.40" y="239.10" width="2.99" height="2.65" fill="#f7e9e0"/>
<rect x="227.09" y="239.10" width="2.99" height="2.65" fill="#dbe9f2"/>
<rect x="229.77" y="239.10" width="2.99" height="2.65" fill="#f8f6f4"/>
<rect x="232.46" y="239.10" width="2.99" height="2.65" fill="#bcd8ea"/>
<rect x="235.14" y="239.10" width="2.99" height="2.65" fill="#f8eee9"/>
<rect x="237.83" y="239.10" width="2.99" height="2.65" fill="#f2f5f6"/>
<rect x="240.51" y="239.10" width="2.99" height="2.65" fill="#f4f5f6"/>
<rect x="243.20" y="239.10" width="2.96" height="2.65" fill="#b84141"/>
<rect x="245.86" y="239.10" width="2.96" height="2.65" fill="#f8f6f4"/>
<rect x="248.52" y="239.10" width="2.96" height="2.65" fill="#f7e0d4"/>
<rect x="251.17" y="239.10" width="2.96" height="2.65" fill="#f8ede7"/>
<rect x="253.83" y="239.10" width="2.96" height="2.65" fill="#f7e5db"/>
<rect x="256.49" y="239.10" width="2.96" height="2.65" fill="#f5f6f6"/>
<rect x="259.15" y="239.10" width="2.96" height="2.65" fill="#eec2ac"/>
<rect x="261.81" y="239.10" width="2.96" height="2.65" fill="#f7f7f6"/>
<rect x="264.47" y="239.10" width="2.96" height="2.65" fill="#f3d2c1"/>
<rect x="267.12" y="239.10" width="2.96" height="2.65" fill="#f7e5db"/>
<rect x="269.78" y="239.10" width="2.96" height="2.65" fill="#f8ede8"/>
<rect x="272.44" y="239.10" width="2.96" height="2.65" fill="#f2d0bf"/>
<rect x="275.10" y="239.10" width="2.96" height="2.65" fill="#f7e0d4"/>
<rect x="277.76" y="239.10" width="2.96" height="2.65" fill="#efc6b2"/>
<rect x="280.42" y="239.10" width="2.96" height="2.65" fill="#e7af95"/>
<rect x="283.07" y="239.10" width="2.96" height="2.65" fill="#f8f5f3"/>
<rect x="285.73" y="239.10" width="2.96" height="2.65" fill="#d4e5f0"/>
<rect x="288.39" y="239.10" width="2.96" height="2.65" fill="#f1ccb9"/>
<rect x="291.05" y="239.10" width="2.96" height="2.65" fill="#eec2ac"/>
<rect x="293.71" y="239.10" width="2.96" height="2.65" fill="#f3d4c4"/>
<rect x="296.37" y="239.10" width="2.96" height="2.65" fill="#e8b298"/>
<rect x="299.02" y="239.10" width="2.96" height="2.65" fill="#c7624f"/>
<rect x="301.68" y="239.10" width="2.96" height="2.65" fill="#a81e32"/>
<rect x="304.34" y="239.10" width="2.96" height="2.65" fill="#e19b81"/>
<rect x="205.60" y="241.45" width="2.99" height="2.65" fill="#f2f5f6"/>
<rect x="208.29" y="241.45" width="2.99" height="2.65" fill="#ecf2f6"/>
<rect x="210.97" y="241.45" width="2.99" height="2.65" fill="#f8f6f5"/>
<rect x="213.66" y="241.45" width="2.99" height="2.65" fill="#f7ebe4"/>
<rect x="216.34" y="241.45" width="2.99" height="2.65" fill="#f7e4da"/>
<rect x="219.03" y="241.45" width="2.99" height="2.65" fill="#f8f0eb"/>
<rect x="221.71" y="241.45" width="2.99" height="2.65" fill="#f8f6f5"/>
<rect x="224.40" y="241.45" width="2.99" height="2.65" fill="#f7f7f6"/>
<rect x="227.09" y="241.45" width="2.99" height="2.65" fill="#f7dfd3"/>
<rect x="229.77" y="241.45" width="2.99" height="2.65" fill="#f0cab7"/>
<rect x="232.46" y="241.45" width="2.99" height="2.65" fill="#ebb9a0"/>
<rect x="235.14" y="241.45" width="2.99" height="2.65" fill="#f2f5f6"/>
<rect x="237.83" y="241.45" width="2.99" height="2.65" fill="#eaf1f5"/>
<rect x="240.51" y="241.45" width="2.99" height="2.65" fill="#f7f7f6"/>
<rect x="243.20" y="241.45" width="2.96" height="2.65" fill="#e9b39a"/>
<rect x="245.86" y="241.45" width="2.96" height="2.65" fill="#e6ac92"/>
<rect x="248.52" y="241.45" width="2.96" height="2.65" fill="#f7f7f6"/>
<rect x="251.17" y="241.45" width="2.96" height="2.65" fill="#e6eff4"/>
<rect x="253.83" y="241.45" width="2.96" height="2.65" fill="#f7e6dc"/>
<rect x="256.49" y="241.45" width="2.96" height="2.65" fill="#f1f4f6"/>
<rect x="259.15" y="241.45" width="2.96" height="2.65" fill="#eab69d"/>
<rect x="261.81" y="241.45" width="2.96" height="2.65" fill="#f6f6f6"/>
<rect x="264.47" y="241.45" width="2.96" height="2.65" fill="#edc1ab"/>
<rect x="267.12" y="241.45" width="2.96" height="2.65" fill="#c45b4c"/>
<rect x="269.78" y="241.45" width="2.96" height="2.65" fill="#e9b59b"/>
<rect x="272.44" y="241.45" width="2.96" height="2.65" fill="#f7e0d4"/>
<rect x="275.10" y="241.45" width="2.96" height="2.65" fill="#f8eee9"/>
<rect x="277.76" y="241.45" width="2.96" height="2.65" fill="#f3d3c2"/>
<rect x="280.42" y="241.45" width="2.96" height="2.65" fill="#f7e5db"/>
<rect x="283.07" y="241.45" width="2.96" height="2.65" fill="#ecbba3"/>
<rect x="285.73" y="241.45" width="2.96" height="2.65" fill="#f1cebb"/>
<rect x="288.39" y="241.45" width="2.96" height="2.65" fill="#f7e1d5"/>
<rect x="291.05" y="241.45" width="2.96" height="2.65" fill="#f3d3c2"/>
<rect x="293.71" y="241.45" width="2.96" height="2.65" fill="#f7e3d7"/>
<rect x="296.37" y="241.45" width="2.96" height="2.65" fill="#f7f6f6"/>
<rect x="299.02" y="241.45" width="2.96" height="2.65" fill="#cd6f59"/>
<rect x="301.68" y="241.45" width="2.96" height="2.65" fill="#ce725c"/>
<rect x="304.34" y="241.45" width="2.96" height="2.65" fill="#e9b399"/>
<rect x="205.60" y="243.80" width="2.99" height="2.65" fill="#eff4f6"/>
<rect x="208.29" y="243.80" width="2.99" height="2.65" fill="#dceaf2"/>
<rect x="210.97" y="243.80" width="2.99" height="2.65" fill="#f7e9e1"/>
<rect x="213.66" y="243.80" width="2.99" height="2.65" fill="#f8f7f6"/>
<rect x="216.34" y="243.80" width="2.99" height="2.65" fill="#f8ede7"/>
<rect x="219.03" y="243.80" width="2.99" height="2.65" fill="#f7e3d8"/>
<rect x="221.71" y="243.80" width="2.99" height="2.65" fill="#f7ece5"/>
<rect x="224.40" y="243.80" width="2.99" height="2.65" fill="#f0f4f6"/>
<rect x="227.09" y="243.80" width="2.99" height="2.65" fill="#f5d9cb"/>
<rect x="229.77" y="243.80" width="2.99" height="2.65" fill="#d9e8f1"/>
<rect x="232.46" y="243.80" width="2.99" height="2.65" fill="#e9f0f5"/>
<rect x="235.14" y="243.80" width="2.99" height="2.65" fill="#f8f0ec"/>
<rect x="237.83" y="243.80" width="2.99" height="2.65" fill="#d2e5f0"/>
<rect x="240.51" y="243.80" width="2.99" height="2.65" fill="#e6eff4"/>
<rect x="243.20" y="243.80" width="2.96" height="2.65" fill="#f7e8df"/>
<rect x="245.86" y="243.80" width="2.96" height="2.65" fill="#f4d8ca"/>
<rect x="248.52" y="243.80" width="2.96" height="2.65" fill="#e3edf4"/>
<rect x="251.17" y="243.80" width="2.96" height="2.65" fill="#f5dacc"/>
<rect x="253.83" y="243.80" width="2.96" height="2.65" fill="#f1cebc"/>
<rect x="256.49" y="243.80" width="2.96" height="2.65" fill="#f8f1ec"/>
<rect x="259.15" y="243.80" width="2.96" height="2.65" fill="#f0c8b4"/>
<rect x="261.81" y="243.80" width="2.96" height="2.65" fill="#ddeaf2"/>
<rect x="264.47" y="243.80" width="2.96" height="2.65" fill="#f8efe9"/>
<rect x="267.12" y="243.80" width="2.96" height="2.65" fill="#ebb89f"/>
<rect x="269.78" y="243.80" width="2.96" height="2.65" fill="#f7eae3"/>
<rect x="272.44" y="243.80" width="2.96" height="2.65" fill="#f7e3d8"/>
<rect x="275.10" y="243.80" width="2.96" height="2.65" fill="#f8f5f4"/>
<rect x="277.76" y="243.80" width="2.96" height="2.65" fill="#eec3ad"/>
<rect x="280.42" y="243.80" width="2.96" height="2.65" fill="#e2a186"/>
<rect x="283.07" y="243.80" width="2.96" height="2.65" fill="#e6aa90"/>
<rect x="285.73" y="243.80" width="2.96" height="2.65" fill="#cd705a"/>
<rect x="288.39" y="243.80" width="2.96" height="2.65" fill="#f1cdba"/>
<rect x="291.05" y="243.80" width="2.96" height="2.65" fill="#f6dccf"/>
<rect x="293.71" y="243.80" width="2.96" height="2.65" fill="#e8b298"/>
<rect x="296.37" y="243.80" width="2.96" height="2.65" fill="#b3373d"/>
<rect x="299.02" y="243.80" width="2.96" height="2.65" fill="#c3584b"/>
<rect x="301.68" y="243.80" width="2.96" height="2.65" fill="#c7614f"/>
<rect x="304.34" y="243.80" width="2.96" height="2.65" fill="#db8f75"/>
<rect x="205.60" y="246.15" width="2.99" height="2.65" fill="#3d87bd"/>
<rect x="208.29" y="246.15" width="2.99" height="2.65" fill="#d6e6f1"/>
<rect x="210.97" y="246.15" width="2.99" height="2.65" fill="#f6f6f6"/>
<rect x="213.66" y="246.15" width="2.99" height="2.65" fill="#f7e2d6"/>
<rect x="216.34" y="246.15" width="2.99" height="2.65" fill="#f7e9e1"/>
<rect x="219.03" y="246.15" width="2.99" height="2.65" fill="#eff3f6"/>
<rect x="221.71" y="246.15" width="2.99" height="2.65" fill="#d8e8f1"/>
<rect x="224.40" y="246.15" width="2.99" height="2.65" fill="#f6f6f6"/>
<rect x="227.09" y="246.15" width="2.99" height="2.65" fill="#eaf1f5"/>
<rect x="229.77" y="246.15" width="2.99" height="2.65" fill="#f7e2d7"/>
<rect x="232.46" y="246.15" width="2.99" height="2.65" fill="#f4d8ca"/>
<rect x="235.14" y="246.15" width="2.99" height="2.65" fill="#deebf2"/>
<rect x="237.83" y="246.15" width="2.99" height="2.65" fill="#e8f0f5"/>
<rect x="240.51" y="246.15" width="2.99" height="2.65" fill="#d8e7f1"/>
<rect x="243.20" y="246.15" width="2.96" height="2.65" fill="#e9b399"/>
<rect x="245.86" y="246.15" width="2.96" height="2.65" fill="#f7e7df"/>
<rect x="248.52" y="246.15" width="2.96" height="2.65" fill="#f7e7de"/>
<rect x="251.17" y="246.15" width="2.96" height="2.65" fill="#d9e8f1"/>
<rect x="253.83" y="246.15" width="2.96" height="2.65" fill="#f7e9e1"/>
<rect x="256.49" y="246.15" width="2.96" height="2.65" fill="#f8efeb"/>
<rect x="259.15" y="246.15" width="2.96" height="2.65" fill="#f1cdbb"/>
<rect x="261.81" y="246.15" width="2.96" height="2.65" fill="#f7e7de"/>
<rect x="264.47" y="246.15" width="2.96" height="2.65" fill="#f7e1d6"/>
<rect x="267.12" y="246.15" width="2.96" height="2.65" fill="#f7e1d4"/>
<rect x="269.78" y="246.15" width="2.96" height="2.65" fill="#f5d9cb"/>
<rect x="272.44" y="246.15" width="2.96" height="2.65" fill="#e9b49b"/>
<rect x="275.10" y="246.15" width="2.96" height="2.65" fill="#f7e0d3"/>
<rect x="277.76" y="246.15" width="2.96" height="2.65" fill="#f8ede6"/>
<rect x="280.42" y="246.15" width="2.96" height="2.65" fill="#e8af96"/>
<rect x="283.07" y="246.15" width="2.96" height="2.65" fill="#edc0aa"/>
<rect x="285.73" y="246.15" width="2.96" height="2.65" fill="#ebb89f"/>
<rect x="288.39" y="246.15" width="2.96" height="2.65" fill="#f7e1d5"/>
<rect x="291.05" y="246.15" width="2.96" height="2.65" fill="#e8b197"/>
<rect x="293.71" y="246.15" width="2.96" height="2.65" fill="#efc7b3"/>
<rect x="296.37" y="246.15" width="2.96" height="2.65" fill="#f7e5da"/>
<rect x="299.02" y="246.15" width="2.96" height="2.65" fill="#e9b49b"/>
<rect x="301.68" y="246.15" width="2.96" height="2.65" fill="#df977c"/>
<rect x="304.34" y="246.15" width="2.96" height="2.65" fill="#ebbba2"/>
<rect x="205.60" y="248.50" width="2.99" height="2.65" fill="#f8f3ef"/>
<rect x="208.29" y="248.50" width="2.99" height="2.65" fill="#f8f2ef"/>
<rect x="210.97" y="248.50" width="2.99" height="2.65" fill="#e4eef4"/>
<rect x="213.66" y="248.50" width="2.99" height="2.65" fill="#f6f6f6"/>
<rect x="216.34" y="248.50" width="2.99" height="2.65" fill="#f0cab6"/>
<rect x="219.03" y="248.50" width="2.99" height="2.65" fill="#d9e8f1"/>
<rect x="221.71" y="248.50" width="2.99" height="2.65" fill="#b2d2e7"/>
<rect x="224.40" y="248.50" width="2.99" height="2.65" fill="#eff3f6"/>
<rect x="227.09" y="248.50" width="2.99" height="2.65" fill="#f6dfd2"/>
<rect x="229.77" y="248.50" width="2.99" height="2.65" fill="#d4e5f0"/>
<rect x="232.46" y="248.50" width="2.99" height="2.65" fill="#f2f5f6"/>
<rect x="235.14" y="248.50" width="2.99" height="2.65" fill="#f5f6f6"/>
<rect x="237.83" y="248.50" width="2.99" height="2.65" fill="#d9e8f1"/>
<rect x="240.51" y="248.50" width="2.99" height="2.65" fill="#c4ddec"/>
<rect x="243.20" y="248.50" width="2.96" height="2.65" fill="#f4d7c8"/>
<rect x="245.86" y="248.50" width="2.96" height="2.65" fill="#f5dacc"/>
<rect x="248.52" y="248.50" width="2.96" height="2.65" fill="#f1f4f6"/>
<rect x="251.17" y="248.50" width="2.96" height="2.65" fill="#f7e9e0"/>
<rect x="253.83" y="248.50" width="2.96" height="2.65" fill="#f8f4f2"/>
<rect x="256.49" y="248.50" width="2.96" height="2.65" fill="#f7ece5"/>
<rect x="259.15" y="248.50" width="2.96" height="2.65" fill="#f8f0ec"/>
<rect x="261.81" y="248.50" width="2.96" height="2.65" fill="#f7ece5"/>
<rect x="264.47" y="248.50" width="2.96" height="2.65" fill="#e7ae94"/>
<rect x="267.12" y="248.50" width="2.96" height="2.65" fill="#f6ded1"/>
<rect x="269.78" y="248.50" width="2.96" height="2.65" fill="#f8ece6"/>
<rect x="272.44" y="248.50" width="2.96" height="2.65" fill="#e5a78d"/>
<rect x="275.10" y="248.50" width="2.96" height="2.65" fill="#f7e2d7"/>
<rect x="277.76" y="248.50" width="2.96" height="2.65" fill="#e09b80"/>
<rect x="280.42" y="248.50" width="2.96" height="2.65" fill="#f0cab7"/>
<rect x="283.07" y="248.50" width="2.96" height="2.65" fill="#da8c72"/>
<rect x="285.73" y="248.50" width="2.96" height="2.65" fill="#f7e0d4"/>
<rect x="288.39" y="248.50" width="2.96" height="2.65" fill="#f7ece5"/>
<rect x="291.05" y="248.50" width="2.96" height="2.65" fill="#f0c9b6"/>
<rect x="293.71" y="248.50" width="2.96" height="2.65" fill="#f3d3c2"/>
<rect x="296.37" y="248.50" width="2.96" height="2.65" fill="#edbea7"/>
<rect x="299.02" y="248.50" width="2.96" height="2.65" fill="#efc7b2"/>
<rect x="301.68" y="248.50" width="2.96" height="2.65" fill="#e4a48a"/>
<rect x="304.34" y="248.50" width="2.96" height="2.65" fill="#d7866d"/>
<rect x="205.60" y="250.85" width="2.99" height="2.65" fill="#d9e8f1"/>
<rect x="208.29" y="250.85" width="2.99" height="2.65" fill="#e1ecf3"/>
<rect x="210.97" y="250.85" width="2.99" height="2.65" fill="#f4f5f6"/>
<rect x="213.66" y="250.85" width="2.99" height="2.65" fill="#e6eff4"/>
<rect x="216.34" y="250.85" width="2.99" height="2.65" fill="#eec3ad"/>
<rect x="219.03" y="250.85" width="2.99" height="2.65" fill="#e9f1f5"/>
<rect x="221.71" y="250.85" width="2.99" height="2.65" fill="#f2f5f6"/>
<rect x="224.40" y="250.85" width="2.99" height="2.65" fill="#ebf2f5"/>
<rect x="227.09" y="250.85" width="2.99" height="2.65" fill="#f3d5c5"/>
<rect x="229.77" y="250.85" width="2.99" height="2.65" fill="#f6f6f6"/>
<rect x="232.46" y="250.85" width="2.99" height="2.65" fill="#f1f4f6"/>
<rect x="235.14" y="250.85" width="2.99" height="2.65" fill="#c1dbeb"/>
<rect x="237.83" y="250.85" width="2.99" height="2.65" fill="#edf3f6"/>
<rect x="240.51" y="250.85" width="2.99" height="2.65" fill="#f2f4f6"/>
<rect x="243.20" y="250.85" width="2.96" height="2.65" fill="#e3a187"/>
<rect x="245.86" y="250.85" width="2.96" height="2.65" fill="#f8f0eb"/>
<rect x="248.52" y="250.85" width="2.96" height="2.65" fill="#eef3f6"/>
<rect x="251.17" y="250.85" width="2.96" height="2.65" fill="#f0f4f6"/>
<rect x="253.83" y="250.85" width="2.96" height="2.65" fill="#f7e7dd"/>
<rect x="256.49" y="250.85" width="2.96" height="2.65" fill="#f8f1ed"/>
<rect x="259.15" y="250.85" width="2.96" height="2.65" fill="#eec2ac"/>
<rect x="261.81" y="250.85" width="2.96" height="2.65" fill="#e3a287"/>
<rect x="264.47" y="250.85" width="2.96" height="2.65" fill="#f2d1c0"/>
<rect x="267.12" y="250.85" width="2.96" height="2.65" fill="#edbfa7"/>
<rect x="269.78" y="250.85" width="2.96" height="2.65" fill="#f1cebc"/>
<rect x="272.44" y="250.85" width="2.96" height="2.65" fill="#f7eae2"/>
<rect x="275.10" y="250.85" width="2.96" height="2.65" fill="#f4d8c9"/>
<rect x="277.76" y="250.85" width="2.96" height="2.65" fill="#ebb89f"/>
<rect x="280.42" y="250.85" width="2.96" height="2.65" fill="#eec3ae"/>
<rect x="283.07" y="250.85" width="2.96" height="2.65" fill="#edc0a9"/>
<rect x="285.73" y="250.85" width="2.96" height="2.65" fill="#f1cebb"/>
<rect x="288.39" y="250.85" width="2.96" height="2.65" fill="#eec4af"/>
<rect x="291.05" y="250.85" width="2.96" height="2.65" fill="#efc6b1"/>
<rect x="293.71" y="250.85" width="2.96" height="2.65" fill="#f7e0d3"/>
<rect x="296.37" y="250.85" width="2.96" height="2.65" fill="#f5dbcd"/>
<rect x="299.02" y="250.85" width="2.96" height="2.65" fill="#e3a288"/>
<rect x="301.68" y="250.85" width="2.96" height="2.65" fill="#eab69d"/>
<rect x="304.34" y="250.85" width="2.96" height="2.65" fill="#e7af95"/>
<rect x="205.60" y="253.20" width="2.99" height="2.65" fill="#a4cae3"/>
<rect x="208.29" y="253.20" width="2.99" height="2.65" fill="#edc1aa"/>
<rect x="210.97" y="253.20" width="2.99" height="2.65" fill="#f7ece5"/>
<rect x="213.66" y="253.20" width="2.99" height="2.65" fill="#f7e1d6"/>
<rect x="216.34" y="253.20" width="2.99" height="2.65" fill="#f0f4f6"/>
<rect x="219.03" y="253.20" width="2.99" height="2.65" fill="#f4f6f6"/>
<rect x="221.71" y="253.20" width="2.99" height="2.65" fill="#f7e9e1"/>
<rect x="224.40" y="253.20" width="2.99" height="2.65" fill="#f3f5f6"/>
<rect x="227.09" y="253.20" width="2.99" height="2.65" fill="#f4d7c8"/>
<rect x="229.77" y="253.20" width="2.99" height="2.65" fill="#f3f5f6"/>
<rect x="232.46" y="253.20" width="2.99" height="2.65" fill="#f5dbcd"/>
<rect x="235.14" y="253.20" width="2.99" height="2.65" fill="#f4f5f6"/>
<rect x="237.83" y="253.20" width="2.99" height="2.65" fill="#f7eae3"/>
<rect x="240.51" y="253.20" width="2.99" height="2.65" fill="#4f98c8"/>
<rect x="243.20" y="253.20" width="2.96" height="2.65" fill="#e3a389"/>
<rect x="245.86" y="253.20" width="2.96" height="2.65" fill="#f7e3d7"/>
<rect x="248.52" y="253.20" width="2.96" height="2.65" fill="#f7eae2"/>
<rect x="251.17" y="253.20" width="2.96" height="2.65" fill="#f4d8ca"/>
<rect x="253.83" y="253.20" width="2.96" height="2.65" fill="#f7e3d9"/>
<rect x="256.49" y="253.20" width="2.96" height="2.65" fill="#f7ebe4"/>
<rect x="259.15" y="253.20" width="2.96" height="2.65" fill="#f7e4d9"/>
<rect x="261.81" y="253.20" width="2.96" height="2.65" fill="#d8e7f1"/>
<rect x="264.47" y="253.20" width="2.96" height="2.65" fill="#f7e5db"/>
<rect x="267.12" y="253.20" width="2.96" height="2.65" fill="#f7e8e0"/>
<rect x="269.78" y="253.20" width="2.96" height="2.65" fill="#e2a085"/>
<rect x="272.44" y="253.20" width="2.96" height="2.65" fill="#f1cebb"/>
<rect x="275.10" y="253.20" width="2.96" height="2.65" fill="#f5dacc"/>
<rect x="277.76" y="253.20" width="2.96" height="2.65" fill="#ebbaa2"/>
<rect x="280.42" y="253.20" width="2.96" height="2.65" fill="#f1ccb9"/>
<rect x="283.07" y="253.20" width="2.96" height="2.65" fill="#eab69d"/>
<rect x="285.73" y="253.20" width="2.96" height="2.65" fill="#f2d0be"/>
<rect x="288.39" y="253.20" width="2.96" height="2.65" fill="#eab59c"/>
<rect x="291.05" y="253.20" width="2.96" height="2.65" fill="#e9b399"/>
<rect x="293.71" y="253.20" width="2.96" height="2.65" fill="#c7614f"/>
<rect x="296.37" y="253.20" width="2.96" height="2.65" fill="#f7eae3"/>
<rect x="299.02" y="253.20" width="2.96" height="2.65" fill="#da8c72"/>
<rect x="301.68" y="253.20" width="2.96" height="2.65" fill="#e7ae95"/>
<rect x="304.34" y="253.20" width="2.96" height="2.65" fill="#e7ad93"/>
<rect x="205.60" y="255.55" width="2.99" height="2.65" fill="#cde2ef"/>
<rect x="208.29" y="255.55" width="2.99" height="2.65" fill="#f8f7f5"/>
<rect x="210.97" y="255.55" width="2.99" height="2.65" fill="#e8f0f5"/>
<rect x="213.66" y="255.55" width="2.99" height="2.65" fill="#f8eee9"/>
<rect x="216.34" y="255.55" width="2.99" height="2.65" fill="#e8f0f5"/>
<rect x="219.03" y="255.55" width="2.99" height="2.65" fill="#f7ece5"/>
<rect x="221.71" y="255.55" width="2.99" height="2.65" fill="#ecf2f6"/>
<rect x="224.40" y="255.55" width="2.99" height="2.65" fill="#d0e3ef"/>
<rect x="227.09" y="255.55" width="2.99" height="2.65" fill="#f7e3d8"/>
<rect x="229.77" y="255.55" width="2.99" height="2.65" fill="#f3d2c2"/>
<rect x="232.46" y="255.55" width="2.99" height="2.65" fill="#f8f5f4"/>
<rect x="235.14" y="255.55" width="2.99" height="2.65" fill="#d4e6f0"/>
<rect x="237.83" y="255.55" width="2.99" height="2.65" fill="#f2f5f6"/>
<rect x="240.51" y="255.55" width="2.99" height="2.65" fill="#e5eef4"/>
<rect x="243.20" y="255.55" width="2.96" height="2.65" fill="#e9b299"/>
<rect x="245.86" y="255.55" width="2.96" height="2.65" fill="#ecf2f6"/>
<rect x="248.52" y="255.55" width="2.96" height="2.65" fill="#f7eae2"/>
<rect x="251.17" y="255.55" width="2.96" height="2.65" fill="#f5dacc"/>
<rect x="253.83" y="255.55" width="2.96" height="2.65" fill="#f4d6c6"/>
<rect x="256.49" y="255.55" width="2.96" height="2.65" fill="#f8f4f2"/>
<rect x="259.15" y="255.55" width="2.96" height="2.65" fill="#eec3ad"/>
<rect x="261.81" y="255.55" width="2.96" height="2.65" fill="#f0f4f6"/>
<rect x="264.47" y="255.55" width="2.96" height="2.65" fill="#f4d7c8"/>
<rect x="267.12" y="255.55" width="2.96" height="2.65" fill="#ebb89f"/>
<rect x="269.78" y="255.55" width="2.96" height="2.65" fill="#f0c8b4"/>
<rect x="272.44" y="255.55" width="2.96" height="2.65" fill="#e8b096"/>
<rect x="275.10" y="255.55" width="2.96" height="2.65" fill="#f7e5db"/>
<rect x="277.76" y="255.55" width="2.96" height="2.65" fill="#eec3ad"/>
<rect x="280.42" y="255.55" width="2.96" height="2.65" fill="#f8f3f0"/>
<rect x="283.07" y="255.55" width="2.96" height="2.65" fill="#eab69d"/>
<rect x="285.73" y="255.55" width="2.96" height="2.65" fill="#f1cebc"/>
<rect x="288.39" y="255.55" width="2.96" height="2.65" fill="#ecbba3"/>
<rect x="291.05" y="255.55" width="2.96" height="2.65" fill="#e9b49a"/>
<rect x="293.71" y="255.55" width="2.96" height="2.65" fill="#edc1aa"/>
<rect x="296.37" y="255.55" width="2.96" height="2.65" fill="#f8f7f6"/>
<rect x="299.02" y="255.55" width="2.96" height="2.65" fill="#d27b64"/>
<rect x="301.68" y="255.55" width="2.96" height="2.65" fill="#df987d"/>
<rect x="304.34" y="255.55" width="2.96" height="2.65" fill="#dc9177"/>
<rect x="205.60" y="257.90" width="2.99" height="2.65" fill="#ebf1f5"/>
<rect x="208.29" y="257.90" width="2.99" height="2.65" fill="#e0ecf3"/>
<rect x="210.97" y="257.90" width="2.99" height="2.65" fill="#f7f7f6"/>
<rect x="213.66" y="257.90" width="2.99" height="2.65" fill="#ecbba3"/>
<rect x="216.34" y="257.90" width="2.99" height="2.65" fill="#f8ede7"/>
<rect x="219.03" y="257.90" width="2.99" height="2.65" fill="#f2cfbe"/>
<rect x="221.71" y="257.90" width="2.99" height="2.65" fill="#ecf2f6"/>
<rect x="224.40" y="257.90" width="2.99" height="2.65" fill="#f7e5da"/>
<rect x="227.09" y="257.90" width="2.99" height="2.65" fill="#f8eee8"/>
<rect x="229.77" y="257.90" width="2.99" height="2.65" fill="#f5dbce"/>
<rect x="232.46" y="257.90" width="2.99" height="2.65" fill="#eaf1f5"/>
<rect x="235.14" y="257.90" width="2.99" height="2.65" fill="#f4f6f6"/>
<rect x="237.83" y="257.90" width="2.99" height="2.65" fill="#dfebf3"/>
<rect x="240.51" y="257.90" width="2.99" height="2.65" fill="#eef3f6"/>
<rect x="243.20" y="257.90" width="2.96" height="2.65" fill="#b84141"/>
<rect x="245.86" y="257.90" width="2.96" height="2.65" fill="#f1f4f6"/>
<rect x="248.52" y="257.90" width="2.96" height="2.65" fill="#f8f7f6"/>
<rect x="251.17" y="257.90" width="2.96" height="2.65" fill="#f1f4f6"/>
<rect x="253.83" y="257.90" width="2.96" height="2.65" fill="#f4d7c7"/>
<rect x="256.49" y="257.90" width="2.96" height="2.65" fill="#f7eae3"/>
<rect x="259.15" y="257.90" width="2.96" height="2.65" fill="#f4d6c7"/>
<rect x="261.81" y="257.90" width="2.96" height="2.65" fill="#f6dfd3"/>
<rect x="264.47" y="257.90" width="2.96" height="2.65" fill="#e5a98f"/>
<rect x="267.12" y="257.90" width="2.96" height="2.65" fill="#edbfa8"/>
<rect x="269.78" y="257.90" width="2.96" height="2.65" fill="#ebbaa2"/>
<rect x="272.44" y="257.90" width="2.96" height="2.65" fill="#f5d9cb"/>
<rect x="275.10" y="257.90" width="2.96" height="2.65" fill="#efc8b3"/>
<rect x="277.76" y="257.90" width="2.96" height="2.65" fill="#ecbca4"/>
<rect x="280.42" y="257.90" width="2.96" height="2.65" fill="#e6ac92"/>
<rect x="283.07" y="257.90" width="2.96" height="2.65" fill="#eab69c"/>
<rect x="285.73" y="257.90" width="2.96" height="2.65" fill="#f1cdbb"/>
<rect x="288.39" y="257.90" width="2.96" height="2.65" fill="#e8af96"/>
<rect x="291.05" y="257.90" width="2.96" height="2.65" fill="#eab69c"/>
<rect x="293.71" y="257.90" width="2.96" height="2.65" fill="#ecbca4"/>
<rect x="296.37" y="257.90" width="2.96" height="2.65" fill="#efc6b2"/>
<rect x="299.02" y="257.90" width="2.96" height="2.65" fill="#e3a389"/>
<rect x="301.68" y="257.90" width="2.96" height="2.65" fill="#de957a"/>
<rect x="304.34" y="257.90" width="2.96" height="2.65" fill="#e19c81"/>
<rect x="205.60" y="260.25" width="2.99" height="2.65" fill="#ebf1f5"/>
<rect x="208.29" y="260.25" width="2.99" height="2.65" fill="#dbe9f2"/>
<rect x="210.97" y="260.25" width="2.99" height="2.65" fill="#e1ecf3"/>
<rect x="213.66" y="260.25" width="2.99" height="2.65" fill="#f5dbcd"/>
<rect x="216.34" y="260.25" width="2.99" height="2.65" fill="#f1f4f6"/>
<rect x="219.03" y="260.25" width="2.99" height="2.65" fill="#eaf1f5"/>
<rect x="221.71" y="260.25" width="2.99" height="2.65" fill="#f8eee9"/>
<rect x="224.40" y="260.25" width="2.99" height="2.65" fill="#f7e2d6"/>
<rect x="227.09" y="260.25" width="2.99" height="2.65" fill="#efc5b0"/>
<rect x="229.77" y="260.25" width="2.99" height="2.65" fill="#f8f1ed"/>
<rect x="232.46" y="260.25" width="2.99" height="2.65" fill="#f4f5f6"/>
<rect x="235.14" y="260.25" width="2.99" height="2.65" fill="#f7eae3"/>
<rect x="237.83" y="260.25" width="2.99" height="2.65" fill="#ebf1f5"/>
<rect x="240.51" y="260.25" width="2.99" height="2.65" fill="#f3f5f6"/>
<rect x="243.20" y="260.25" width="2.96" height="2.65" fill="#eab69d"/>
<rect x="245.86" y="260.25" width="2.96" height="2.65" fill="#f3d3c3"/>
<rect x="248.52" y="260.25" width="2.96" height="2.65" fill="#f2f5f6"/>
<rect x="251.17" y="260.25" width="2.96" height="2.65" fill="#f7e0d4"/>
<rect x="253.83" y="260.25" width="2.96" height="2.65" fill="#f7e4d9"/>
<rect x="256.49" y="260.25" width="2.96" height="2.65" fill="#f6dfd3"/>
<rect x="259.15" y="260.25" width="2.96" height="2.65" fill="#f3d4c3"/>
<rect x="261.81" y="260.25" width="2.96" height="2.65" fill="#f8f4f1"/>
<rect x="264.47" y="260.25" width="2.96" height="2.65" fill="#efc5b1"/>
<rect x="267.12" y="260.25" width="2.96" height="2.65" fill="#efc5b0"/>
<rect x="269.78" y="260.25" width="2.96" height="2.65" fill="#eec3ae"/>
<rect x="272.44" y="260.25" width="2.96" height="2.65" fill="#efc5b0"/>
<rect x="275.10" y="260.25" width="2.96" height="2.65" fill="#f0c9b5"/>
<rect x="277.76" y="260.25" width="2.96" height="2.65" fill="#f3d4c3"/>
<rect x="280.42" y="260.25" width="2.96" height="2.65" fill="#f4d7c8"/>
<rect x="283.07" y="260.25" width="2.96" height="2.65" fill="#e9b49a"/>
<rect x="285.73" y="260.25" width="2.96" height="2.65" fill="#edc1ab"/>
<rect x="288.39" y="260.25" width="2.96" height="2.65" fill="#efc5b0"/>
<rect x="291.05" y="260.25" width="2.96" height="2.65" fill="#efc7b2"/>
<rect x="293.71" y="260.25" width="2.96" height="2.65" fill="#e7ad93"/>
<rect x="296.37" y="260.25" width="2.96" height="2.65" fill="#edbfa8"/>
<rect x="299.02" y="260.25" width="2.96" height="2.65" fill="#e0997e"/>
<rect x="301.68" y="260.25" width="2.96" height="2.65" fill="#e19d83"/>
<rect x="304.34" y="260.25" width="2.96" height="2.65" fill="#da8c73"/>
<rect x="205.60" y="262.60" width="2.99" height="2.65" fill="#bcd8ea"/>
<rect x="208.29" y="262.60" width="2.99" height="2.65" fill="#ebf2f5"/>
<rect x="210.97" y="262.60" width="2.99" height="2.65" fill="#eef3f6"/>
<rect x="213.66" y="262.60" width="2.99" height="2.65" fill="#f1f4f6"/>
<rect x="216.34" y="262.60" width="2.99" height="2.65" fill="#f7eae3"/>
<rect x="219.03" y="262.60" width="2.99" height="2.65" fill="#eff3f6"/>
<rect x="221.71" y="262.60" width="2.99" height="2.65" fill="#f6f6f6"/>
<rect x="224.40" y="262.60" width="2.99" height="2.65" fill="#f3f5f6"/>
<rect x="227.09" y="262.60" width="2.99" height="2.65" fill="#f8f0eb"/>
<rect x="229.77" y="262.60" width="2.99" height="2.65" fill="#edf2f6"/>
<rect x="232.46" y="262.60" width="2.99" height="2.65" fill="#f7e2d6"/>
<rect x="235.14" y="262.60" width="2.99" height="2.65" fill="#f7eae2"/>
<rect x="237.83" y="262.60" width="2.99" height="2.65" fill="#f8f4f1"/>
<rect x="240.51" y="262.60" width="2.99" height="2.65" fill="#c6deed"/>
<rect x="243.20" y="262.60" width="2.96" height="2.65" fill="#dd9278"/>
<rect x="245.86" y="262.60" width="2.96" height="2.65" fill="#f7f7f6"/>
<rect x="248.52" y="262.60" width="2.96" height="2.65" fill="#f7ebe4"/>
<rect x="251.17" y="262.60" width="2.96" height="2.65" fill="#f7e1d6"/>
<rect x="253.83" y="262.60" width="2.96" height="2.65" fill="#f1ccb9"/>
<rect x="256.49" y="262.60" width="2.96" height="2.65" fill="#f7e1d5"/>
<rect x="259.15" y="262.60" width="2.96" height="2.65" fill="#f7e9e1"/>
<rect x="261.81" y="262.60" width="2.96" height="2.65" fill="#f6dfd2"/>
<rect x="264.47" y="262.60" width="2.96" height="2.65" fill="#eab79d"/>
<rect x="267.12" y="262.60" width="2.96" height="2.65" fill="#f7e2d6"/>
<rect x="269.78" y="262.60" width="2.96" height="2.65" fill="#f3d4c4"/>
<rect x="272.44" y="262.60" width="2.96" height="2.65" fill="#f7e2d7"/>
<rect x="275.10" y="262.60" width="2.96" height="2.65" fill="#f4d7c7"/>
<rect x="277.76" y="262.60" width="2.96" height="2.65" fill="#efc5b0"/>
<rect x="280.42" y="262.60" width="2.96" height="2.65" fill="#eec3ad"/>
<rect x="283.07" y="262.60" width="2.96" height="2.65" fill="#edc0aa"/>
<rect x="285.73" y="262.60" width="2.96" height="2.65" fill="#e9b299"/>
<rect x="288.39" y="262.60" width="2.96" height="2.65" fill="#e6ab91"/>
<rect x="291.05" y="262.60" width="2.96" height="2.65" fill="#edbfa8"/>
<rect x="293.71" y="262.60" width="2.96" height="2.65" fill="#e3a389"/>
<rect x="296.37" y="262.60" width="2.96" height="2.65" fill="#efc7b3"/>
<rect x="299.02" y="262.60" width="2.96" height="2.65" fill="#de947a"/>
<rect x="301.68" y="262.60" width="2.96" height="2.65" fill="#d7856d"/>
<rect x="304.34" y="262.60" width="2.96" height="2.65" fill="#db8f75"/>
<rect x="205.60" y="264.95" width="2.99" height="2.65" fill="#99c3e0"/>
<rect x="208.29" y="264.95" width="2.99" height="2.65" fill="#deebf2"/>
<rect x="210.97" y="264.95" width="2.99" height="2.65" fill="#f2f5f6"/>
<rect x="213.66" y="264.95" width="2.99" height="2.65" fill="#f5dacb"/>
<rect x="216.34" y="264.95" width="2.99" height="2.65" fill="#f8f5f3"/>
<rect x="219.03" y="264.95" width="2.99" height="2.65" fill="#d1e4ef"/>
<rect x="221.71" y="264.95" width="2.99" height="2.65" fill="#f1f4f6"/>
<rect x="224.40" y="264.95" width="2.99" height="2.65" fill="#dfebf3"/>
<rect x="227.09" y="264.95" width="2.99" height="2.65" fill="#f7e9e0"/>
<rect x="229.77" y="264.95" width="2.99" height="2.65" fill="#f7f7f6"/>
<rect x="232.46" y="264.95" width="2.99" height="2.65" fill="#c6dded"/>
<rect x="235.14" y="264.95" width="2.99" height="2.65" fill="#f1f4f6"/>
<rect x="237.83" y="264.95" width="2.99" height="2.65" fill="#eff4f6"/>
<rect x="240.51" y="264.95" width="2.99" height="2.65" fill="#f8f7f5"/>
<rect x="243.20" y="264.95" width="2.96" height="2.65" fill="#e09a7f"/>
<rect x="245.86" y="264.95" width="2.96" height="2.65" fill="#f2cfbe"/>
<rect x="248.52" y="264.95" width="2.96" height="2.65" fill="#f2f5f6"/>
<rect x="251.17" y="264.95" width="2.96" height="2.65" fill="#f6dfd3"/>
<rect x="253.83" y="264.95" width="2.96" height="2.65" fill="#f7e0d3"/>
<rect x="256.49" y="264.95" width="2.96" height="2.65" fill="#f8f1ed"/>
<rect x="259.15" y="264.95" width="2.96" height="2.65" fill="#f4d6c6"/>
<rect x="261.81" y="264.95" width="2.96" height="2.65" fill="#f8f7f5"/>
<rect x="264.47" y="264.95" width="2.96" height="2.65" fill="#ecbca4"/>
<rect x="267.12" y="264.95" width="2.96" height="2.65" fill="#eab69d"/>
<rect x="269.78" y="264.95" width="2.96" height="2.65" fill="#efc5b0"/>
<rect x="272.44" y="264.95" width="2.96" height="2.65" fill="#edc0a9"/>
<rect x="275.10" y="264.95" width="2.96" height="2.65" fill="#eec5af"/>
<rect x="277.76" y="264.95" width="2.96" height="2.65" fill="#f0c9b5"/>
<rect x="280.42" y="264.95" width="2.96" height="2.65" fill="#f2d2c1"/>
<rect x="283.07" y="264.95" width="2.96" height="2.65" fill="#e9b299"/>
<rect x="285.73" y="264.95" width="2.96" height="2.65" fill="#f0c9b6"/>
<rect x="288.39" y="264.95" width="2.96" height="2.65" fill="#edbfa8"/>
<rect x="291.05" y="264.95" width="2.96" height="2.65" fill="#eec4af"/>
<rect x="293.71" y="264.95" width="2.96" height="2.65" fill="#e3a288"/>
<rect x="296.37" y="264.95" width="2.96" height="2.65" fill="#f1cebc"/>
<rect x="299.02" y="264.95" width="2.96" height="2.65" fill="#e19d82"/>
<rect x="301.68" y="264.95" width="2.96" height="2.65" fill="#c65f4e"/>
<rect x="304.34" y="264.95" width="2.96" height="2.65" fill="#d0765f"/>
<rect x="205.60" y="267.30" width="2.99" height="2.65" fill="#c6ddec"/>
<rect x="208.29" y="267.30" width="2.99" height="2.65" fill="#c0daeb"/>
<rect x="210.97" y="267.30" width="2.99" height="2.65" fill="#bfdaeb"/>
<rect x="213.66" y="267.30" width="2.99" height="2.65" fill="#f6dfd2"/>
<rect x="216.34" y="267.30" width="2.99" height="2.65" fill="#f2f4f6"/>
<rect x="219.03" y="267.30" width="2.99" height="2.65" fill="#f0f4f6"/>
<rect x="221.71" y="267.30" width="2.99" height="2.65" fill="#f5f6f6"/>
<rect x="224.40" y="267.30" width="2.99" height="2.65" fill="#f8ede8"/>
<rect x="227.09" y="267.30" width="2.99" height="2.65" fill="#f0f4f6"/>
<rect x="229.77" y="267.30" width="2.99" height="2.65" fill="#eff3f6"/>
<rect x="232.46" y="267.30" width="2.99" height="2.65" fill="#f7e2d7"/>
<rect x="235.14" y="267.30" width="2.99" height="2.65" fill="#f2f5f6"/>
<rect x="237.83" y="267.30" width="2.99" height="2.65" fill="#cae0ee"/>
<rect x="240.51" y="267.30" width="2.99" height="2.65" fill="#ebf1f5"/>
<rect x="243.20" y="267.30" width="2.96" height="2.65" fill="#e8b298"/>
<rect x="245.86" y="267.30" width="2.96" height="2.65" fill="#f7e8e0"/>
<rect x="248.52" y="267.30" width="2.96" height="2.65" fill="#f2f5f6"/>
<rect x="251.17" y="267.30" width="2.96" height="2.65" fill="#f7e3d8"/>
<rect x="253.83" y="267.30" width="2.96" height="2.65" fill="#f8efe9"/>
<rect x="256.49" y="267.30" width="2.96" height="2.65" fill="#f7eae3"/>
<rect x="259.15" y="267.30" width="2.96" height="2.65" fill="#f0cab7"/>
<rect x="261.81" y="267.30" width="2.96" height="2.65" fill="#f2d0bf"/>
<rect x="264.47" y="267.30" width="2.96" height="2.65" fill="#efc8b4"/>
<rect x="267.12" y="267.30" width="2.96" height="2.65" fill="#e09b80"/>
<rect x="269.78" y="267.30" width="2.96" height="2.65" fill="#ebb89f"/>
<rect x="272.44" y="267.30" width="2.96" height="2.65" fill="#edc0aa"/>
<rect x="275.10" y="267.30" width="2.96" height="2.65" fill="#f7e0d4"/>
<rect x="277.76" y="267.30" width="2.96" height="2.65" fill="#ebb9a0"/>
<rect x="280.42" y="267.30" width="2.96" height="2.65" fill="#eec2ac"/>
<rect x="283.07" y="267.30" width="2.96" height="2.65" fill="#e8b298"/>
<rect x="285.73" y="267.30" width="2.96" height="2.65" fill="#ebbba2"/>
<rect x="288.39" y="267.30" width="2.96" height="2.65" fill="#e6aa90"/>
<rect x="291.05" y="267.30" width="2.96" height="2.65" fill="#ebb89f"/>
<rect x="293.71" y="267.30" width="2.96" height="2.65" fill="#e8b198"/>
<rect x="296.37" y="267.30" width="2.96" height="2.65" fill="#f1cbb8"/>
<rect x="299.02" y="267.30" width="2.96" height="2.65" fill="#d8876e"/>
<rect x="301.68" y="267.30" width="2.96" height="2.65" fill="#cc6d58"/>
<rect x="304.34" y="267.30" width="2.96" height="2.65" fill="#d8886f"/>
<rect x="205.60" y="269.65" width="2.99" height="2.65" fill="#b2d2e7"/>
<rect x="208.29" y="269.65" width="2.99" height="2.65" fill="#d2e5f0"/>
<rect x="210.97" y="269.65" width="2.99" height="2.65" fill="#d6e6f1"/>
<rect x="213.66" y="269.65" width="2.99" height="2.65" fill="#dfebf3"/>
<rect x="216.34" y="269.65" width="2.99" height="2.65" fill="#f8f5f3"/>
<rect x="219.03" y="269.65" width="2.99" height="2.65" fill="#e9f0f5"/>
<rect x="221.71" y="269.65" width="2.99" height="2.65" fill="#d6e7f1"/>
<rect x="224.40" y="269.65" width="2.99" height="2.65" fill="#f8f1ec"/>
<rect x="227.09" y="269.65" width="2.99" height="2.65" fill="#f5dbcd"/>
<rect x="229.77" y="269.65" width="2.99" height="2.65" fill="#f8f4f1"/>
<rect x="232.46" y="269.65" width="2.99" height="2.65" fill="#f2f5f6"/>
<rect x="235.14" y="269.65" width="2.99" height="2.65" fill="#f7ece5"/>
<rect x="237.83" y="269.65" width="2.99" height="2.65" fill="#d3e5f0"/>
<rect x="240.51" y="269.65" width="2.99" height="2.65" fill="#cee2ef"/>
<rect x="243.20" y="269.65" width="2.96" height="2.65" fill="#ebb89f"/>
<rect x="245.86" y="269.65" width="2.96" height="2.65" fill="#f6dfd2"/>
<rect x="248.52" y="269.65" width="2.96" height="2.65" fill="#f4f6f6"/>
<rect x="251.17" y="269.65" width="2.96" height="2.65" fill="#f7e4d9"/>
<rect x="253.83" y="269.65" width="2.96" height="2.65" fill="#f1cdbb"/>
<rect x="256.49" y="269.65" width="2.96" height="2.65" fill="#f7e6dd"/>
<rect x="259.15" y="269.65" width="2.96" height="2.65" fill="#f5dacc"/>
<rect x="261.81" y="269.65" width="2.96" height="2.65" fill="#f4d9ca"/>
<rect x="264.47" y="269.65" width="2.96" height="2.65" fill="#edc1ab"/>
<rect x="267.12" y="269.65" width="2.96" height="2.65" fill="#e6ac92"/>
<rect x="269.78" y="269.65" width="2.96" height="2.65" fill="#ecbda6"/>
<rect x="272.44" y="269.65" width="2.96" height="2.65" fill="#eec4af"/>
<rect x="275.10" y="269.65" width="2.96" height="2.65" fill="#ecbba3"/>
<rect x="277.76" y="269.65" width="2.96" height="2.65" fill="#e9b49a"/>
<rect x="280.42" y="269.65" width="2.96" height="2.65" fill="#f1cbb8"/>
<rect x="283.07" y="269.65" width="2.96" height="2.65" fill="#ecbda5"/>
<rect x="285.73" y="269.65" width="2.96" height="2.65" fill="#f0c8b4"/>
<rect x="288.39" y="269.65" width="2.96" height="2.65" fill="#eec2ab"/>
<rect x="291.05" y="269.65" width="2.96" height="2.65" fill="#e5a88e"/>
<rect x="293.71" y="269.65" width="2.96" height="2.65" fill="#e6aa90"/>
<rect x="296.37" y="269.65" width="2.96" height="2.65" fill="#f0c9b6"/>
<rect x="299.02" y="269.65" width="2.96" height="2.65" fill="#c55d4d"/>
<rect x="301.68" y="269.65" width="2.96" height="2.65" fill="#cf745e"/>
<rect x="304.34" y="269.65" width="2.96" height="2.65" fill="#d17962"/>
<rect x="205.60" y="272.00" width="2.99" height="2.65" fill="#bcd8ea"/>
<rect x="208.29" y="272.00" width="2.99" height="2.65" fill="#eef3f6"/>
<rect x="210.97" y="272.00" width="2.99" height="2.65" fill="#eef3f6"/>
<rect x="213.66" y="272.00" width="2.99" height="2.65" fill="#e6eff4"/>
<rect x="216.34" y="272.00" width="2.99" height="2.65" fill="#f8ede7"/>
<rect x="219.03" y="272.00" width="2.99" height="2.65" fill="#f0f4f6"/>
<rect x="221.71" y="272.00" width="2.99" height="2.65" fill="#e7f0f5"/>
<rect x="224.40" y="272.00" width="2.99" height="2.65" fill="#f4f5f6"/>
<rect x="227.09" y="272.00" width="2.99" height="2.65" fill="#f6dfd2"/>
<rect x="229.77" y="272.00" width="2.99" height="2.65" fill="#e7f0f5"/>
<rect x="232.46" y="272.00" width="2.99" height="2.65" fill="#f7e8df"/>
<rect x="235.14" y="272.00" width="2.99" height="2.65" fill="#f0f4f6"/>
<rect x="237.83" y="272.00" width="2.99" height="2.65" fill="#b8d6e9"/>
<rect x="240.51" y="272.00" width="2.99" height="2.65" fill="#b7d5e9"/>
<rect x="243.20" y="272.00" width="2.96" height="2.65" fill="#e4a68c"/>
<rect x="245.86" y="272.00" width="2.96" height="2.65" fill="#f4d6c6"/>
<rect x="248.52" y="272.00" width="2.96" height="2.65" fill="#f8f0ec"/>
<rect x="251.17" y="272.00" width="2.96" height="2.65" fill="#f6ded1"/>
<rect x="253.83" y="272.00" width="2.96" height="2.65" fill="#f5d9cb"/>
<rect x="256.49" y="272.00" width="2.96" height="2.65" fill="#f8efea"/>
<rect x="259.15" y="272.00" width="2.96" height="2.65" fill="#f2d1c0"/>
<rect x="261.81" y="272.00" width="2.96" height="2.65" fill="#f8ece6"/>
<rect x="264.47" y="272.00" width="2.96" height="2.65" fill="#e9b39a"/>
<rect x="267.12" y="272.00" width="2.96" height="2.65" fill="#ebb89f"/>
<rect x="269.78" y="272.00" width="2.96" height="2.65" fill="#f1ccb9"/>
<rect x="272.44" y="272.00" width="2.96" height="2.65" fill="#f5dacb"/>
<rect x="275.10" y="272.00" width="2.96" height="2.65" fill="#efc5b0"/>
<rect x="277.76" y="272.00" width="2.96" height="2.65" fill="#ecbda5"/>
<rect x="280.42" y="272.00" width="2.96" height="2.65" fill="#f1ccb9"/>
<rect x="283.07" y="272.00" width="2.96" height="2.65" fill="#e8b198"/>
<rect x="285.73" y="272.00" width="2.96" height="2.65" fill="#f2cfbe"/>
<rect x="288.39" y="272.00" width="2.96" height="2.65" fill="#efc6b2"/>
<rect x="291.05" y="272.00" width="2.96" height="2.65" fill="#ebb9a0"/>
<rect x="293.71" y="272.00" width="2.96" height="2.65" fill="#f0c9b5"/>
<rect x="296.37" y="272.00" width="2.96" height="2.65" fill="#f2d2c1"/>
<rect x="299.02" y="272.00" width="2.96" height="2.65" fill="#e09a7f"/>
<rect x="301.68" y="272.00" width="2.96" height="2.65" fill="#dd9379"/>
<rect x="304.34" y="272.00" width="2.96" height="2.65" fill="#d6836b"/>
<rect x="205.60" y="274.35" width="2.99" height="2.65" fill="#b9d6e9"/>
<rect x="208.29" y="274.35" width="2.99" height="2.65" fill="#bed9ea"/>
<rect x="210.97" y="274.35" width="2.99" height="2.65" fill="#d4e6f0"/>
<rect x="213.66" y="274.35" width="2.99" height="2.65" fill="#f7ece5"/>
<rect x="216.34" y="274.35" width="2.99" height="2.65" fill="#f8f2ef"/>
<rect x="219.03" y="274.35" width="2.99" height="2.65" fill="#f6f6f6"/>
<rect x="221.71" y="274.35" width="2.99" height="2.65" fill="#f4f5f6"/>
<rect x="224.40" y="274.35" width="2.99" height="2.65" fill="#f7f7f6"/>
<rect x="227.09" y="274.35" width="2.99" height="2.65" fill="#f1f4f6"/>
<rect x="229.77" y="274.35" width="2.99" height="2.65" fill="#f5f6f6"/>
<rect x="232.46" y="274.35" width="2.99" height="2.65" fill="#e7eff4"/>
<rect x="235.14" y="274.35" width="2.99" height="2.65" fill="#f2f5f6"/>
<rect x="237.83" y="274.35" width="2.99" height="2.65" fill="#f3f5f6"/>
<rect x="240.51" y="274.35" width="2.99" height="2.65" fill="#d1e4ef"/>
<rect x="243.20" y="274.35" width="2.96" height="2.65" fill="#eab69d"/>
<rect x="245.86" y="274.35" width="2.96" height="2.65" fill="#f7e9e2"/>
<rect x="248.52" y="274.35" width="2.96" height="2.65" fill="#f8f0ec"/>
<rect x="251.17" y="274.35" width="2.96" height="2.65" fill="#f7e6dd"/>
<rect x="253.83" y="274.35" width="2.96" height="2.65" fill="#f2d1bf"/>
<rect x="256.49" y="274.35" width="2.96" height="2.65" fill="#f6f6f6"/>
<rect x="259.15" y="274.35" width="2.96" height="2.65" fill="#ecbea6"/>
<rect x="261.81" y="274.35" width="2.96" height="2.65" fill="#f7e4d9"/>
<rect x="264.47" y="274.35" width="2.96" height="2.65" fill="#efc6b2"/>
<rect x="267.12" y="274.35" width="2.96" height="2.65" fill="#e5a98f"/>
<rect x="269.78" y="274.35" width="2.96" height="2.65" fill="#f0c8b4"/>
<rect x="272.44" y="274.35" width="2.96" height="2.65" fill="#f1ccb9"/>
<rect x="275.10" y="274.35" width="2.96" height="2.65" fill="#f1cdbb"/>
<rect x="277.76" y="274.35" width="2.96" height="2.65" fill="#f1cebb"/>
<rect x="280.42" y="274.35" width="2.96" height="2.65" fill="#edbfa8"/>
<rect x="283.07" y="274.35" width="2.96" height="2.65" fill="#eec2ac"/>
<rect x="285.73" y="274.35" width="2.96" height="2.65" fill="#f1ccb9"/>
<rect x="288.39" y="274.35" width="2.96" height="2.65" fill="#e29f85"/>
<rect x="291.05" y="274.35" width="2.96" height="2.65" fill="#ecbda5"/>
<rect x="293.71" y="274.35" width="2.96" height="2.65" fill="#ebb89f"/>
<rect x="296.37" y="274.35" width="2.96" height="2.65" fill="#f5dacb"/>
<rect x="299.02" y="274.35" width="2.96" height="2.65" fill="#de9479"/>
<rect x="301.68" y="274.35" width="2.96" height="2.65" fill="#d7866d"/>
<rect x="304.34" y="274.35" width="2.96" height="2.65" fill="#dc8f75"/>
<rect x="205.60" y="276.70" width="2.99" height="2.65" fill="#a1c8e3"/>
<rect x="208.29" y="276.70" width="2.99" height="2.65" fill="#e7eff4"/>
<rect x="210.97" y="276.70" width="2.99" height="2.65" fill="#eef3f6"/>
<rect x="213.66" y="276.70" width="2.99" height="2.65" fill="#e8f0f5"/>
<rect x="216.34" y="276.70" width="2.99" height="2.65" fill="#f8f7f6"/>
<rect x="219.03" y="276.70" width="2.99" height="2.65" fill="#e8f0f5"/>
<rect x="221.71" y="276.70" width="2.99" height="2.65" fill="#e1ecf3"/>
<rect x="224.40" y="276.70" width="2.99" height="2.65" fill="#dae9f2"/>
<rect x="227.09" y="276.70" width="2.99" height="2.65" fill="#f4f6f6"/>
<rect x="229.77" y="276.70" width="2.99" height="2.65" fill="#edf2f6"/>
<rect x="232.46" y="276.70" width="2.99" height="2.65" fill="#f3f5f6"/>
<rect x="235.14" y="276.70" width="2.99" height="2.65" fill="#e7eff4"/>
<rect x="237.83" y="276.70" width="2.99" height="2.65" fill="#cae0ee"/>
<rect x="240.51" y="276.70" width="2.99" height="2.65" fill="#e1ecf3"/>
<rect x="243.20" y="276.70" width="2.96" height="2.65" fill="#e9b299"/>
<rect x="245.86" y="276.70" width="2.96" height="2.65" fill="#f5dacc"/>
<rect x="248.52" y="276.70" width="2.96" height="2.65" fill="#f8f4f2"/>
<rect x="251.17" y="276.70" width="2.96" height="2.65" fill="#f4f5f6"/>
<rect x="253.83" y="276.70" width="2.96" height="2.65" fill="#f2cfbe"/>
<rect x="256.49" y="276.70" width="2.96" height="2.65" fill="#f7e3d8"/>
<rect x="259.15" y="276.70" width="2.96" height="2.65" fill="#edc1ab"/>
<rect x="261.81" y="276.70" width="2.96" height="2.65" fill="#f7e7df"/>
<rect x="264.47" y="276.70" width="2.96" height="2.65" fill="#f3d4c3"/>
<rect x="267.12" y="276.70" width="2.96" height="2.65" fill="#eab69d"/>
<rect x="269.78" y="276.70" width="2.96" height="2.65" fill="#e8b198"/>
<rect x="272.44" y="276.70" width="2.96" height="2.65" fill="#eec2ab"/>
<rect x="275.10" y="276.70" width="2.96" height="2.65" fill="#f4d9ca"/>
<rect x="277.76" y="276.70" width="2.96" height="2.65" fill="#f0c9b6"/>
<rect x="280.42" y="276.70" width="2.96" height="2.65" fill="#f0cab6"/>
<rect x="283.07" y="276.70" width="2.96" height="2.65" fill="#e6ac92"/>
<rect x="285.73" y="276.70" width="2.96" height="2.65" fill="#ebbaa2"/>
<rect x="288.39" y="276.70" width="2.96" height="2.65" fill="#e6ab91"/>
<rect x="291.05" y="276.70" width="2.96" height="2.65" fill="#ebb89f"/>
<rect x="293.71" y="276.70" width="2.96" height="2.65" fill="#e09a7f"/>
<rect x="296.37" y="276.70" width="2.96" height="2.65" fill="#f0cab7"/>
<rect x="299.02" y="276.70" width="2.96" height="2.65" fill="#e19b81"/>
<rect x="301.68" y="276.70" width="2.96" height="2.65" fill="#d27b64"/>
<rect x="304.34" y="276.70" width="2.96" height="2.65" fill="#dc9076"/>
<rect x="205.60" y="279.05" width="2.99" height="2.65" fill="#9cc6e1"/>
<rect x="208.29" y="279.05" width="2.99" height="2.65" fill="#c6deed"/>
<rect x="210.97" y="279.05" width="2.99" height="2.65" fill="#e9f0f5"/>
<rect x="213.66" y="279.05" width="2.99" height="2.65" fill="#e4eef4"/>
<rect x="216.34" y="279.05" width="2.99" height="2.65" fill="#f8f6f4"/>
<rect x="219.03" y="279.05" width="2.99" height="2.65" fill="#d8e8f1"/>
<rect x="221.71" y="279.05" width="2.99" height="2.65" fill="#e3edf4"/>
<rect x="224.40" y="279.05" width="2.99" height="2.65" fill="#f5f6f6"/>
<rect x="227.09" y="279.05" width="2.99" height="2.65" fill="#ecf2f6"/>
<rect x="229.77" y="279.05" width="2.99" height="2.65" fill="#eef3f6"/>
<rect x="232.46" y="279.05" width="2.99" height="2.65" fill="#f8f3f0"/>
<rect x="235.14" y="279.05" width="2.99" height="2.65" fill="#f8f5f4"/>
<rect x="237.83" y="279.05" width="2.99" height="2.65" fill="#e3edf4"/>
<rect x="240.51" y="279.05" width="2.99" height="2.65" fill="#c2dbec"/>
<rect x="243.20" y="279.05" width="2.96" height="2.65" fill="#e6ac92"/>
<rect x="245.86" y="279.05" width="2.96" height="2.65" fill="#f1ccba"/>
<rect x="248.52" y="279.05" width="2.96" height="2.65" fill="#f2f5f6"/>
<rect x="251.17" y="279.05" width="2.96" height="2.65" fill="#f2d0be"/>
<rect x="253.83" y="279.05" width="2.96" height="2.65" fill="#f6ded1"/>
<rect x="256.49" y="279.05" width="2.96" height="2.65" fill="#f7e9e1"/>
<rect x="259.15" y="279.05" width="2.96" height="2.65" fill="#f1ccba"/>
<rect x="261.81" y="279.05" width="2.96" height="2.65" fill="#f7e3d9"/>
<rect x="264.47" y="279.05" width="2.96" height="2.65" fill="#edc1aa"/>
<rect x="267.12" y="279.05" width="2.96" height="2.65" fill="#e19c82"/>
<rect x="269.78" y="279.05" width="2.96" height="2.65" fill="#ebb9a0"/>
<rect x="272.44" y="279.05" width="2.96" height="2.65" fill="#ecbca4"/>
<rect x="275.10" y="279.05" width="2.96" height="2.65" fill="#eec4af"/>
<rect x="277.76" y="279.05" width="2.96" height="2.65" fill="#f0cbb7"/>
<rect x="280.42" y="279.05" width="2.96" height="2.65" fill="#f2cfbd"/>
<rect x="283.07" y="279.05" width="2.96" height="2.65" fill="#e6ab91"/>
<rect x="285.73" y="279.05" width="2.96" height="2.65" fill="#ecbda6"/>
<rect x="288.39" y="279.05" width="2.96" height="2.65" fill="#edbfa8"/>
<rect x="291.05" y="279.05" width="2.96" height="2.65" fill="#ecbea7"/>
<rect x="293.71" y="279.05" width="2.96" height="2.65" fill="#eab69d"/>
<rect x="296.37" y="279.05" width="2.96" height="2.65" fill="#f7eae2"/>
<rect x="299.02" y="279.05" width="2.96" height="2.65" fill="#d0765f"/>
<rect x="301.68" y="279.05" width="2.96" height="2.65" fill="#d27a63"/>
<rect x="304.34" y="279.05" width="2.96" height="2.65" fill="#d5826a"/>
<rect x="205.60" y="281.40" width="2.99" height="2.65" fill="#a5cbe4"/>
<rect x="208.29" y="281.40" width="2.99" height="2.65" fill="#cae0ee"/>
<rect x="210.97" y="281.40" width="2.99" height="2.65" fill="#dfebf3"/>
<rect x="213.66" y="281.40" width="2.99" height="2.65" fill="#f0f4f6"/>
<rect x="216.34" y="281.40" width="2.99" height="2.65" fill="#f8f0eb"/>
<rect x="219.03" y="281.40" width="2.99" height="2.65" fill="#e9f1f5"/>
<rect x="221.71" y="281.40" width="2.99" height="2.65" fill="#ebf2f5"/>
<rect x="224.40" y="281.40" width="2.99" height="2.65" fill="#f7e7de"/>
<rect x="227.09" y="281.40" width="2.99" height="2.65" fill="#dae9f2"/>
<rect x="229.77" y="281.40" width="2.99" height="2.65" fill="#f6f6f6"/>
<rect x="232.46" y="281.40" width="2.99" height="2.65" fill="#f6f6f6"/>
<rect x="235.14" y="281.40" width="2.99" height="2.65" fill="#f0f4f6"/>
<rect x="237.83" y="281.40" width="2.99" height="2.65" fill="#dae9f2"/>
<rect x="240.51" y="281.40" width="2.99" height="2.65" fill="#bed9ea"/>
<rect x="243.20" y="281.40" width="2.96" height="2.65" fill="#e4a58a"/>
<rect x="245.86" y="281.40" width="2.96" height="2.65" fill="#f5dcce"/>
<rect x="248.52" y="281.40" width="2.96" height="2.65" fill="#f7f7f6"/>
<rect x="251.17" y="281.40" width="2.96" height="2.65" fill="#f8eee9"/>
<rect x="253.83" y="281.40" width="2.96" height="2.65" fill="#f7e2d6"/>
<rect x="256.49" y="281.40" width="2.96" height="2.65" fill="#f5d9ca"/>
<rect x="259.15" y="281.40" width="2.96" height="2.65" fill="#f1cdba"/>
<rect x="261.81" y="281.40" width="2.96" height="2.65" fill="#f4d8c8"/>
<rect x="264.47" y="281.40" width="2.96" height="2.65" fill="#eab89e"/>
<rect x="267.12" y="281.40" width="2.96" height="2.65" fill="#e5a88e"/>
<rect x="269.78" y="281.40" width="2.96" height="2.65" fill="#ebbaa1"/>
<rect x="272.44" y="281.40" width="2.96" height="2.65" fill="#f1cebc"/>
<rect x="275.10" y="281.40" width="2.96" height="2.65" fill="#f0c9b5"/>
<rect x="277.76" y="281.40" width="2.96" height="2.65" fill="#ebb89f"/>
<rect x="280.42" y="281.40" width="2.96" height="2.65" fill="#f0cab6"/>
<rect x="283.07" y="281.40" width="2.96" height="2.65" fill="#edc0a9"/>
<rect x="285.73" y="281.40" width="2.96" height="2.65" fill="#edc1ab"/>
<rect x="288.39" y="281.40" width="2.96" height="2.65" fill="#eab59c"/>
<rect x="291.05" y="281.40" width="2.96" height="2.65" fill="#e7ae95"/>
<rect x="293.71" y="281.40" width="2.96" height="2.65" fill="#ebbaa2"/>
<rect x="296.37" y="281.40" width="2.96" height="2.65" fill="#f0cab6"/>
<rect x="299.02" y="281.40" width="2.96" height="2.65" fill="#e0997e"/>
<rect x="301.68" y="281.40" width="2.96" height="2.65" fill="#cf735d"/>
<rect x="304.34" y="281.40" width="2.96" height="2.65" fill="#d47e66"/>
<rect x="205.60" y="283.75" width="2.99" height="2.65" fill="#9cc5e1"/>
<rect x="208.29" y="283.75" width="2.99" height="2.65" fill="#bfd9eb"/>
<rect x="210.97" y="283.75" width="2.99" height="2.65" fill="#e6eff4"/>
<rect x="213.66" y="283.75" width="2.99" height="2.65" fill="#f8f2ee"/>
<rect x="216.34" y="283.75" width="2.99" height="2.65" fill="#f8ece6"/>
<rect x="219.03" y="283.75" width="2.99" height="2.65" fill="#c3dcec"/>
<rect x="221.71" y="283.75" width="2.99" height="2.65" fill="#e4eef4"/>
<rect x="224.40" y="283.75" width="2.99" height="2.65" fill="#e9f0f5"/>
<rect x="227.09" y="283.75" width="2.99" height="2.65" fill="#f8efea"/>
<rect x="229.77" y="283.75" width="2.99" height="2.65" fill="#e2edf3"/>
<rect x="232.46" y="283.75" width="2.99" height="2.65" fill="#e7f0f5"/>
<rect x="235.14" y="283.75" width="2.99" height="2.65" fill="#f2f5f6"/>
<rect x="237.83" y="283.75" width="2.99" height="2.65" fill="#d9e8f1"/>
<rect x="240.51" y="283.75" width="2.99" height="2.65" fill="#d0e3ef"/>
<rect x="243.20" y="283.75" width="2.96" height="2.65" fill="#e4a58b"/>
<rect x="245.86" y="283.75" width="2.96" height="2.65" fill="#f3d3c2"/>
<rect x="248.52" y="283.75" width="2.96" height="2.65" fill="#f7e2d7"/>
<rect x="251.17" y="283.75" width="2.96" height="2.65" fill="#f1cebc"/>
<rect x="253.83" y="283.75" width="2.96" height="2.65" fill="#f7e9e2"/>
<rect x="256.49" y="283.75" width="2.96" height="2.65" fill="#f8f2ef"/>
<rect x="259.15" y="283.75" width="2.96" height="2.65" fill="#f0cab7"/>
<rect x="261.81" y="283.75" width="2.96" height="2.65" fill="#f7e7de"/>
<rect x="264.47" y="283.75" width="2.96" height="2.65" fill="#e7ad93"/>
<rect x="267.12" y="283.75" width="2.96" height="2.65" fill="#ecbda6"/>
<rect x="269.78" y="283.75" width="2.96" height="2.65" fill="#eec4af"/>
<rect x="272.44" y="283.75" width="2.96" height="2.65" fill="#edc0a9"/>
<rect x="275.10" y="283.75" width="2.96" height="2.65" fill="#efc7b2"/>
<rect x="277.76" y="283.75" width="2.96" height="2.65" fill="#f4d6c6"/>
<rect x="280.42" y="283.75" width="2.96" height="2.65" fill="#edc1aa"/>
<rect x="283.07" y="283.75" width="2.96" height="2.65" fill="#eec3ae"/>
<rect x="285.73" y="283.75" width="2.96" height="2.65" fill="#f0c9b5"/>
<rect x="288.39" y="283.75" width="2.96" height="2.65" fill="#eab69d"/>
<rect x="291.05" y="283.75" width="2.96" height="2.65" fill="#eab69d"/>
<rect x="293.71" y="283.75" width="2.96" height="2.65" fill="#e4a68c"/>
<rect x="296.37" y="283.75" width="2.96" height="2.65" fill="#f1cfbd"/>
<rect x="299.02" y="283.75" width="2.96" height="2.65" fill="#de957a"/>
<rect x="301.68" y="283.75" width="2.96" height="2.65" fill="#d17861"/>
<rect x="304.34" y="283.75" width="2.96" height="2.65" fill="#d6836b"/>
<rect x="205.60" y="286.10" width="2.99" height="2.65" fill="#a1c9e3"/>
<rect x="208.29" y="286.10" width="2.99" height="2.65" fill="#bdd9ea"/>
<rect x="210.97" y="286.10" width="2.99" height="2.65" fill="#e0ecf3"/>
<rect x="213.66" y="286.10" width="2.99" height="2.65" fill="#deebf3"/>
<rect x="216.34" y="286.10" width="2.99" height="2.65" fill="#f8efeb"/>
<rect x="219.03" y="286.10" width="2.99" height="2.65" fill="#d6e7f1"/>
<rect x="221.71" y="286.10" width="2.99" height="2.65" fill="#dae9f2"/>
<rect x="224.40" y="286.10" width="2.99" height="2.65" fill="#eef3f6"/>
<rect x="227.09" y="286.10" width="2.99" height="2.65" fill="#f8f5f3"/>
<rect x="229.77" y="286.10" width="2.99" height="2.65" fill="#eef3f6"/>
<rect x="232.46" y="286.10" width="2.99" height="2.65" fill="#f8f7f5"/>
<rect x="235.14" y="286.10" width="2.99" height="2.65" fill="#ecf2f6"/>
<rect x="237.83" y="286.10" width="2.99" height="2.65" fill="#e3edf4"/>
<rect x="240.51" y="286.10" width="2.99" height="2.65" fill="#d4e6f0"/>
<rect x="243.20" y="286.10" width="2.96" height="2.65" fill="#e5a78d"/>
<rect x="245.86" y="286.10" width="2.96" height="2.65" fill="#f5dcce"/>
<rect x="248.52" y="286.10" width="2.96" height="2.65" fill="#f8f4f2"/>
<rect x="251.17" y="286.10" width="2.96" height="2.65" fill="#f7e0d4"/>
<rect x="253.83" y="286.10" width="2.96" height="2.65" fill="#f6ded1"/>
<rect x="256.49" y="286.10" width="2.96" height="2.65" fill="#f5dcce"/>
<rect x="259.15" y="286.10" width="2.96" height="2.65" fill="#edc1aa"/>
<rect x="261.81" y="286.10" width="2.96" height="2.65" fill="#f7e4d9"/>
<rect x="264.47" y="286.10" width="2.96" height="2.65" fill="#e9b49b"/>
<rect x="267.12" y="286.10" width="2.96" height="2.65" fill="#ecbba3"/>
<rect x="269.78" y="286.10" width="2.96" height="2.65" fill="#efc6b1"/>
<rect x="272.44" y="286.10" width="2.96" height="2.65" fill="#f2d0bf"/>
<rect x="275.10" y="286.10" width="2.96" height="2.65" fill="#f1cebc"/>
<rect x="277.76" y="286.10" width="2.96" height="2.65" fill="#ebb89f"/>
<rect x="280.42" y="286.10" width="2.96" height="2.65" fill="#f1cbb8"/>
<rect x="283.07" y="286.10" width="2.96" height="2.65" fill="#ebbba2"/>
<rect x="285.73" y="286.10" width="2.96" height="2.65" fill="#efc5b0"/>
<rect x="288.39" y="286.10" width="2.96" height="2.65" fill="#ecbca4"/>
<rect x="291.05" y="286.10" width="2.96" height="2.65" fill="#eec3ae"/>
<rect x="293.71" y="286.10" width="2.96" height="2.65" fill="#eab69d"/>
<rect x="296.37" y="286.10" width="2.96" height="2.65" fill="#f3d3c2"/>
<rect x="299.02" y="286.10" width="2.96" height="2.65" fill="#de947a"/>
<rect x="301.68" y="286.10" width="2.96" height="2.65" fill="#d37c65"/>
<rect x="304.34" y="286.10" width="2.96" height="2.65" fill="#cb6c57"/>
<rect x="205.60" y="288.45" width="2.99" height="2.65" fill="#9ec6e1"/>
<rect x="208.29" y="288.45" width="2.99" height="2.65" fill="#c9dfed"/>
<rect x="210.97" y="288.45" width="2.99" height="2.65" fill="#e1ecf3"/>
<rect x="213.66" y="288.45" width="2.99" height="2.65" fill="#f4f5f6"/>
<rect x="216.34" y="288.45" width="2.99" height="2.65" fill="#f8eee9"/>
<rect x="219.03" y="288.45" width="2.99" height="2.65" fill="#d5e6f1"/>
<rect x="221.71" y="288.45" width="2.99" height="2.65" fill="#e5eef4"/>
<rect x="224.40" y="288.45" width="2.99" height="2.65" fill="#f2f5f6"/>
<rect x="227.09" y="288.45" width="2.99" height="2.65" fill="#f8f6f5"/>
<rect x="229.77" y="288.45" width="2.99" height="2.65" fill="#dbe9f2"/>
<rect x="232.46" y="288.45" width="2.99" height="2.65" fill="#f6f6f6"/>
<rect x="235.14" y="288.45" width="2.99" height="2.65" fill="#f8f3f0"/>
<rect x="237.83" y="288.45" width="2.99" height="2.65" fill="#c2dbec"/>
<rect x="240.51" y="288.45" width="2.99" height="2.65" fill="#c3dcec"/>
<rect x="243.20" y="288.45" width="2.96" height="2.65" fill="#e8b097"/>
<rect x="245.86" y="288.45" width="2.96" height="2.65" fill="#f8f1ed"/>
<rect x="248.52" y="288.45" width="2.96" height="2.65" fill="#f8f0eb"/>
<rect x="251.17" y="288.45" width="2.96" height="2.65" fill="#f8f3f0"/>
<rect x="253.83" y="288.45" width="2.96" height="2.65" fill="#f2d0be"/>
<rect x="256.49" y="288.45" width="2.96" height="2.65" fill="#f6dfd3"/>
<rect x="259.15" y="288.45" width="2.96" height="2.65" fill="#f7e3d8"/>
<rect x="261.81" y="288.45" width="2.96" height="2.65" fill="#f8f3ef"/>
<rect x="264.47" y="288.45" width="2.96" height="2.65" fill="#ebb9a0"/>
<rect x="267.12" y="288.45" width="2.96" height="2.65" fill="#e7ad93"/>
<rect x="269.78" y="288.45" width="2.96" height="2.65" fill="#ebb9a0"/>
<rect x="272.44" y="288.45" width="2.96" height="2.65" fill="#efc7b3"/>
<rect x="275.10" y="288.45" width="2.96" height="2.65" fill="#f3d2c1"/>
<rect x="277.76" y="288.45" width="2.96" height="2.65" fill="#f1cebb"/>
<rect x="280.42" y="288.45" width="2.96" height="2.65" fill="#f1cebc"/>
<rect x="283.07" y="288.45" width="2.96" height="2.65" fill="#e9b299"/>
<rect x="285.73" y="288.45" width="2.96" height="2.65" fill="#f7e2d7"/>
<rect x="288.39" y="288.45" width="2.96" height="2.65" fill="#edbea7"/>
<rect x="291.05" y="288.45" width="2.96" height="2.65" fill="#f0cbb7"/>
<rect x="293.71" y="288.45" width="2.96" height="2.65" fill="#e9b49a"/>
<rect x="296.37" y="288.45" width="2.96" height="2.65" fill="#f3d4c4"/>
<rect x="299.02" y="288.45" width="2.96" height="2.65" fill="#d17962"/>
<rect x="301.68" y="288.45" width="2.96" height="2.65" fill="#db8e74"/>
<rect x="304.34" y="288.45" width="2.96" height="2.65" fill="#dc9076"/>
<rect x="205.60" y="290.80" width="2.99" height="2.65" fill="#9dc6e1"/>
<rect x="208.29" y="290.80" width="2.99" height="2.65" fill="#bad7e9"/>
<rect x="210.97" y="290.80" width="2.99" height="2.65" fill="#e3edf4"/>
<rect x="213.66" y="290.80" width="2.99" height="2.65" fill="#f3f5f6"/>
<rect x="216.34" y="290.80" width="2.99" height="2.65" fill="#f8f7f6"/>
<rect x="219.03" y="290.80" width="2.99" height="2.65" fill="#e2edf3"/>
<rect x="221.71" y="290.80" width="2.99" height="2.65" fill="#e2edf3"/>
<rect x="224.40" y="290.80" width="2.99" height="2.65" fill="#f8f7f6"/>
<rect x="227.09" y="290.80" width="2.99" height="2.65" fill="#f8f1ee"/>
<rect x="229.77" y="290.80" width="2.99" height="2.65" fill="#deebf2"/>
<rect x="232.46" y="290.80" width="2.99" height="2.65" fill="#f6f6f6"/>
<rect x="235.14" y="290.80" width="2.99" height="2.65" fill="#f2f4f6"/>
<rect x="237.83" y="290.80" width="2.99" height="2.65" fill="#d9e8f1"/>
<rect x="240.51" y="290.80" width="2.99" height="2.65" fill="#d2e4f0"/>
<rect x="243.20" y="290.80" width="2.96" height="2.65" fill="#e9b49b"/>
<rect x="245.86" y="290.80" width="2.96" height="2.65" fill="#f6dfd2"/>
<rect x="248.52" y="290.80" width="2.96" height="2.65" fill="#f7f7f6"/>
<rect x="251.17" y="290.80" width="2.96" height="2.65" fill="#f2d1c0"/>
<rect x="253.83" y="290.80" width="2.96" height="2.65" fill="#f7e2d7"/>
<rect x="256.49" y="290.80" width="2.96" height="2.65" fill="#f8efea"/>
<rect x="259.15" y="290.80" width="2.96" height="2.65" fill="#f2d0be"/>
<rect x="261.81" y="290.80" width="2.96" height="2.65" fill="#f7e6dd"/>
<rect x="264.47" y="290.80" width="2.96" height="2.65" fill="#efc6b2"/>
<rect x="267.12" y="290.80" width="2.96" height="2.65" fill="#e8b097"/>
<rect x="269.78" y="290.80" width="2.96" height="2.65" fill="#eab89e"/>
<rect x="272.44" y="290.80" width="2.96" height="2.65" fill="#eec2ac"/>
<rect x="275.10" y="290.80" width="2.96" height="2.65" fill="#f6ddd0"/>
<rect x="277.76" y="290.80" width="2.96" height="2.65" fill="#edc1aa"/>
<rect x="280.42" y="290.80" width="2.96" height="2.65" fill="#f4d6c7"/>
<rect x="283.07" y="290.80" width="2.96" height="2.65" fill="#e5a98f"/>
<rect x="285.73" y="290.80" width="2.96" height="2.65" fill="#eec3ad"/>
<rect x="288.39" y="290.80" width="2.96" height="2.65" fill="#ebb89f"/>
<rect x="291.05" y="290.80" width="2.96" height="2.65" fill="#e29f84"/>
<rect x="293.71" y="290.80" width="2.96" height="2.65" fill="#e8b096"/>
<rect x="296.37" y="290.80" width="2.96" height="2.65" fill="#f3d3c2"/>
<rect x="299.02" y="290.80" width="2.96" height="2.65" fill="#d98b71"/>
<rect x="301.68" y="290.80" width="2.96" height="2.65" fill="#ce715c"/>
<rect x="304.34" y="290.80" width="2.96" height="2.65" fill="#cc6e58"/>
<rect x="205.60" y="293.15" width="2.99" height="2.65" fill="#9ec7e1"/>
<rect x="208.29" y="293.15" width="2.99" height="2.65" fill="#c5ddec"/>
<rect x="210.97" y="293.15" width="2.99" height="2.65" fill="#d4e5f0"/>
<rect x="213.66" y="293.15" width="2.99" height="2.65" fill="#edf3f6"/>
<rect x="216.34" y="293.15" width="2.99" height="2.65" fill="#e7eff4"/>
<rect x="219.03" y="293.15" width="2.99" height="2.65" fill="#b6d4e8"/>
<rect x="221.71" y="293.15" width="2.99" height="2.65" fill="#e1ecf3"/>
<rect x="224.40" y="293.15" width="2.99" height="2.65" fill="#e4eef4"/>
<rect x="227.09" y="293.15" width="2.99" height="2.65" fill="#f2f5f6"/>
<rect x="229.77" y="293.15" width="2.99" height="2.65" fill="#eaf1f5"/>
<rect x="232.46" y="293.15" width="2.99" height="2.65" fill="#e8f0f5"/>
<rect x="235.14" y="293.15" width="2.99" height="2.65" fill="#e8f0f5"/>
<rect x="237.83" y="293.15" width="2.99" height="2.65" fill="#c2dbeb"/>
<rect x="240.51" y="293.15" width="2.99" height="2.65" fill="#c2dbec"/>
<rect x="243.20" y="293.15" width="2.96" height="2.65" fill="#e4a58b"/>
<rect x="245.86" y="293.15" width="2.96" height="2.65" fill="#f7e6dd"/>
<rect x="248.52" y="293.15" width="2.96" height="2.65" fill="#f6f6f6"/>
<rect x="251.17" y="293.15" width="2.96" height="2.65" fill="#f5f6f6"/>
<rect x="253.83" y="293.15" width="2.96" height="2.65" fill="#f3d2c1"/>
<rect x="256.49" y="293.15" width="2.96" height="2.65" fill="#f7e9e1"/>
<rect x="259.15" y="293.15" width="2.96" height="2.65" fill="#f1ccb9"/>
<rect x="261.81" y="293.15" width="2.96" height="2.65" fill="#f7e3d8"/>
<rect x="264.47" y="293.15" width="2.96" height="2.65" fill="#ebbaa1"/>
<rect x="267.12" y="293.15" width="2.96" height="2.65" fill="#ebb89f"/>
<rect x="269.78" y="293.15" width="2.96" height="2.65" fill="#eab69d"/>
<rect x="272.44" y="293.15" width="2.96" height="2.65" fill="#edbfa8"/>
<rect x="275.10" y="293.15" width="2.96" height="2.65" fill="#ebb89f"/>
<rect x="277.76" y="293.15" width="2.96" height="2.65" fill="#ecbea6"/>
<rect x="280.42" y="293.15" width="2.96" height="2.65" fill="#f1ccba"/>
<rect x="283.07" y="293.15" width="2.96" height="2.65" fill="#e4a48a"/>
<rect x="285.73" y="293.15" width="2.96" height="2.65" fill="#edbfa8"/>
<rect x="288.39" y="293.15" width="2.96" height="2.65" fill="#eab69d"/>
<rect x="291.05" y="293.15" width="2.96" height="2.65" fill="#ecbca4"/>
<rect x="293.71" y="293.15" width="2.96" height="2.65" fill="#e7ad93"/>
<rect x="296.37" y="293.15" width="2.96" height="2.65" fill="#f1cebc"/>
<rect x="299.02" y="293.15" width="2.96" height="2.65" fill="#de957a"/>
<rect x="301.68" y="293.15" width="2.96" height="2.65" fill="#d0755f"/>
<rect x="304.34" y="293.15" width="2.96" height="2.65" fill="#d47f67"/>
<rect x="205.60" y="295.50" width="2.99" height="2.65" fill="#9ec7e2"/>
<rect x="208.29" y="295.50" width="2.99" height="2.65" fill="#b4d3e8"/>
<rect x="210.97" y="295.50" width="2.99" height="2.65" fill="#d3e5f0"/>
<rect x="213.66" y="295.50" width="2.99" height="2.65" fill="#f8f4f1"/>
<rect x="216.34" y="295.50" width="2.99" height="2.65" fill="#eef3f6"/>
<rect x="219.03" y="295.50" width="2.99" height="2.65" fill="#d5e6f1"/>
<rect x="221.71" y="295.50" width="2.99" height="2.65" fill="#e4eef4"/>
<rect x="224.40" y="295.50" width="2.99" height="2.65" fill="#f3f5f6"/>
<rect x="227.09" y="295.50" width="2.99" height="2.65" fill="#ddeaf2"/>
<rect x="229.77" y="295.50" width="2.99" height="2.65" fill="#f3f5f6"/>
<rect x="232.46" y="295.50" width="2.99" height="2.65" fill="#f4f6f6"/>
<rect x="235.14" y="295.50" width="2.99" height="2.65" fill="#f8f6f4"/>
<rect x="237.83" y="295.50" width="2.99" height="2.65" fill="#d7e7f1"/>
<rect x="240.51" y="295.50" width="2.99" height="2.65" fill="#bfdaeb"/>
<rect x="243.20" y="295.50" width="2.96" height="2.65" fill="#df977c"/>
<rect x="245.86" y="295.50" width="2.96" height="2.65" fill="#f7ebe3"/>
<rect x="248.52" y="295.50" width="2.96" height="2.65" fill="#f6f6f6"/>
<rect x="251.17" y="295.50" width="2.96" height="2.65" fill="#f5dcce"/>
<rect x="253.83" y="295.50" width="2.96" height="2.65" fill="#f0c8b4"/>
<rect x="256.49" y="295.50" width="2.96" height="2.65" fill="#f6dfd3"/>
<rect x="259.15" y="295.50" width="2.96" height="2.65" fill="#f5dacc"/>
<rect x="261.81" y="295.50" width="2.96" height="2.65" fill="#f7e0d3"/>
<rect x="264.47" y="295.50" width="2.96" height="2.65" fill="#ecbda5"/>
<rect x="267.12" y="295.50" width="2.96" height="2.65" fill="#e5a78d"/>
<rect x="269.78" y="295.50" width="2.96" height="2.65" fill="#edc0a9"/>
<rect x="272.44" y="295.50" width="2.96" height="2.65" fill="#f0cab6"/>
<rect x="275.10" y="295.50" width="2.96" height="2.65" fill="#f6ddcf"/>
<rect x="277.76" y="295.50" width="2.96" height="2.65" fill="#eec4af"/>
<rect x="280.42" y="295.50" width="2.96" height="2.65" fill="#f2d1c0"/>
<rect x="283.07" y="295.50" width="2.96" height="2.65" fill="#ebbaa1"/>
<rect x="285.73" y="295.50" width="2.96" height="2.65" fill="#f0cab7"/>
<rect x="288.39" y="295.50" width="2.96" height="2.65" fill="#e8af96"/>
<rect x="291.05" y="295.50" width="2.96" height="2.65" fill="#e7ae95"/>
<rect x="293.71" y="295.50" width="2.96" height="2.65" fill="#eec5af"/>
<rect x="296.37" y="295.50" width="2.96" height="2.65" fill="#f4d6c7"/>
<rect x="299.02" y="295.50" width="2.96" height="2.65" fill="#dd9378"/>
<rect x="301.68" y="295.50" width="2.96" height="2.65" fill="#cf735d"/>
<rect x="304.34" y="295.50" width="2.96" height="2.65" fill="#d8876e"/>
<rect x="205.60" y="297.85" width="2.99" height="2.65" fill="#a0c8e2"/>
<rect x="208.29" y="297.85" width="2.99" height="2.65" fill="#c7deed"/>
<rect x="210.97" y="297.85" width="2.99" height="2.65" fill="#dfebf3"/>
<rect x="213.66" y="297.85" width="2.99" height="2.65" fill="#e8f0f5"/>
<rect x="216.34" y="297.85" width="2.99" height="2.65" fill="#f7e9e1"/>
<rect x="219.03" y="297.85" width="2.99" height="2.65" fill="#e6eff4"/>
<rect x="221.71" y="297.85" width="2.99" height="2.65" fill="#e1ecf3"/>
<rect x="224.40" y="297.85" width="2.99" height="2.65" fill="#f8f5f3"/>
<rect x="227.09" y="297.85" width="2.99" height="2.65" fill="#f7ece5"/>
<rect x="229.77" y="297.85" width="2.99" height="2.65" fill="#f1f4f6"/>
<rect x="232.46" y="297.85" width="2.99" height="2.65" fill="#f4f6f6"/>
<rect x="235.14" y="297.85" width="2.99" height="2.65" fill="#f2f5f6"/>
<rect x="237.83" y="297.85" width="2.99" height="2.65" fill="#d8e8f1"/>
<rect x="240.51" y="297.85" width="2.99" height="2.65" fill="#bed9eb"/>
<rect x="243.20" y="297.85" width="2.96" height="2.65" fill="#dd9378"/>
<rect x="245.86" y="297.85" width="2.96" height="2.65" fill="#f6ded1"/>
<rect x="248.52" y="297.85" width="2.96" height="2.65" fill="#f8f2ee"/>
<rect x="251.17" y="297.85" width="2.96" height="2.65" fill="#f7e4d9"/>
<rect x="253.83" y="297.85" width="2.96" height="2.65" fill="#f8efea"/>
<rect x="256.49" y="297.85" width="2.96" height="2.65" fill="#f7e5db"/>
<rect x="259.15" y="297.85" width="2.96" height="2.65" fill="#f4d6c6"/>
<rect x="261.81" y="297.85" width="2.96" height="2.65" fill="#f5dbcd"/>
<rect x="264.47" y="297.85" width="2.96" height="2.65" fill="#edbea7"/>
<rect x="267.12" y="297.85" width="2.96" height="2.65" fill="#eab79e"/>
<rect x="269.78" y="297.85" width="2.96" height="2.65" fill="#e8af96"/>
<rect x="272.44" y="297.85" width="2.96" height="2.65" fill="#efc6b1"/>
<rect x="275.10" y="297.85" width="2.96" height="2.65" fill="#eec3ad"/>
<rect x="277.76" y="297.85" width="2.96" height="2.65" fill="#f1cdba"/>
<rect x="280.42" y="297.85" width="2.96" height="2.65" fill="#edbea7"/>
<rect x="283.07" y="297.85" width="2.96" height="2.65" fill="#e6ab91"/>
<rect x="285.73" y="297.85" width="2.96" height="2.65" fill="#f2d0be"/>
<rect x="288.39" y="297.85" width="2.96" height="2.65" fill="#ebb89f"/>
<rect x="291.05" y="297.85" width="2.96" height="2.65" fill="#edc0a9"/>
<rect x="293.71" y="297.85" width="2.96" height="2.65" fill="#e9b49a"/>
<rect x="296.37" y="297.85" width="2.96" height="2.65" fill="#efc6b2"/>
<rect x="299.02" y="297.85" width="2.96" height="2.65" fill="#cd705a"/>
<rect x="301.68" y="297.85" width="2.96" height="2.65" fill="#d58068"/>
<rect x="304.34" y="297.85" width="2.96" height="2.65" fill="#d37d65"/>
<rect x="205.60" y="300.20" width="2.99" height="2.65" fill="#a3cae3"/>
<rect x="208.29" y="300.20" width="2.99" height="2.65" fill="#bcd8ea"/>
<rect x="210.97" y="300.20" width="2.99" height="2.65" fill="#d4e6f0"/>
<rect x="213.66" y="300.20" width="2.99" height="2.65" fill="#edf3f6"/>
<rect x="216.34" y="300.20" width="2.99" height="2.65" fill="#f8f3f0"/>
<rect x="219.03" y="300.20" width="2.99" height="2.65" fill="#dfebf3"/>
<rect x="221.71" y="300.20" width="2.99" height="2.65" fill="#e1ecf3"/>
<rect x="224.40" y="300.20" width="2.99" height="2.65" fill="#eff3f6"/>
<rect x="227.09" y="300.20" width="2.99" height="2.65" fill="#f8f2ee"/>
<rect x="229.77" y="300.20" width="2.99" height="2.65" fill="#edf3f6"/>
<rect x="232.46" y="300.20" width="2.99" height="2.65" fill="#f6f6f6"/>
<rect x="235.14" y="300.20" width="2.99" height="2.65" fill="#f2f5f6"/>
<rect x="237.83" y="300.20" width="2.99" height="2.65" fill="#cbe1ee"/>
<rect x="240.51" y="300.20" width="2.99" height="2.65" fill="#cfe3ef"/>
<rect x="243.20" y="300.20" width="2.96" height="2.65" fill="#e29e84"/>
<rect x="245.86" y="300.20" width="2.96" height="2.65" fill="#f3d4c4"/>
<rect x="248.52" y="300.20" width="2.96" height="2.65" fill="#f5f6f6"/>
<rect x="251.17" y="300.20" width="2.96" height="2.65" fill="#f4d8ca"/>
<rect x="253.83" y="300.20" width="2.96" height="2.65" fill="#f4d9ca"/>
<rect x="256.49" y="300.20" width="2.96" height="2.65" fill="#f7e3d8"/>
<rect x="259.15" y="300.20" width="2.96" height="2.65" fill="#f5dbcd"/>
<rect x="261.81" y="300.20" width="2.96" height="2.65" fill="#f1cdbb"/>
<rect x="264.47" y="300.20" width="2.96" height="2.65" fill="#eab69d"/>
<rect x="267.12" y="300.20" width="2.96" height="2.65" fill="#e5a88e"/>
<rect x="269.78" y="300.20" width="2.96" height="2.65" fill="#ecbba2"/>
<rect x="272.44" y="300.20" width="2.96" height="2.65" fill="#f2d1c0"/>
<rect x="275.10" y="300.20" width="2.96" height="2.65" fill="#f2cfbd"/>
<rect x="277.76" y="300.20" width="2.96" height="2.65" fill="#e19d82"/>
<rect x="280.42" y="300.20" width="2.96" height="2.65" fill="#edbfa8"/>
<rect x="283.07" y="300.20" width="2.96" height="2.65" fill="#eab59c"/>
<rect x="285.73" y="300.20" width="2.96" height="2.65" fill="#ebb89f"/>
<rect x="288.39" y="300.20" width="2.96" height="2.65" fill="#e8b298"/>
<rect x="291.05" y="300.20" width="2.96" height="2.65" fill="#e9b299"/>
<rect x="293.71" y="300.20" width="2.96" height="2.65" fill="#eab69d"/>
<rect x="296.37" y="300.20" width="2.96" height="2.65" fill="#f3d3c2"/>
<rect x="299.02" y="300.20" width="2.96" height="2.65" fill="#d0755f"/>
<rect x="301.68" y="300.20" width="2.96" height="2.65" fill="#d17962"/>
<rect x="304.34" y="300.20" width="2.96" height="2.65" fill="#d58069"/>
<rect x="205.60" y="302.55" width="2.99" height="2.65" fill="#97c2df"/>
<rect x="208.29" y="302.55" width="2.99" height="2.65" fill="#b8d6e9"/>
<rect x="210.97" y="302.55" width="2.99" height="2.65" fill="#d1e4f0"/>
<rect x="213.66" y="302.55" width="2.99" height="2.65" fill="#f5f6f6"/>
<rect x="216.34" y="302.55" width="2.99" height="2.65" fill="#e4eef4"/>
<rect x="219.03" y="302.55" width="2.99" height="2.65" fill="#c6dded"/>
<rect x="221.71" y="302.55" width="2.99" height="2.65" fill="#d1e4ef"/>
<rect x="224.40" y="302.55" width="2.99" height="2.65" fill="#f7f7f6"/>
<rect x="227.09" y="302.55" width="2.99" height="2.65" fill="#ecf2f5"/>
<rect x="229.77" y="302.55" width="2.99" height="2.65" fill="#e2edf3"/>
<rect x="232.46" y="302.55" width="2.99" height="2.65" fill="#f7f7f6"/>
<rect x="235.14" y="302.55" width="2.99" height="2.65" fill="#f7f7f6"/>
<rect x="237.83" y="302.55" width="2.99" height="2.65" fill="#c5ddec"/>
<rect x="240.51" y="302.55" width="2.99" height="2.65" fill="#d3e5f0"/>
<rect x="243.20" y="302.55" width="2.96" height="2.65" fill="#e5a78d"/>
<rect x="245.86" y="302.55" width="2.96" height="2.65" fill="#f2cfbd"/>
<rect x="248.52" y="302.55" width="2.96" height="2.65" fill="#f8f5f3"/>
<rect x="251.17" y="302.55" width="2.96" height="2.65" fill="#f0cab7"/>
<rect x="253.83" y="302.55" width="2.96" height="2.65" fill="#f7dfd3"/>
<rect x="256.49" y="302.55" width="2.96" height="2.65" fill="#f7e6dc"/>
<rect x="259.15" y="302.55" width="2.96" height="2.65" fill="#f1ccb9"/>
<rect x="261.81" y="302.55" width="2.96" height="2.65" fill="#f7e0d4"/>
<rect x="264.47" y="302.55" width="2.96" height="2.65" fill="#ecbba3"/>
<rect x="267.12" y="302.55" width="2.96" height="2.65" fill="#e0997e"/>
<rect x="269.78" y="302.55" width="2.96" height="2.65" fill="#f1cebc"/>
<rect x="272.44" y="302.55" width="2.96" height="2.65" fill="#edbfa8"/>
<rect x="275.10" y="302.55" width="2.96" height="2.65" fill="#e9b299"/>
<rect x="277.76" y="302.55" width="2.96" height="2.65" fill="#efc6b2"/>
<rect x="280.42" y="302.55" width="2.96" height="2.65" fill="#eec3ad"/>
<rect x="283.07" y="302.55" width="2.96" height="2.65" fill="#edc1aa"/>
<rect x="285.73" y="302.55" width="2.96" height="2.65" fill="#f0cab7"/>
<rect x="288.39" y="302.55" width="2.96" height="2.65" fill="#e5a98f"/>
<rect x="291.05" y="302.55" width="2.96" height="2.65" fill="#ebb89f"/>
<rect x="293.71" y="302.55" width="2.96" height="2.65" fill="#e5a78d"/>
<rect x="296.37" y="302.55" width="2.96" height="2.65" fill="#f1ccba"/>
<rect x="299.02" y="302.55" width="2.96" height="2.65" fill="#d6846c"/>
<rect x="301.68" y="302.55" width="2.96" height="2.65" fill="#d37b64"/>
<rect x="304.34" y="302.55" width="2.96" height="2.65" fill="#de957b"/>
<rect x="205.60" y="304.90" width="2.99" height="2.65" fill="#87b9da"/>
<rect x="208.29" y="304.90" width="2.99" height="2.65" fill="#c2dbeb"/>
<rect x="210.97" y="304.90" width="2.99" height="2.65" fill="#c6deed"/>
<rect x="213.66" y="304.90" width="2.99" height="2.65" fill="#eaf1f5"/>
<rect x="216.34" y="304.90" width="2.99" height="2.65" fill="#f7ebe4"/>
<rect x="219.03" y="304.90" width="2.99" height="2.65" fill="#ddeaf2"/>
<rect x="221.71" y="304.90" width="2.99" height="2.65" fill="#cfe2ef"/>
<rect x="224.40" y="304.90" width="2.99" height="2.65" fill="#f7f7f6"/>
<rect x="227.09" y="304.90" width="2.99" height="2.65" fill="#f8ece6"/>
<rect x="229.77" y="304.90" width="2.99" height="2.65" fill="#eef3f6"/>
<rect x="232.46" y="304.90" width="2.99" height="2.65" fill="#f3f5f6"/>
<rect x="235.14" y="304.90" width="2.99" height="2.65" fill="#f7f7f6"/>
<rect x="237.83" y="304.90" width="2.99" height="2.65" fill="#c2dbeb"/>
<rect x="240.51" y="304.90" width="2.99" height="2.65" fill="#d0e4ef"/>
<rect x="243.20" y="304.90" width="2.96" height="2.65" fill="#e5a88e"/>
<rect x="245.86" y="304.90" width="2.96" height="2.65" fill="#f5dcce"/>
<rect x="248.52" y="304.90" width="2.96" height="2.65" fill="#f6f6f6"/>
<rect x="251.17" y="304.90" width="2.96" height="2.65" fill="#f7e6dc"/>
<rect x="253.83" y="304.90" width="2.96" height="2.65" fill="#f5dacb"/>
<rect x="256.49" y="304.90" width="2.96" height="2.65" fill="#f8f6f5"/>
<rect x="259.15" y="304.90" width="2.96" height="2.65" fill="#f4d6c7"/>
<rect x="261.81" y="304.90" width="2.96" height="2.65" fill="#f2cfbd"/>
<rect x="264.47" y="304.90" width="2.96" height="2.65" fill="#efc5b0"/>
<rect x="267.12" y="304.90" width="2.96" height="2.65" fill="#e6ab92"/>
<rect x="269.78" y="304.90" width="2.96" height="2.65" fill="#eec4af"/>
<rect x="272.44" y="304.90" width="2.96" height="2.65" fill="#eec2ac"/>
<rect x="275.10" y="304.90" width="2.96" height="2.65" fill="#f7e4d9"/>
<rect x="277.76" y="304.90" width="2.96" height="2.65" fill="#eab59c"/>
<rect x="280.42" y="304.90" width="2.96" height="2.65" fill="#eab59c"/>
<rect x="283.07" y="304.90" width="2.96" height="2.65" fill="#edbea7"/>
<rect x="285.73" y="304.90" width="2.96" height="2.65" fill="#edbfa8"/>
<rect x="288.39" y="304.90" width="2.96" height="2.65" fill="#e7ad93"/>
<rect x="291.05" y="304.90" width="2.96" height="2.65" fill="#e9b59b"/>
<rect x="293.71" y="304.90" width="2.96" height="2.65" fill="#e5a78d"/>
<rect x="296.37" y="304.90" width="2.96" height="2.65" fill="#f2d0be"/>
<rect x="299.02" y="304.90" width="2.96" height="2.65" fill="#dc9177"/>
<rect x="301.68" y="304.90" width="2.96" height="2.65" fill="#d98a71"/>
<rect x="304.34" y="304.90" width="2.96" height="2.65" fill="#d58169"/>
<rect x="205.60" y="307.25" width="2.99" height="2.65" fill="#88bada"/>
<rect x="208.29" y="307.25" width="2.99" height="2.65" fill="#a1c8e2"/>
<rect x="210.97" y="307.25" width="2.99" height="2.65" fill="#c7deed"/>
<rect x="213.66" y="307.25" width="2.99" height="2.65" fill="#f8f5f3"/>
<rect x="216.34" y="307.25" width="2.99" height="2.65" fill="#f7f6f6"/>
<rect x="219.03" y="307.25" width="2.99" height="2.65" fill="#e2edf3"/>
<rect x="221.71" y="307.25" width="2.99" height="2.65" fill="#dbe9f2"/>
<rect x="224.40" y="307.25" width="2.99" height="2.65" fill="#f4f5f6"/>
<rect x="227.09" y="307.25" width="2.99" height="2.65" fill="#eaf1f5"/>
<rect x="229.77" y="307.25" width="2.99" height="2.65" fill="#f1f4f6"/>
<rect x="232.46" y="307.25" width="2.99" height="2.65" fill="#f5f6f6"/>
<rect x="235.14" y="307.25" width="2.99" height="2.65" fill="#f8f5f4"/>
<rect x="237.83" y="307.25" width="2.99" height="2.65" fill="#d7e7f1"/>
<rect x="240.51" y="307.25" width="2.99" height="2.65" fill="#bed9ea"/>
<rect x="243.20" y="307.25" width="2.96" height="2.65" fill="#b84141"/>
<rect x="245.86" y="307.25" width="2.96" height="2.65" fill="#f4d7c7"/>
<rect x="248.52" y="307.25" width="2.96" height="2.65" fill="#f4f5f6"/>
<rect x="251.17" y="307.25" width="2.96" height="2.65" fill="#f7e4d9"/>
<rect x="253.83" y="307.25" width="2.96" height="2.65" fill="#f7e1d4"/>
<rect x="256.49" y="307.25" width="2.96" height="2.65" fill="#f7e4da"/>
<rect x="259.15" y="307.25" width="2.96" height="2.65" fill="#f1cebc"/>
<rect x="261.81" y="307.25" width="2.96" height="2.65" fill="#f4d6c6"/>
<rect x="264.47" y="307.25" width="2.96" height="2.65" fill="#eec4af"/>
<rect x="267.12" y="307.25" width="2.96" height="2.65" fill="#e8af96"/>
<rect x="269.78" y="307.25" width="2.96" height="2.65" fill="#f1ccb9"/>
<rect x="272.44" y="307.25" width="2.96" height="2.65" fill="#f0cbb7"/>
<rect x="275.10" y="307.25" width="2.96" height="2.65" fill="#e9b49b"/>
<rect x="277.76" y="307.25" width="2.96" height="2.65" fill="#eec3ad"/>
<rect x="280.42" y="307.25" width="2.96" height="2.65" fill="#ebb89f"/>
<rect x="283.07" y="307.25" width="2.96" height="2.65" fill="#e7ae94"/>
<rect x="285.73" y="307.25" width="2.96" height="2.65" fill="#efc7b3"/>
<rect x="288.39" y="307.25" width="2.96" height="2.65" fill="#e8af96"/>
<rect x="291.05" y="307.25" width="2.96" height="2.65" fill="#e5a88e"/>
<rect x="293.71" y="307.25" width="2.96" height="2.65" fill="#edc0a9"/>
<rect x="296.37" y="307.25" width="2.96" height="2.65" fill="#f0cbb8"/>
<rect x="299.02" y="307.25" width="2.96" height="2.65" fill="#e29f84"/>
<rect x="301.68" y="307.25" width="2.96" height="2.65" fill="#ca6954"/>
<rect x="304.34" y="307.25" width="2.96" height="2.65" fill="#d7846c"/>
<rect x="205.6" y="210.1" width="5.300000000000011" height="5.5" fill="#3b3e80" />
<rect x="210.9" y="210.1" width="2.9000000000000057" height="5.5" fill="#d9d5da" />
<rect x="213.8" y="210.1" width="4.899999999999977" height="5.5" fill="#3b3e80" />
<rect x="218.7" y="210.1" width="16.400000000000006" height="5.5" fill="#d9d5da" />
<rect x="235.1" y="210.1" width="2.0999999999999943" height="5.5" fill="#3b3e80" />
<rect x="237.2" y="210.1" width="3.8000000000000114" height="5.5" fill="#d9d5da" />
<rect x="241" y="210.1" width="2.1999999999999886" height="5.5" fill="#3b3e80" />
<rect x="243.2" y="210.1" width="18.30000000000001" height="5.5" fill="#3b3e80" />
<rect x="261.5" y="210.1" width="2.6999999999999886" height="5.5" fill="#d9d5da" />
<rect x="264.2" y="210.1" width="2.6999999999999886" height="5.5" fill="#3b3e80" />
<rect x="266.9" y="210.1" width="2.7000000000000455" height="5.5" fill="#d9d5da" />
<rect x="269.6" y="210.1" width="10.799999999999955" height="5.5" fill="#3b3e80" />
<rect x="280.4" y="210.1" width="2.400000000000034" height="5.5" fill="#d9d5da" />
<rect x="282.8" y="210.1" width="24.19999999999999" height="5.5" fill="#3b3e80" />
<line x1="228.42857142857142" y1="210.1" x2="228.42857142857142" y2="204.4396338053303" stroke="#a9a9a9" stroke-width="0.55" />
<line x1="231.1142857142857" y1="210.1" x2="231.1142857142857" y2="204.4396338053303" stroke="#a9a9a9" stroke-width="0.55" />
<line x1="228.42857142857142" y1="204.4396338053303" x2="231.1142857142857" y2="204.4396338053303" stroke="#a9a9a9" stroke-width="0.55" />
<line x1="215.0" y1="210.1" x2="215.0" y2="204.53076010096845" stroke="#a9a9a9" stroke-width="0.55" />
<line x1="217.68571428571428" y1="210.1" x2="217.68571428571428" y2="204.53076010096845" stroke="#a9a9a9" stroke-width="0.55" />
<line x1="215.0" y1="204.53076010096845" x2="217.68571428571428" y2="204.53076010096845" stroke="#a9a9a9" stroke-width="0.55" />
<line x1="216.34285714285716" y1="204.53076010096845" x2="216.34285714285716" y2="203.42260904599394" stroke="#a9a9a9" stroke-width="0.55" />
<line x1="220.37142857142857" y1="210.1" x2="220.37142857142857" y2="203.42260904599394" stroke="#a9a9a9" stroke-width="0.55" />
<line x1="216.34285714285716" y1="203.42260904599394" x2="220.37142857142857" y2="203.42260904599394" stroke="#a9a9a9" stroke-width="0.55" />
<line x1="212.31428571428572" y1="210.1" x2="212.31428571428572" y2="201.80626367418537" stroke="#a9a9a9" stroke-width="0.55" />
<line x1="218.35714285714286" y1="203.42260904599394" x2="218.35714285714286" y2="201.80626367418537" stroke="#a9a9a9" stroke-width="0.55" />
<line x1="212.31428571428572" y1="201.80626367418537" x2="218.35714285714286" y2="201.80626367418537" stroke="#a9a9a9" stroke-width="0.55" />
<line x1="233.79999999999998" y1="210.1" x2="233.79999999999998" y2="204.4881445582654" stroke="#a9a9a9" stroke-width="0.55" />
<line x1="236.48571428571427" y1="210.1" x2="236.48571428571427" y2="204.4881445582654" stroke="#a9a9a9" stroke-width="0.55" />
<line x1="233.79999999999998" y1="204.4881445582654" x2="236.48571428571427" y2="204.4881445582654" stroke="#a9a9a9" stroke-width="0.55" />
<line x1="209.62857142857143" y1="210.1" x2="209.62857142857143" y2="200.96749625578647" stroke="#a9a9a9" stroke-width="0.55" />
<line x1="215.3357142857143" y1="201.80626367418537" x2="215.3357142857143" y2="200.96749625578647" stroke="#a9a9a9" stroke-width="0.55" />
<line x1="209.62857142857143" y1="200.96749625578647" x2="215.3357142857143" y2="200.96749625578647" stroke="#a9a9a9" stroke-width="0.55" />
<line x1="229.77142857142854" y1="204.4396338053303" x2="229.77142857142854" y2="203.29479811919276" stroke="#a9a9a9" stroke-width="0.55" />
<line x1="235.1428571428571" y1="204.4881445582654" x2="235.1428571428571" y2="203.29479811919276" stroke="#a9a9a9" stroke-width="0.55" />
<line x1="229.77142857142854" y1="203.29479811919276" x2="235.1428571428571" y2="203.29479811919276" stroke="#a9a9a9" stroke-width="0.55" />
<line x1="212.48214285714286" y1="200.96749625578647" x2="212.48214285714286" y2="200.26572139358393" stroke="#a9a9a9" stroke-width="0.55" />
<line x1="223.05714285714285" y1="210.1" x2="223.05714285714285" y2="200.26572139358393" stroke="#a9a9a9" stroke-width="0.55" />
<line x1="212.48214285714286" y1="200.26572139358393" x2="223.05714285714285" y2="200.26572139358393" stroke="#a9a9a9" stroke-width="0.55" />
<line x1="206.94285714285715" y1="210.1" x2="206.94285714285715" y2="199.4" stroke="#a9a9a9" stroke-width="0.55" />
<line x1="217.76964285714286" y1="200.26572139358393" x2="217.76964285714286" y2="199.4" stroke="#a9a9a9" stroke-width="0.55" />
<line x1="206.94285714285715" y1="199.4" x2="217.76964285714286" y2="199.4" stroke="#a9a9a9" stroke-width="0.55" />
<line x1="225.74285714285713" y1="210.1" x2="225.74285714285713" y2="201.63467101897527" stroke="#a9a9a9" stroke-width="0.55" />
<line x1="232.45714285714283" y1="203.29479811919276" x2="232.45714285714283" y2="201.63467101897527" stroke="#a9a9a9" stroke-width="0.55" />
<line x1="225.74285714285713" y1="201.63467101897527" x2="232.45714285714283" y2="201.63467101897527" stroke="#a9a9a9" stroke-width="0.55" />
<line x1="212.35625" y1="199.4" x2="212.35625" y2="199.4" stroke="#a9a9a9" stroke-width="0.55" />
<line x1="229.09999999999997" y1="201.63467101897527" x2="229.09999999999997" y2="199.4" stroke="#a9a9a9" stroke-width="0.55" />
<line x1="212.35625" y1="199.4" x2="229.09999999999997" y2="199.4" stroke="#a9a9a9" stroke-width="0.55" />
<line x1="239.17142857142858" y1="210.1" x2="239.17142857142858" y2="205.41367601280965" stroke="#a9a9a9" stroke-width="0.55" />
<line x1="241.85714285714283" y1="210.1" x2="241.85714285714283" y2="205.41367601280965" stroke="#a9a9a9" stroke-width="0.55" />
<line x1="239.17142857142858" y1="205.41367601280965" x2="241.85714285714283" y2="205.41367601280965" stroke="#a9a9a9" stroke-width="0.55" />
<line x1="220.72812499999998" y1="199.4" x2="220.72812499999998" y2="199.4" stroke="#a9a9a9" stroke-width="0.55" />
<line x1="240.5142857142857" y1="205.41367601280965" x2="240.5142857142857" y2="199.4" stroke="#a9a9a9" stroke-width="0.55" />
<line x1="220.72812499999998" y1="199.4" x2="240.5142857142857" y2="199.4" stroke="#a9a9a9" stroke-width="0.55" />
<line x1="252.50416666666666" y1="210.1" x2="252.50416666666666" y2="203.81463994992683" stroke="#a9a9a9" stroke-width="0.55" />
<line x1="255.1625" y1="210.1" x2="255.1625" y2="203.81463994992683" stroke="#a9a9a9" stroke-width="0.55" />
<line x1="252.50416666666666" y1="203.81463994992683" x2="255.1625" y2="203.81463994992683" stroke="#a9a9a9" stroke-width="0.55" />
<line x1="263.1375" y1="210.1" x2="263.1375" y2="204.8400878282989" stroke="#a9a9a9" stroke-width="0.55" />
<line x1="265.79583333333335" y1="210.1" x2="265.79583333333335" y2="204.8400878282989" stroke="#a9a9a9" stroke-width="0.55" />
<line x1="263.1375" y1="204.8400878282989" x2="265.79583333333335" y2="204.8400878282989" stroke="#a9a9a9" stroke-width="0.55" />
<line x1="284.40416666666664" y1="210.1" x2="284.40416666666664" y2="205.41539343807065" stroke="#a9a9a9" stroke-width="0.55" />
<line x1="287.0625" y1="210.1" x2="287.0625" y2="205.41539343807065" stroke="#a9a9a9" stroke-width="0.55" />
<line x1="284.40416666666664" y1="205.41539343807065" x2="287.0625" y2="205.41539343807065" stroke="#a9a9a9" stroke-width="0.55" />
<line x1="271.1125" y1="210.1" x2="271.1125" y2="205.04107170974146" stroke="#a9a9a9" stroke-width="0.55" />
<line x1="273.7708333333333" y1="210.1" x2="273.7708333333333" y2="205.04107170974146" stroke="#a9a9a9" stroke-width="0.55" />
<line x1="271.1125" y1="205.04107170974146" x2="273.7708333333333" y2="205.04107170974146" stroke="#a9a9a9" stroke-width="0.55" />
<line x1="285.73333333333335" y1="205.41539343807065" x2="285.73333333333335" y2="204.4342090229861" stroke="#a9a9a9" stroke-width="0.55" />
<line x1="289.7208333333333" y1="210.1" x2="289.7208333333333" y2="204.4342090229861" stroke="#a9a9a9" stroke-width="0.55" />
<line x1="285.73333333333335" y1="204.4342090229861" x2="289.7208333333333" y2="204.4342090229861" stroke="#a9a9a9" stroke-width="0.55" />
<line x1="247.1875" y1="210.1" x2="247.1875" y2="205.76723695042256" stroke="#a9a9a9" stroke-width="0.55" />
<line x1="249.84583333333333" y1="210.1" x2="249.84583333333333" y2="205.76723695042256" stroke="#a9a9a9" stroke-width="0.55" />
<line x1="247.1875" y1="205.76723695042256" x2="249.84583333333333" y2="205.76723695042256" stroke="#a9a9a9" stroke-width="0.55" />
<line x1="244.52916666666667" y1="210.1" x2="244.52916666666667" y2="204.18786376202237" stroke="#a9a9a9" stroke-width="0.55" />
<line x1="248.51666666666665" y1="205.76723695042256" x2="248.51666666666665" y2="204.18786376202237" stroke="#a9a9a9" stroke-width="0.55" />
<line x1="244.52916666666667" y1="204.18786376202237" x2="248.51666666666665" y2="204.18786376202237" stroke="#a9a9a9" stroke-width="0.55" />
<line x1="253.83333333333331" y1="203.81463994992683" x2="253.83333333333331" y2="202.21882724194523" stroke="#a9a9a9" stroke-width="0.55" />
<line x1="257.8208333333333" y1="210.1" x2="257.8208333333333" y2="202.21882724194523" stroke="#a9a9a9" stroke-width="0.55" />
<line x1="253.83333333333331" y1="202.21882724194523" x2="257.8208333333333" y2="202.21882724194523" stroke="#a9a9a9" stroke-width="0.55" />
<line x1="300.3541666666667" y1="210.1" x2="300.3541666666667" y2="204.4727645951491" stroke="#a9a9a9" stroke-width="0.55" />
<line x1="303.0125" y1="210.1" x2="303.0125" y2="204.4727645951491" stroke="#a9a9a9" stroke-width="0.55" />
<line x1="300.3541666666667" y1="204.4727645951491" x2="303.0125" y2="204.4727645951491" stroke="#a9a9a9" stroke-width="0.55" />
<line x1="246.52291666666667" y1="204.18786376202237" x2="246.52291666666667" y2="201.28209392885617" stroke="#a9a9a9" stroke-width="0.55" />
<line x1="255.82708333333332" y1="202.21882724194523" x2="255.82708333333332" y2="201.28209392885617" stroke="#a9a9a9" stroke-width="0.55" />
<line x1="246.52291666666667" y1="201.28209392885617" x2="255.82708333333332" y2="201.28209392885617" stroke="#a9a9a9" stroke-width="0.55" />
<line x1="297.6958333333333" y1="210.1" x2="297.6958333333333" y2="202.86635396919414" stroke="#a9a9a9" stroke-width="0.55" />
<line x1="301.68333333333334" y1="204.4727645951491" x2="301.68333333333334" y2="202.86635396919414" stroke="#a9a9a9" stroke-width="0.55" />
<line x1="297.6958333333333" y1="202.86635396919414" x2="301.68333333333334" y2="202.86635396919414" stroke="#a9a9a9" stroke-width="0.55" />
<line x1="260.47916666666663" y1="210.1" x2="260.47916666666663" y2="203.17607526807402" stroke="#a9a9a9" stroke-width="0.55" />
<line x1="264.4666666666667" y1="204.8400878282989" x2="264.4666666666667" y2="203.17607526807402" stroke="#a9a9a9" stroke-width="0.55" />
<line x1="260.47916666666663" y1="203.17607526807402" x2="264.4666666666667" y2="203.17607526807402" stroke="#a9a9a9" stroke-width="0.55" />
<line x1="251.175" y1="201.28209392885617" x2="251.175" y2="200.46086148805398" stroke="#a9a9a9" stroke-width="0.55" />
<line x1="262.47291666666666" y1="203.17607526807402" x2="262.47291666666666" y2="200.46086148805398" stroke="#a9a9a9" stroke-width="0.55" />
<line x1="251.175" y1="200.46086148805398" x2="262.47291666666666" y2="200.46086148805398" stroke="#a9a9a9" stroke-width="0.55" />
<line x1="299.6895833333333" y1="202.86635396919414" x2="299.6895833333333" y2="201.96868362198558" stroke="#a9a9a9" stroke-width="0.55" />
<line x1="305.67083333333335" y1="210.1" x2="305.67083333333335" y2="201.96868362198558" stroke="#a9a9a9" stroke-width="0.55" />
<line x1="299.6895833333333" y1="201.96868362198558" x2="305.67083333333335" y2="201.96868362198558" stroke="#a9a9a9" stroke-width="0.55" />
<line x1="276.4291666666667" y1="210.1" x2="276.4291666666667" y2="204.8110823208556" stroke="#a9a9a9" stroke-width="0.55" />
<line x1="279.0875" y1="210.1" x2="279.0875" y2="204.8110823208556" stroke="#a9a9a9" stroke-width="0.55" />
<line x1="276.4291666666667" y1="204.8110823208556" x2="279.0875" y2="204.8110823208556" stroke="#a9a9a9" stroke-width="0.55" />
<line x1="268.45416666666665" y1="210.1" x2="268.45416666666665" y2="204.20788831581774" stroke="#a9a9a9" stroke-width="0.55" />
<line x1="272.44166666666666" y1="205.04107170974146" x2="272.44166666666666" y2="204.20788831581774" stroke="#a9a9a9" stroke-width="0.55" />
<line x1="268.45416666666665" y1="204.20788831581774" x2="272.44166666666666" y2="204.20788831581774" stroke="#a9a9a9" stroke-width="0.55" />
<line x1="256.82395833333334" y1="200.46086148805398" x2="256.82395833333334" y2="199.2600580987667" stroke="#a9a9a9" stroke-width="0.55" />
<line x1="270.44791666666663" y1="204.20788831581774" x2="270.44791666666663" y2="199.2600580987667" stroke="#a9a9a9" stroke-width="0.55" />
<line x1="256.82395833333334" y1="199.2600580987667" x2="270.44791666666663" y2="199.2600580987667" stroke="#a9a9a9" stroke-width="0.55" />
<line x1="292.37916666666666" y1="210.1" x2="292.37916666666666" y2="204.09368388492578" stroke="#a9a9a9" stroke-width="0.55" />
<line x1="295.0375" y1="210.1" x2="295.0375" y2="204.09368388492578" stroke="#a9a9a9" stroke-width="0.55" />
<line x1="292.37916666666666" y1="204.09368388492578" x2="295.0375" y2="204.09368388492578" stroke="#a9a9a9" stroke-width="0.55" />
<line x1="277.7583333333333" y1="204.8110823208556" x2="277.7583333333333" y2="203.69097489608367" stroke="#a9a9a9" stroke-width="0.55" />
<line x1="281.74583333333334" y1="210.1" x2="281.74583333333334" y2="203.69097489608367" stroke="#a9a9a9" stroke-width="0.55" />
<line x1="277.7583333333333" y1="203.69097489608367" x2="281.74583333333334" y2="203.69097489608367" stroke="#a9a9a9" stroke-width="0.55" />
<line x1="293.70833333333337" y1="204.09368388492578" x2="293.70833333333337" y2="201.07651912909" stroke="#a9a9a9" stroke-width="0.55" />
<line x1="302.6802083333333" y1="201.96868362198558" x2="302.6802083333333" y2="201.07651912909" stroke="#a9a9a9" stroke-width="0.55" />
<line x1="293.70833333333337" y1="201.07651912909" x2="302.6802083333333" y2="201.07651912909" stroke="#a9a9a9" stroke-width="0.55" />
<line x1="263.63593749999995" y1="199.2600580987667" x2="263.63593749999995" y2="199.2" stroke="#a9a9a9" stroke-width="0.55" />
<line x1="279.7520833333333" y1="203.69097489608367" x2="279.7520833333333" y2="199.2" stroke="#a9a9a9" stroke-width="0.55" />
<line x1="263.63593749999995" y1="199.2" x2="279.7520833333333" y2="199.2" stroke="#a9a9a9" stroke-width="0.55" />
<line x1="271.69401041666663" y1="199.2" x2="271.69401041666663" y2="199.2" stroke="#a9a9a9" stroke-width="0.55" />
<line x1="287.7270833333333" y1="204.4342090229861" x2="287.7270833333333" y2="199.2" stroke="#a9a9a9" stroke-width="0.55" />
<line x1="271.69401041666663" y1="199.2" x2="287.7270833333333" y2="199.2" stroke="#a9a9a9" stroke-width="0.55" />
<line x1="279.710546875" y1="199.2" x2="279.710546875" y2="199.2" stroke="#a9a9a9" stroke-width="0.55" />
<line x1="298.19427083333335" y1="201.07651912909" x2="298.19427083333335" y2="199.2" stroke="#a9a9a9" stroke-width="0.55" />
<line x1="279.710546875" y1="199.2" x2="298.19427083333335" y2="199.2" stroke="#a9a9a9" stroke-width="0.55" />
<rect x="205.4" y="187.4" width="101.9" height="122.3" fill="none" stroke="#2a2a2a" stroke-width="1.2"/>
<line x1="205.4" y1="197.3" x2="307.3" y2="197.3" stroke="#222" stroke-width="0.9" />
<line x1="243.2" y1="187.4" x2="243.2" y2="309.7" stroke="#2a2a2a" stroke-width="0.9" />
<text x="209.1" y="194.3" font-size="6.3" fill="#1a1a1a" stroke="#1a1a1a" stroke-width="0.2" text-anchor="start" textLength="31.0" lengthAdjust="spacingAndGlyphs" >“G2/M low”</text>
<text x="259.5" y="194.3" font-size="6.3" fill="#1a1a1a" stroke="#1a1a1a" stroke-width="0.2" text-anchor="start" textLength="32.3" lengthAdjust="spacingAndGlyphs" >“G2/M high”</text>
<text transform="translate(201.7,249.7) rotate(-90)" font-size="6.6" fill="#1a1a1a" stroke="#1a1a1a" stroke-width="0.2" text-anchor="middle" textLength="68.1" lengthAdjust="spacingAndGlyphs">Top G2/M signature genes</text>
<text x="245.0" y="318.4" font-size="6.9" fill="#1a1a1a" stroke="#1a1a1a" stroke-width="0.2" text-anchor="start" textLength="22.9" lengthAdjust="spacingAndGlyphs" >Samples</text>
<rect x="312.4" y="206.4" width="4.7" height="4.3" fill="#3b3e80" stroke="#555" stroke-width="0.4"/>
<text x="320.5" y="210.8" font-size="7.6" fill="#111" stroke="#111" stroke-width="0.2" text-anchor="start" textLength="8.3" lengthAdjust="spacingAndGlyphs" >CK</text>
<rect x="312.4" y="214.2" width="4.7" height="4.3" fill="#d9d5da" stroke="#666" stroke-width="0.5"/>
<text x="320.5" y="218.7" font-size="7.6" fill="#111" stroke="#111" stroke-width="0.2" text-anchor="start" textLength="14.4" lengthAdjust="spacingAndGlyphs" >Inter</text>
<text x="311.9" y="286.1" font-size="8.8" fill="#111" stroke="#111" stroke-width="0.2" text-anchor="start" textLength="25.0" lengthAdjust="spacingAndGlyphs" >Z-score</text>
<defs><linearGradient id="zs" x1="0" x2="0" y1="0" y2="1"><stop offset="0" stop-color="#a51c2e"/><stop offset="0.22" stop-color="#de7a66"/><stop offset="0.42" stop-color="#f6f4f2"/><stop offset="0.6" stop-color="#cfe3ef"/><stop offset="0.8" stop-color="#5a9fcc"/><stop offset="1" stop-color="#1a68aa"/></linearGradient></defs>
<rect x="311.8" y="289.4" width="5.1" height="21.4" fill="url(#zs)" />
<line x1="317.1" y1="290.7" x2="318.2" y2="290.7" stroke="#777" stroke-width="0.4" />
<text x="327.8" y="291.9" font-size="3.4" fill="#888" stroke="#888" stroke-width="0.2" text-anchor="end" >3.0</text>
<line x1="317.1" y1="294.4" x2="318.2" y2="294.4" stroke="#777" stroke-width="0.4" />
<text x="327.8" y="295.59999999999997" font-size="3.4" fill="#888" stroke="#888" stroke-width="0.2" text-anchor="end" >1.5</text>
<line x1="317.1" y1="298.7" x2="318.2" y2="298.7" stroke="#777" stroke-width="0.4" />
<text x="327.8" y="299.9" font-size="3.4" fill="#888" stroke="#888" stroke-width="0.2" text-anchor="end" >0.0</text>
<line x1="317.1" y1="302.4" x2="318.2" y2="302.4" stroke="#777" stroke-width="0.4" />
<text x="327.8" y="303.59999999999997" font-size="3.4" fill="#888" stroke="#888" stroke-width="0.2" text-anchor="end" >-1.5</text>
<line x1="317.1" y1="306.5" x2="318.2" y2="306.5" stroke="#777" stroke-width="0.4" />
<text x="327.8" y="307.7" font-size="3.4" fill="#888" stroke="#888" stroke-width="0.2" text-anchor="end" >-3.0</text>
<line x1="317.1" y1="310.2" x2="318.2" y2="310.2" stroke="#777" stroke-width="0.4" />
<text x="327.8" y="311.4" font-size="3.4" fill="#888" stroke="#888" stroke-width="0.2" text-anchor="end" >-4.5</text>
<text x="393.8" y="197.5" font-size="7.7" fill="#111" stroke="#111" stroke-width="0.2" text-anchor="start" textLength="34.0" lengthAdjust="spacingAndGlyphs" >Rigosertib</text>
<text x="396.0" y="206.5" font-size="7.7" fill="#111" stroke="#111" stroke-width="0.2" text-anchor="start" textLength="29.3" lengthAdjust="spacingAndGlyphs" >p = 0.005</text>
<text x="471.9" y="197.4" font-size="7.7" fill="#111" stroke="#111" stroke-width="0.2" text-anchor="start" textLength="33.6" lengthAdjust="spacingAndGlyphs" >Volasertib</text>
<text x="476.2" y="206.3" font-size="7.7" fill="#111" stroke="#111" stroke-width="0.2" text-anchor="start" textLength="24.4" lengthAdjust="spacingAndGlyphs" >p = 0.01</text>
<line x1="393.4" y1="211.4" x2="393.4" y2="293.90000000000003" stroke="#1a1a1a" stroke-width="1.1" />
<line x1="392.9" y1="293.3" x2="425.7" y2="293.3" stroke="#1a1a1a" stroke-width="1.1" />
<line x1="390.2" y1="217.1" x2="393.4" y2="217.1" stroke="#1a1a1a" stroke-width="0.9" />
<text x="387.59999999999997" y="219.79999999999998" font-size="7.6" fill="#1a1a1a" stroke="#1a1a1a" stroke-width="0.2" text-anchor="end" >10</text>
<line x1="390.2" y1="235.2" x2="393.4" y2="235.2" stroke="#1a1a1a" stroke-width="0.9" />
<text x="387.59999999999997" y="237.89999999999998" font-size="7.6" fill="#1a1a1a" stroke="#1a1a1a" stroke-width="0.2" text-anchor="end" >8</text>
<line x1="390.2" y1="253.3" x2="393.4" y2="253.3" stroke="#1a1a1a" stroke-width="0.9" />
<text x="387.59999999999997" y="256.0" font-size="7.6" fill="#1a1a1a" stroke="#1a1a1a" stroke-width="0.2" text-anchor="end" >6</text>
<line x1="390.2" y1="271.2" x2="393.4" y2="271.2" stroke="#1a1a1a" stroke-width="0.9" />
<text x="387.59999999999997" y="273.9" font-size="7.6" fill="#1a1a1a" stroke="#1a1a1a" stroke-width="0.2" text-anchor="end" >4</text>
<line x1="390.2" y1="289.2" x2="393.4" y2="289.2" stroke="#1a1a1a" stroke-width="0.9" />
<text x="387.59999999999997" y="291.9" font-size="7.6" fill="#1a1a1a" stroke="#1a1a1a" stroke-width="0.2" text-anchor="end" >2</text>
<line x1="399.8" y1="293.3" x2="399.8" y2="295.6" stroke="#1a1a1a" stroke-width="0.9" />
<line x1="417.9" y1="293.3" x2="417.9" y2="295.6" stroke="#1a1a1a" stroke-width="0.9" />
<line x1="470.9" y1="211.5" x2="470.9" y2="292.70000000000005" stroke="#1a1a1a" stroke-width="1.1" />
<line x1="470.4" y1="292.1" x2="503.8" y2="292.1" stroke="#1a1a1a" stroke-width="1.1" />
<line x1="467.7" y1="225.3" x2="470.9" y2="225.3" stroke="#1a1a1a" stroke-width="0.9" />
<text x="465.09999999999997" y="228.0" font-size="7.6" fill="#1a1a1a" stroke="#1a1a1a" stroke-width="0.2" text-anchor="end" >8</text>
<line x1="467.7" y1="246.7" x2="470.9" y2="246.7" stroke="#1a1a1a" stroke-width="0.9" />
<text x="465.09999999999997" y="249.39999999999998" font-size="7.6" fill="#1a1a1a" stroke="#1a1a1a" stroke-width="0.2" text-anchor="end" >6</text>
<line x1="467.7" y1="267.7" x2="470.9" y2="267.7" stroke="#1a1a1a" stroke-width="0.9" />
<text x="465.09999999999997" y="270.4" font-size="7.6" fill="#1a1a1a" stroke="#1a1a1a" stroke-width="0.2" text-anchor="end" >4</text>
<line x1="467.7" y1="289.2" x2="470.9" y2="289.2" stroke="#1a1a1a" stroke-width="0.9" />
<text x="465.09999999999997" y="291.9" font-size="7.6" fill="#1a1a1a" stroke="#1a1a1a" stroke-width="0.2" text-anchor="end" >2</text>
<line x1="477.9" y1="292.1" x2="477.9" y2="294.40000000000003" stroke="#1a1a1a" stroke-width="0.9" />
<line x1="499.1" y1="292.1" x2="499.1" y2="294.40000000000003" stroke="#1a1a1a" stroke-width="0.9" />
<circle cx="401.30" cy="214.10" r="1.85" fill="#b02a3c" stroke="none" stroke-width="0.5"/>
<circle cx="398.30" cy="253.50" r="1.85" fill="#b02a3c" stroke="none" stroke-width="0.5"/>
<circle cx="401.50" cy="267.30" r="1.85" fill="#b02a3c" stroke="none" stroke-width="0.5"/>
<circle cx="398.70" cy="275.60" r="1.85" fill="#b02a3c" stroke="none" stroke-width="0.5"/>
<circle cx="401.90" cy="275.20" r="1.85" fill="#b02a3c" stroke="none" stroke-width="0.5"/>
<circle cx="400.00" cy="278.30" r="1.85" fill="#b02a3c" stroke="none" stroke-width="0.5"/>
<circle cx="401.60" cy="279.90" r="1.85" fill="#b02a3c" stroke="none" stroke-width="0.5"/>
<circle cx="418.90" cy="219.30" r="1.85" fill="#3d5f94" stroke="none" stroke-width="0.5"/>
<circle cx="417.20" cy="257.60" r="1.85" fill="#3d5f94" stroke="none" stroke-width="0.5"/>
<circle cx="418.90" cy="271.60" r="1.85" fill="#3d5f94" stroke="none" stroke-width="0.5"/>
<circle cx="417.90" cy="275.20" r="1.85" fill="#3d5f94" stroke="none" stroke-width="0.5"/>
<circle cx="416.80" cy="277.50" r="1.85" fill="#3d5f94" stroke="none" stroke-width="0.5"/>
<circle cx="420.00" cy="277.30" r="1.85" fill="#3d5f94" stroke="none" stroke-width="0.5"/>
<circle cx="415.70" cy="280.10" r="1.85" fill="#3d5f94" stroke="none" stroke-width="0.5"/>
<circle cx="418.50" cy="280.60" r="1.85" fill="#3d5f94" stroke="none" stroke-width="0.5"/>
<circle cx="419.40" cy="283.70" r="1.85" fill="#3d5f94" stroke="none" stroke-width="0.5"/>
<circle cx="416.80" cy="286.90" r="1.85" fill="#3d5f94" stroke="none" stroke-width="0.5"/>
<circle cx="418.50" cy="287.00" r="1.85" fill="#3d5f94" stroke="none" stroke-width="0.5"/>
<circle cx="417.20" cy="289.50" r="1.85" fill="#3d5f94" stroke="none" stroke-width="0.5"/>
<line x1="395.5" y1="271.0" x2="404.2" y2="271.0" stroke="#111" stroke-width="0.9" />
<line x1="413.6" y1="280.5" x2="422.2" y2="280.5" stroke="#111" stroke-width="0.9" />
<circle cx="477.90" cy="249.60" r="1.85" fill="#b02a3c" stroke="none" stroke-width="0.5"/>
<circle cx="475.70" cy="252.80" r="1.85" fill="#b02a3c" stroke="none" stroke-width="0.5"/>
<circle cx="476.20" cy="259.60" r="1.85" fill="#b02a3c" stroke="none" stroke-width="0.5"/>
<circle cx="476.60" cy="262.30" r="1.85" fill="#b02a3c" stroke="none" stroke-width="0.5"/>
<circle cx="477.70" cy="267.70" r="1.85" fill="#b02a3c" stroke="none" stroke-width="0.5"/>
<circle cx="478.90" cy="289.00" r="1.85" fill="#b02a3c" stroke="none" stroke-width="0.5"/>
<circle cx="500.60" cy="214.00" r="1.85" fill="#3d5f94" stroke="none" stroke-width="0.5"/>
<circle cx="497.00" cy="265.10" r="1.85" fill="#3d5f94" stroke="none" stroke-width="0.5"/>
<circle cx="500.60" cy="269.40" r="1.85" fill="#3d5f94" stroke="none" stroke-width="0.5"/>
<circle cx="501.30" cy="272.30" r="1.85" fill="#3d5f94" stroke="none" stroke-width="0.5"/>
<circle cx="497.40" cy="276.20" r="1.85" fill="#3d5f94" stroke="none" stroke-width="0.5"/>
<circle cx="500.20" cy="278.30" r="1.85" fill="#3d5f94" stroke="none" stroke-width="0.5"/>
<circle cx="501.70" cy="280.40" r="1.85" fill="#3d5f94" stroke="none" stroke-width="0.5"/>
<circle cx="495.70" cy="284.70" r="1.85" fill="#3d5f94" stroke="none" stroke-width="0.5"/>
<circle cx="497.90" cy="287.20" r="1.85" fill="#3d5f94" stroke="none" stroke-width="0.5"/>
<circle cx="500.60" cy="287.90" r="1.85" fill="#3d5f94" stroke="none" stroke-width="0.5"/>
<circle cx="499.10" cy="290.00" r="1.85" fill="#3d5f94" stroke="none" stroke-width="0.5"/>
<circle cx="498.50" cy="282.00" r="1.85" fill="#3d5f94" stroke="none" stroke-width="0.5"/>
<line x1="472.3" y1="261.3" x2="482.6" y2="261.3" stroke="#111" stroke-width="0.9" />
<line x1="494.3" y1="284.3" x2="503.8" y2="284.3" stroke="#111" stroke-width="0.9" />
<text x="392.7" y="305.6" font-size="7.4" fill="#111" stroke="#111" stroke-width="0.2" text-anchor="start" textLength="14.9" lengthAdjust="spacingAndGlyphs" >Low</text>
<text x="410.2" y="305.6" font-size="7.4" fill="#111" stroke="#111" stroke-width="0.2" text-anchor="start" textLength="15.7" lengthAdjust="spacingAndGlyphs" >High</text>
<text x="470.8" y="306.0" font-size="7.2" fill="#111" stroke="#111" stroke-width="0.2" text-anchor="start" textLength="13.8" lengthAdjust="spacingAndGlyphs" >Low</text>
<text x="490.8" y="306.0" font-size="7.2" fill="#111" stroke="#111" stroke-width="0.2" text-anchor="start" textLength="16.1" lengthAdjust="spacingAndGlyphs" >High</text>
<text x="379.6" y="319.4" font-size="9.0" fill="#111" stroke="#111" stroke-width="0.2" text-anchor="start" textLength="62.2" lengthAdjust="spacingAndGlyphs" >G2/M signature</text>
<text x="457.7" y="319.4" font-size="9.0" fill="#111" stroke="#111" stroke-width="0.2" text-anchor="start" textLength="61.5" lengthAdjust="spacingAndGlyphs" >G2/M signature</text>
<text transform="translate(372.6,250.85) rotate(-90)" font-size="8.5" fill="#111" stroke="#111" stroke-width="0.2" text-anchor="middle" textLength="41.1" lengthAdjust="spacingAndGlyphs">log2(IC50)</text>
<text transform="translate(457.5,251.2) rotate(-90)" font-size="8.5" fill="#111" stroke="#111" stroke-width="0.2" text-anchor="middle" textLength="38.4" lengthAdjust="spacingAndGlyphs">log2(IC50</text>
<rect x="0" y="0" width="520" height="1" fill="#111" />
<rect x="0" y="0" width="2" height="329" fill="#4a4a4a" />
<rect x="518" y="0" width="1" height="329" fill="#222" />
<rect x="0" y="327" width="520" height="2" fill="#444" />
</svg>
</body></html>
